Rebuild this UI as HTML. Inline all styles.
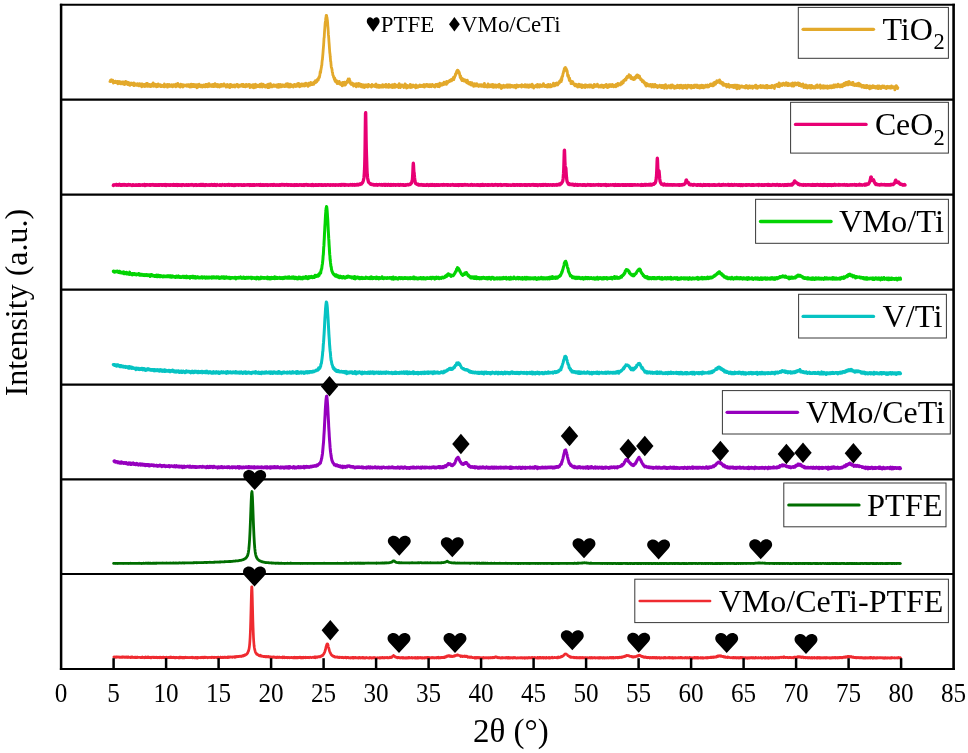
<!DOCTYPE html>
<html><head><meta charset="utf-8"><title>XRD patterns</title>
<style>html,body{margin:0;padding:0;background:#fff;}svg{display:block;will-change:transform;}text{font-family:"Liberation Serif", serif;fill:#000;}</style></head><body>
<svg width="968" height="753" viewBox="0 0 968 753">
<rect x="0" y="0" width="968" height="753" fill="#fff"/>
<path d="M110.0 81.5l.2 .1l.2-.9l.2-.6l.2-.2l.2 .9l.2-.7l.2-.3l.2 1.3l.2 0l.2 .3l.2-1l.2 .7l.2 0l.2-1l.2 1.6l.2-.1l.2 1.6l.2-1.6l.2-.2l.2 1l.2-.7l.2 .6l.2-.9l.2 .5l.2 .6l.2-.2l.2-.4l.2-.8l.2 1.1l.2-.2l.2 .5l.2-.3l.2 .7l.2-.8l.2 .2l.2 .4l.2-1.3l.2 .6l.2-.1l.2 1.9l.2-1.5l.2 .6l.2 0l.2-.6l.2-.9l.2 1.9l.2-1l.2 .9l.2-1.5l.2 .7l.2 1.3l.2 .1l.2-2l.2 0l.2 1l.2 .6l.2-.4l.2 .2l.2-1l.2 1.2l.2 .5l.2-1.2l.2-.7l.2 .5l.2 1.2l.2-1.8l.2 1.2l.2-.6l.2 .7l.2-.1l.2 .2l.2 1.2l.2-.8l.2 .7l.2-1.1l.2-.2l.2 .6l.2-2.3l.2 2.1l.2 .1l.2-1l.2 1.3l.2-.7l.2-1.4l.2 1.7l.2-.6l.2 .4l.2 .3l.2 1.1l.2-.9l.2 0l.2 .3l.2-1.6l.2 2.3l.2-1.8l.2 1.2l.2-1.2l.2 .2l.2 .4l.2 1.8l.2-.9l.2-1l.2 .3l.2-.6l.2 .8l.2-.4l.2 1l.2-1.5l.2 .8l.2-.4l.2 .1l.2 1.1l.2-.4l.2 .3l.2 .5l.2 0l.2-1.9l.2 1.5l.2-1.7l.2 1.2l.2 1.5l.2-1.5l.2-.1l.2 .4l.2-.1l.2 0l.2-.6l.2 1.4l.2-.1l.2-.8l.2 .4l.2 .3l.2 .3l.2-.5l.2 .2l.2-.7l.2-.6l.2 .5l.2 1.1l.2 0l.2-.6l.2-.5l.2 .6l.2 1.1l.2-.3l.2-1.5l.2 .5l.2-1l.2 .2l.2 1l.2-.1l.2 .7l.2 .3l.2-.3l.2 .3l.2-1.4l.2-.4l.2 1.2l.2 1.7l.2-1.7l.2-1.2l.2 1.1l.2 .9l.2-1.8l.2 1.3l.2-1l.2 1.4l.2-.3l.2-.4l.2 1.3l.2-1.8l.2-.2l.2 1.9l.2-2l.2 2.3l.2-1.7l.2-.7l.2 .8l.2 .1l.2 0l.2-.3l.2 1l.2-2.5l.2 1.3l.2 .2l.2 1.6l.2-2.9l.2 1.3l.2-.6l.2 .4l.2 .9l.2-.1l.2 .8l.2-1.6l.2 .7l.2 .7l.2-.2l.2-.9l.2 1.1l.2-1.6l.2 2.1l.2-1.3l.2-.1l.2 .2l.2 .5l.2 .7l.2-1.4l.2-.2l.2 .7l.2-1.1l.2-.6l.2 1.9l.2-.9l.2 1.1l.2-1.6l.2-1.4l.2 2.4l.2-.1l.2 1.1l.2-.8l.2-.1l.2 .2l.2-.7l.2 .3l.2-1.1l.2 1.5l.2-1l.2 .2l.2 .9l.2 .2l.2-1.5l.2 2.3l.2-1.9l.2 1l.2 .1l.2-.5l.2-.1l.2 1.3l.2-.7l.2-.3l.2-1.7l.2 .8l.2 1.4l.2-.7l.2-.9l.2 .3l.2 .2l.2 .8l.2-.2l.2 .4l.2-1.3l.2 1.3l.2-1.1l.2 .2l.2 1.5l.2-1.2l.2-.2l.2-.1l.2-.1l.2 1.5l.2-.2l.2-.4l.2-.4l.2 .6l.2-.8l.2 .4l.2-.1l.2-.2l.2 1.2l.2 .1l.2-.4l.2-2.4l.2 2.8l.2-.8l.2-.9l.2 .3l.2 .9l.2 .1l.2-.3l.2-.5l.2-.1l.2 .6l.2-.7l.2-.6l.2 .2l.2 .4l.2 .3l.2 1.5l.2-2.7l.2 1.4l.2-.5l.2 .3l.2 .8l.2-.1l.2-1l.2-.3l.2-.6l.2 1l.2 1l.2-1.2l.2 .8l.2 0l.2-.3l.2 .6l.2-.9l.2-.6l.2-.2l.2 1.5l.2-.9l.2 0l.2 .9l.2-1.2l.2 1.9l.2-.8l.2-.9l.2-.1l.2 1.3l.2-1.7l.2 .4l.2 .5l.2 .1l.2-.1l.2 .3l.2-.6l.2 .2l.2 1l.2-.4l.2-.8l.2 1.6l.2-2.8l.2 1.6l.2 .4l.2 .2l.2-.6l.2-.4l.2 .7l.2-.5l.2 .5l.2-2.5l.2 2.4l.2-.9l.2 1.3l.2-.1l.2 0l.2-.9l.2 .6l.2-.5l.2 .4l.2-.3l.2-.5l.2 2.1l.2-.9l.2-2.1l.2 2.2l.2-1.7l.2 .9l.2-.3l.2 0l.2 .6l.2-.4l.2-.8l.2 1l.2 .3l.2 1.1l.2-1.7l.2-.5l.2 .6l.2 .7l.2-1.1l.2 .1l.2 1l.2-.4l.2 .1l.2-.6l.2-.2l.2 .4l.2 .2l.2-.2l.2 .6l.2 .1l.2 0l.2-.1l.2-1l.2-.2l.2 1.5l.2-.6l.2 .1l.2-1l.2 .7l.2-.3l.2-.2l.2 .2l.2-.6l.2 1.1l.2 .9l.2-1.4l.2 .6l.2-.9l.2 1.3l.2 .9l.2-2.3l.2 .7l.2 1.3l.2-.8l.2-.2l.2-1.6l.2 1.4l.2 .8l.2 .4l.2-.6l.2-.9l.2-.1l.2-.9l.2 .6l.2 1.6l.2-.9l.2-.9l.2 2l.2-2.2l.2 2.2l.2-1.2l.2 .5l.2 .2l.2-.3l.2 .8l.2-1l.2-.2l.2-.3l.2-.6l.2 .6l.2 1.3l.2-.2l.2 .5l.2 1l.2-1.5l.2-.2l.2-1.4l.2 .8l.2 1.9l.2-1.3l.2-.5l.2 .4l.2-1.7l.2 .8l.2-.3l.2-.7l.2 2.2l.2 .2l.2-.9l.2 .4l.2-1l.2 1.1l.2 .2l.2 .6l.2 0l.2-.8l.2-.5l.2-.5l.2 .2l.2 .9l.2 0l.2-.4l.2 1.2l.2-.8l.2-.4l.2-.2l.2 .2l.2-.8l.2 0l.2 1l.2-.7l.2 .2l.2 1.2l.2-1.1l.2 1.1l.2-1l.2 1.2l.2-.8l.2-1.7l.2 2.3l.2-1.1l.2-1.3l.2 1.5l.2 .1l.2-1.1l.2 .5l.2 .9l.2 .6l.2-.2l.2 .1l.2-.1l.2-2.7l.2 1.3l.2 .7l.2-2.2l.2 2.6l.2 .1l.2-1.2l.2 .3l.2-.4l.2 .7l.2-.1l.2 .1l.2-.8l.2 1.1l.2-.6l.2 1l.2-.5l.2-1.3l.2 0l.2 1.1l.2-.4l.2 .7l.2 .3l.2-.6l.2-1.3l.2 .4l.2 1.3l.2-1.2l.2 1.6l.2-.9l.2 .5l.2-1.1l.2 .6l.2-2.1l.2 2l.2 .6l.2-1.1l.2 .1l.2 .5l.2 .1l.2-.6l.2 1.1l.2-1.7l.2 2l.2-1.9l.2 .5l.2 1.6l.2-1.8l.2-.5l.2 1.3l.2-.7l.2-.1l.2 .3l.2-.1l.2-.1l.2-.1l.2 2l.2-1.7l.2 1.2l.2-1.8l.2 1.5l.2-1.3l.2 .5l.2 .9l.2-.9l.2-1.1l.2 1.1l.2 .3l.2 .5l.2-1.2l.2 .6l.2 .2l.2-1.2l.2 1.1l.2-.5l.2 .9l.2-.4l.2 0l.2-1.7l.2 1.7l.2-.2l.2-.4l.2 .3l.2-.5l.2 1l.2 .4l.2-.1l.2-.8l.2 1.7l.2-.7l.2-1.3l.2 .6l.2-1.1l.2 1.1l.2 .6l.2 .5l.2-1.3l.2-1l.2 1.2l.2 1.1l.2-.9l.2 .9l.2-.4l.2 .6l.2-.7l.2-1l.2 .8l.2 1.6l.2-2.3l.2-1l.2 3l.2-1.3l.2-.8l.2 .1l.2-.7l.2 1.6l.2-.4l.2-.6l.2 .2l.2 0l.2 1.1l.2-.9l.2 1.1l.2-1.6l.2 .2l.2 .1l.2-.1l.2 .3l.2 .9l.2 .1l.2-1.7l.2 1.8l.2-.9l.2 1.1l.2-1.3l.2-.5l.2 1.2l.2-.1l.2-.8l.2 .3l.2 .1l.2 .2l.2-1.6l.2 .4l.2 1l.2 .1l.2-.6l.2-.9l.2 2.3l.2-1.2l.2-.6l.2 2l.2-.3l.2-.1l.2-.2l.2-.2l.2-1.1l.2 .7l.2 .3l.2 .2l.2-.1l.2-1.1l.2 .3l.2 .2l.2 .1l.2-.5l.2-.7l.2 .4l.2 1.2l.2-.3l.2 .5l.2-1.9l.2 1.1l.2 1l.2-2.1l.2 .6l.2-.4l.2 2.1l.2-.9l.2-.4l.2 .5l.2-.1l.2 .7l.2 .2l.2-.2l.2-.4l.2 .3l.2 0l.2 .3l.2-2.3l.2 1.7l.2-.2l.2 0l.2-.3l.2 .2l.2 .4l.2-.2l.2-.1l.2-.9l.2-.1l.2 .4l.2-.8l.2 .9l.2-.2l.2-.7l.2-.1l.2 1.1l.2-.1l.2 2.1l.2-1l.2-1.3l.2 .3l.2-.4l.2 .1l.2 .4l.2 .2l.2-.4l.2 1l.2-.1l.2 1l.2-2.5l.2 1.5l.2-.8l.2-.9l.2 1l.2-1l.2 1.2l.2 2.1l.2-1.1l.2 .4l.2-.5l.2-2l.2 1.4l.2-.2l.2 .2l.2-1.1l.2-.7l.2 3.1l.2-.7l.2-.6l.2-.6l.2 .5l.2-1.1l.2 1.6l.2-.6l.2-.2l.2-.2l.2 .3l.2 .1l.2-.4l.2 1l.2-.5l.2-.2l.2-.6l.2 1.5l.2 .1l.2-.5l.2-1.9l.2 1.2l.2 1l.2-.8l.2 1l.2-1.3l.2 .9l.2-.2l.2-2.2l.2 1.5l.2 .1l.2-.3l.2-.2l.2 1.9l.2-1.3l.2 .7l.2-1.6l.2-.5l.2 1.2l.2 .6l.2-.8l.2 .9l.2 .2l.2-.9l.2 .3l.2-.5l.2 1.3l.2 .5l.2-.9l.2-.8l.2-.1l.2 .3l.2 .9l.2-1.3l.2 1.7l.2-2l.2 .9l.2 1l.2 .3l.2-1.6l.2 .9l.2 1.3l.2-1l.2-2.5l.2 1.8l.2 1.6l.2-2.7l.2 1.6l.2-2.3l.2 2.8l.2-1.8l.2 1.2l.2 .1l.2-2.8l.2 1l.2 1.3l.2-1.3l.2 1.1l.2-.7l.2 1.7l.2-1.4l.2-.3l.2 1.2l.2 .4l.2-1l.2 .3l.2 .2l.2-.8l.2-.5l.2 1.3l.2-.7l.2-.7l.2 1.6l.2-.3l.2-.2l.2-.7l.2 .4l.2 .6l.2-.1l.2-.9l.2-.1l.2 .9l.2-.1l.2 .5l.2-1.5l.2 1.6l.2 .6l.2-.6l.2-.6l.2 .5l.2-1.6l.2 .6l.2 1.9l.2-2.8l.2 .4l.2 1.5l.2-1.1l.2 0l.2-.4l.2 2.1l.2-1.7l.2 .2l.2-1.1l.2 1.9l.2-.6l.2 .4l.2 .8l.2-1.1l.2-1l.2 .2l.2 .8l.2 .9l.2-1.9l.2 .7l.2 .1l.2 .6l.2-1.2l.2 .9l.2 .4l.2-.6l.2-.1l.2 .6l.2-.1l.2 .5l.2-1.7l.2 1.7l.2-1.1l.2-.7l.2 .5l.2-.5l.2 .7l.2 1l.2-2.5l.2 .8l.2 1.4l.2-.8l.2 .9l.2-1.6l.2 .9l.2-1.9l.2 1.3l.2 1.2l.2 .4l.2 .3l.2-1.3l.2-.6l.2 .3l.2-1.1l.2 2.4l.2-.1l.2-1.6l.2 2.1l.2-2.4l.2 1.4l.2-1l.2-.7l.2 1.6l.2-1.2l.2 1.8l.2-1.6l.2 .8l.2-.5l.2 .5l.2-.6l.2 1.1l.2-.2l.2-.4l.2-.2l.2 1.6l.2-2l.2 .2l.2 .9l.2-.6l.2-1.2l.2 1.1l.2-.2l.2-.5l.2 .9l.2-1l.2 .7l.2-.7l.2 2l.2-1.4l.2 .6l.2-.1l.2 .3l.2-.7l.2 .7l.2-.5l.2-1.9l.2 2l.2-1.2l.2 1.7l.2-.6l.2-.4l.2-1.6l.2 .2l.2 .7l.2 .6l.2-.7l.2 2.5l.2-1.2l.2-.4l.2-.7l.2 .5l.2 .1l.2-.2l.2 .3l.2 .6l.2-1.9l.2 1.5l.2 .6l.2-1.9l.2 .9l.2-.2l.2-.5l.2 1.5l.2-1l.2 1.1l.2-.5l.2-.6l.2 .4l.2-.5l.2-1l.2 2.3l.2-.8l.2 .6l.2-2.3l.2 2.2l.2-.2l.2-.7l.2-1.6l.2 1.7l.2-.6l.2 .3l.2 .2l.2-.8l.2 .6l.2 0l.2 1.1l.2-1.2l.2 1.8l.2-2.7l.2 .8l.2 1l.2-2.2l.2 1.6l.2-.2l.2-.7l.2 .2l.2 1.3l.2-1.6l.2 .5l.2 .1l.2 .6l.2-2.6l.2 .4l.2 .1l.2 .7l.2 .6l.2 .1l.2-.9l.2 1.3l.2-1.2l.2 .5l.2-1.2l.2 1.1l.2-1.2l.2 1.3l.2-.3l.2 .7l.2-1.8l.2-.7l.2 1.4l.2-.5l.2-.7l.2-.7l.2 1.4l.2-2.2l.2 1l.2 1l.2-1.1l.2 .3l.2-.1l.2-.1l.2 .1l.2-.5l.2-1l.2-.8l.2 .4l.2-.6l.2 .5l.2 .3l.2-.7l.2-1.5l.2 .3l.2-.6l.2-.9l.2 .8l.2-1.1l.2-.9l.2-1.9l.2-1.9l.2 .6l.2 .4l.2-2l.2-1l.2-1.4l.2-.8l.2-1.8l.2-.3l.2-3l.2-1.9l.2-.7l.2-2.5l.2-2.2l.2-2.4l.2-2.8l.2-2.2l.2-2.4l.2-3l.2-4.2l.2-.3l.2-4.2l.2-2.8l.2-2.5l.2-2.8l.2-2.5l.2-1.5l.2-1.2l.2-2.3l.2-.6l.2-2l.2 1.3l.2-1.2l.2 2.1l.2 0l.2 1.6l.2 1.4l.2 2.1l.2 3.2l.2 1.9l.2 3.3l.2 3.7l.2 1.3l.2 3.1l.2 2.9l.2 2.3l.2 3l.2 2.7l.2 3l.2 .9l.2 2.6l.2 2l.2 3l.2 .1l.2 2.6l.2 2l.2 1.3l.2 .3l.2 1l.2 .5l.2 2.1l.2 1.1l.2 0l.2 2.5l.2 .2l.2 .4l.2 .4l.2 1.3l.2-.1l.2 1.1l.2-.3l.2 1.5l.2-1.7l.2 .8l.2 2.4l.2-.2l.2 .7l.2-1.6l.2 1.3l.2 .4l.2 .2l.2-.7l.2 1.4l.2-.6l.2-1.1l.2 2.9l.2-1.6l.2 1l.2-1.4l.2 0l.2 1.4l.2 .1l.2-1.1l.2 .9l.2-1.1l.2-.5l.2 2.4l.2-1.6l.2 1.5l.2 .3l.2-.4l.2 .9l.2-.8l.2 0l.2-.2l.2 .4l.2 0l.2-1l.2 .7l.2-.2l.2 2.5l.2-1.2l.2-1.5l.2 1l.2-1.7l.2 1.3l.2 1.4l.2-1.3l.2 .9l.2-1.3l.2 .6l.2-.1l.2-1.9l.2 1l.2 1.9l.2-2.1l.2 1.5l.2 .3l.2-1.5l.2 .7l.2-.6l.2-.9l.2 .7l.2-.4l.2-1.3l.2 .1l.2-.9l.2 .4l.2-.1l.2-1l.2-.9l.2 1.7l.2 .4l.2-1.7l.2 .9l.2-.3l.2-1.2l.2 3.9l.2-1l.2-1l.2 2.4l.2-.1l.2 .8l.2-.2l.2 0l.2 .9l.2-1.1l.2 .6l.2-.8l.2 0l.2 1.2l.2 .1l.2-1.3l.2 1.6l.2 .5l.2-1.6l.2 .8l.2 1.6l.2-1.9l.2 1.1l.2 .2l.2-.4l.2 0l.2 .4l.2-.2l.2-.1l.2-1.2l.2 1.4l.2-.8l.2 1.7l.2 .6l.2-.8l.2-2.4l.2 2.4l.2-.7l.2-.9l.2 0l.2 1.7l.2-1.3l.2 .5l.2 .1l.2 .7l.2-2.7l.2 2.9l.2-1.5l.2 .3l.2 .8l.2-.2l.2-2l.2 2.2l.2-.6l.2-.6l.2 .3l.2-.7l.2 1.8l.2 .5l.2-1.6l.2 .2l.2-.8l.2 .6l.2-.2l.2 .8l.2 1.3l.2-.6l.2 0l.2-1.5l.2 1.4l.2-1.2l.2-.1l.2 1.2l.2-.6l.2 2l.2-1.7l.2-.4l.2 .8l.2-1.4l.2 1.3l.2 .7l.2-1.3l.2-.2l.2 1.2l.2-1.7l.2 1.1l.2-.6l.2 .6l.2-.8l.2 1l.2 0l.2 .9l.2-1.6l.2 .6l.2-1.6l.2 .7l.2 .8l.2-1.2l.2 .9l.2-.6l.2 1.1l.2 .1l.2-.8l.2 .8l.2-.9l.2 .5l.2 .3l.2 .1l.2 0l.2 .8l.2-1.7l.2 .3l.2-1.2l.2 2l.2-1.5l.2 .4l.2 .1l.2 .7l.2-.5l.2 0l.2 .2l.2-.3l.2 .3l.2-.7l.2 .3l.2-.5l.2 1.5l.2 .1l.2-.2l.2-.2l.2-.7l.2 .8l.2-1.6l.2-.7l.2 1l.2 2l.2-.9l.2 1l.2-1.7l.2 1.3l.2 .4l.2-.4l.2-.6l.2 .6l.2-1.1l.2 1.7l.2-2.2l.2 .3l.2 .6l.2-.6l.2 1.9l.2-.9l.2-1l.2 1.8l.2-.2l.2-1.3l.2 1.4l.2-.3l.2-1.2l.2-.1l.2 .7l.2 .6l.2 .3l.2 0l.2-1.5l.2-1l.2 .1l.2 2.4l.2-.3l.2 .1l.2-.9l.2 0l.2 .3l.2 0l.2-.3l.2-.8l.2-.2l.2 1.1l.2-.2l.2 1.1l.2-1.8l.2-.7l.2 0l.2 1.5l.2 1.2l.2-1.5l.2-.2l.2 .8l.2 .8l.2-.3l.2-.1l.2 0l.2-.9l.2 .3l.2 .2l.2 1.1l.2-3.1l.2 1.3l.2 .7l.2-.5l.2 .1l.2-.1l.2-.5l.2 1.1l.2 .6l.2-1.3l.2 .6l.2 .5l.2-1.3l.2 .4l.2-.9l.2 2.2l.2 .1l.2-1.4l.2 1.6l.2-.8l.2-2.1l.2 1.8l.2-.2l.2 .2l.2 .1l.2-.8l.2 1.2l.2-.7l.2 1.2l.2-1.5l.2-1.8l.2 3.3l.2-1l.2-1.8l.2 1l.2-.2l.2 1.3l.2-1.2l.2 1.4l.2-1.3l.2 1.1l.2-1.1l.2-.5l.2 1.4l.2-.7l.2 .6l.2-1.6l.2 .4l.2 .6l.2 1.7l.2-1.2l.2-1.5l.2-1.1l.2 3.7l.2-1.1l.2-1.2l.2 1.7l.2-.1l.2 .9l.2-1.4l.2-.6l.2 1l.2-1.6l.2 .7l.2-.4l.2 .3l.2-.6l.2-.1l.2 .3l.2 1.1l.2-.3l.2 0l.2 .4l.2 .2l.2-.2l.2 1.2l.2-1.4l.2 .1l.2-.7l.2 1.2l.2 .3l.2-3.3l.2 2.8l.2-1.4l.2 1.1l.2-.2l.2-1l.2-.1l.2 .8l.2 2.2l.2-2.9l.2 .6l.2 .1l.2 0l.2 1l.2 .7l.2-1.5l.2 .3l.2-.5l.2 1.4l.2-1.2l.2 .5l.2-.7l.2 1l.2-.9l.2-.5l.2 2l.2-2.9l.2 1.6l.2-.4l.2-.4l.2 2.2l.2-1.3l.2-.5l.2-.4l.2 .9l.2-.2l.2-.2l.2-.3l.2 1.6l.2-1l.2-.3l.2-.8l.2 .4l.2 1.1l.2-1.1l.2 1l.2-.5l.2 .4l.2-.1l.2-.6l.2 .2l.2 .1l.2 .5l.2 1.4l.2-1.2l.2-1.6l.2 2.6l.2-1.8l.2-.4l.2 .6l.2-.1l.2 .2l.2-.2l.2 0l.2 1l.2 .3l.2-1.2l.2 1.1l.2-.5l.2 .2l.2-.7l.2 0l.2 .4l.2-1.3l.2 .7l.2-.9l.2 1.6l.2-.6l.2 .3l.2-.7l.2-.3l.2 1.3l.2-1.1l.2 .2l.2 .2l.2 .3l.2-.3l.2-.8l.2 0l.2 1.5l.2-1l.2 0l.2-.4l.2 1.3l.2-.3l.2-.8l.2-.9l.2 2.7l.2-1.8l.2-.5l.2 .5l.2-.5l.2 .9l.2-.4l.2-.5l.2 1.4l.2-1.2l.2-.7l.2 1.6l.2-.7l.2-.4l.2-.4l.2 .7l.2 .1l.2 0l.2 0l.2 1.3l.2-.1l.2-.6l.2 .2l.2-.8l.2-.7l.2 1.4l.2 .7l.2-1.6l.2 0l.2 0l.2-.5l.2 1.4l.2-1.2l.2 1.8l.2 .2l.2-1.2l.2-.1l.2-.6l.2 1.3l.2-.6l.2-1.2l.2 .4l.2 1l.2-.7l.2 .7l.2-.2l.2 .9l.2-1.2l.2 .9l.2 0l.2 .2l.2-1.3l.2 .4l.2 1.7l.2-2l.2-.4l.2 .6l.2-1l.2 .2l.2 .3l.2 .1l.2 .9l.2-1.6l.2 .7l.2 .3l.2-.4l.2 .7l.2 1.1l.2-2.5l.2 .1l.2 .3l.2-.1l.2 0l.2 .7l.2 1l.2 .5l.2-2l.2-1.5l.2 2.7l.2-1.2l.2-.3l.2 1.1l.2-1l.2-.1l.2-.5l.2 1.3l.2-.1l.2-1.4l.2 .2l.2 1.3l.2-1.5l.2 .2l.2-.4l.2 .4l.2 .7l.2-.6l.2 .6l.2-.3l.2-2.1l.2 1.4l.2 0l.2-1.3l.2 1.7l.2-.7l.2-.4l.2 .6l.2 .3l.2-.3l.2-1.1l.2 .3l.2 1.7l.2-2.9l.2 .9l.2-.1l.2 1l.2-.8l.2-.4l.2-.5l.2 1l.2-1l.2-.2l.2 .1l.2 .3l.2-.6l.2 .1l.2 .3l.2-1.2l.2 .3l.2 .1l.2 .4l.2-.1l.2-.9l.2-.5l.2 .5l.2-.2l.2 .9l.2-.2l.2-.6l.2-.9l.2-.3l.2 .9l.2 .2l.2-.3l.2-.7l.2 .5l.2-2.2l.2 2.1l.2 .1l.2-1.3l.2-.3l.2-.7l.2 .5l.2-1.8l.2-.2l.2 .3l.2-1.9l.2 .9l.2-.6l.2-1l.2-.9l.2 1l.2-2.2l.2 0l.2 0l.2-1l.2 .6l.2-.8l.2 .2l.2 0l.2 .9l.2-.5l.2 1.6l.2 .7l.2-.9l.2 .2l.2 .8l.2 .9l.2 1.7l.2 .1l.2 1.8l.2 .2l.2-1.9l.2 1.2l.2 .4l.2 1.8l.2-.4l.2 .4l.2-1.1l.2 2.4l.2-2.2l.2 1l.2-.6l.2 .2l.2 1l.2-.7l.2 1.2l.2 0l.2-.3l.2 .5l.2 .5l.2 0l.2-1.6l.2 1.4l.2 .2l.2-.9l.2 .1l.2 1.2l.2-.3l.2-.3l.2 1.1l.2-.3l.2 .7l.2-1.5l.2 1.2l.2-2.1l.2 1.2l.2 1.8l.2-1.8l.2 .8l.2-.1l.2 .8l.2 .6l.2 .5l.2-1.2l.2 .5l.2 .5l.2 .3l.2-.9l.2 1.3l.2-2l.2 1.4l.2-1.2l.2 .8l.2-.2l.2 2l.2 0l.2-.6l.2-.4l.2-1.5l.2 .2l.2 1.5l.2 .5l.2-.2l.2-.8l.2 0l.2 1l.2 1.4l.2-1.2l.2-.5l.2 0l.2 .5l.2-.1l.2-1.3l.2 2.3l.2-.8l.2 .1l.2-.7l.2 1.2l.2-.1l.2-1.2l.2 1.3l.2-1.3l.2-.8l.2 2.1l.2-1.4l.2 .4l.2-.3l.2 .7l.2-.2l.2 .4l.2 .2l.2 .9l.2-.8l.2 0l.2 0l.2 .3l.2 .1l.2-.5l.2-1l.2 .1l.2 1l.2-.5l.2 0l.2-.1l.2-.1l.2 1.4l.2-.3l.2-1.5l.2 1.1l.2-.1l.2-.3l.2 1.1l.2-.5l.2-.2l.2-.7l.2 1.4l.2-.5l.2 0l.2-.7l.2 1.6l.2-3.4l.2 1.3l.2-.2l.2 .3l.2 .2l.2 .4l.2 .1l.2 .4l.2 .9l.2-.6l.2-.3l.2-.2l.2 .4l.2 .3l.2-1.1l.2 1.9l.2-1.3l.2 .6l.2-2.5l.2 2l.2-.4l.2 1.3l.2-.2l.2-.5l.2 .2l.2-.7l.2-.4l.2 1.5l.2-1.8l.2 .6l.2-.5l.2 .2l.2 .4l.2 .9l.2-1.4l.2 1.3l.2-1.9l.2 .8l.2-.1l.2 1.2l.2 .5l.2-2.7l.2 1.8l.2 1.1l.2-1.2l.2 1.3l.2-.4l.2-.6l.2-1.3l.2 .6l.2 1.6l.2-1.8l.2-.1l.2 .4l.2 1.3l.2-.8l.2-1.3l.2 .7l.2 1l.2 .4l.2 .2l.2-.7l.2 0l.2-1.1l.2 .3l.2-.6l.2 .9l.2 .4l.2-.2l.2-.8l.2 1.2l.2 .2l.2 .3l.2-2.6l.2-.2l.2 1l.2 1.3l.2 .3l.2-.2l.2-.5l.2 .1l.2-.3l.2-.3l.2-.3l.2 3.1l.2-2.5l.2 .6l.2 0l.2 .2l.2-.7l.2 .8l.2 .8l.2-2l.2 .1l.2-.4l.2 .5l.2-.6l.2 1.1l.2 .3l.2 .4l.2 .1l.2-1.3l.2 .5l.2-.8l.2 .7l.2 0l.2 .3l.2-.4l.2-.8l.2 1.6l.2-.9l.2-.9l.2-.2l.2 1.7l.2-1.8l.2 1.8l.2 .7l.2-.8l.2 .2l.2-.1l.2-.9l.2 .6l.2-1.5l.2 1.8l.2 0l.2-.3l.2 .7l.2-1l.2-1.1l.2 2.3l.2-1l.2-.5l.2 .1l.2 .1l.2 .4l.2-1.1l.2 1l.2-.3l.2 .8l.2-.8l.2 .7l.2-1.1l.2 .9l.2-.4l.2 1l.2-.5l.2 .4l.2-1.1l.2-.1l.2 .5l.2-.8l.2 .6l.2 1.1l.2-1.7l.2 .4l.2 .4l.2 1.2l.2 .4l.2-2l.2 0l.2 .6l.2-.7l.2-1l.2 1.9l.2-.1l.2-.1l.2 .2l.2-.3l.2-.6l.2 1l.2-.5l.2 .1l.2-.9l.2 .9l.2-.1l.2-.6l.2 0l.2 .3l.2 .3l.2-.5l.2-.3l.2 .9l.2-1l.2 1.1l.2-.8l.2 .5l.2 .9l.2-2.4l.2 .6l.2 .6l.2 .3l.2-.5l.2-.1l.2 .2l.2-.2l.2 .8l.2-.6l.2 .4l.2 .1l.2 .5l.2-1l.2 .2l.2 .6l.2-1.9l.2 1.6l.2-.7l.2 1.3l.2-.8l.2-.4l.2 1.4l.2-1.2l.2-.2l.2 .9l.2-1.7l.2 1.3l.2 .6l.2-1.4l.2 1.6l.2-.9l.2-.2l.2-.8l.2 2.2l.2 0l.2-1.3l.2 .6l.2-1.7l.2 1.4l.2 .3l.2-.9l.2 .1l.2 .3l.2-.4l.2-.7l.2 1.8l.2 .1l.2-.2l.2 .1l.2 .2l.2-1l.2-1.9l.2 2.2l.2-.4l.2-.5l.2 1.2l.2-1.1l.2-.1l.2 2.6l.2-2l.2 .4l.2 .3l.2 0l.2-.5l.2 .4l.2-.4l.2-.3l.2 .2l.2 .6l.2 .1l.2-.2l.2-1.5l.2 1l.2 .5l.2-.7l.2 .7l.2-.3l.2 .8l.2-2.6l.2 1.8l.2 .7l.2-.3l.2-.9l.2 .2l.2-.1l.2 .6l.2 .2l.2-.9l.2 1.2l.2-.5l.2-1.9l.2 1.3l.2 .2l.2-.4l.2 .5l.2-.1l.2 0l.2-.2l.2 .5l.2-.7l.2 .8l.2-1.7l.2 1.4l.2-.4l.2 0l.2 .5l.2-.7l.2-1.9l.2 1.3l.2 .9l.2 0l.2-.2l.2-.1l.2 1l.2-.6l.2-.7l.2 .1l.2 1.3l.2-.6l.2 .2l.2-.3l.2 .1l.2-.5l.2-.4l.2 0l.2 .1l.2 1.9l.2-.8l.2-.5l.2-.1l.2-1.1l.2 1.7l.2-1.8l.2 2l.2-1.2l.2-.6l.2 2.1l.2-1.9l.2 .5l.2 .1l.2-1l.2 1.4l.2-1.3l.2 .8l.2-.7l.2 2l.2-1.2l.2 1l.2-1.5l.2 .6l.2 .2l.2-.4l.2-.3l.2 1l.2-.6l.2-.3l.2 .6l.2-2.7l.2 1.2l.2 1.1l.2-.7l.2 0l.2-.9l.2 .8l.2 1.2l.2-1.4l.2-.5l.2 .5l.2 .9l.2-1.3l.2-.8l.2 1.3l.2-.5l.2 .2l.2-1.4l.2 .3l.2 .5l.2 .4l.2 .9l.2-.4l.2-.3l.2-.3l.2-.1l.2-.4l.2-.2l.2-1l.2-.2l.2 1.1l.2-2.1l.2 .2l.2 0l.2 0l.2-.9l.2-.2l.2-.6l.2-.3l.2-.1l.2 2.3l.2-3.8l.2 2.1l.2-3.2l.2 .5l.2-.8l.2-.1l.2-1.4l.2-1.2l.2-.3l.2-.6l.2-1.6l.2 .3l.2-.5l.2-1.9l.2-.5l.2 1.1l.2-1.8l.2-.1l.2-.1l.2-.1l.2 .9l.2 0l.2 1.7l.2-1.4l.2 1.1l.2-.2l.2 1.9l.2-1.1l.2 1.2l.2 1.2l.2 2.9l.2 .3l.2 .5l.2-.8l.2-.5l.2 2.2l.2 .9l.2-.7l.2 2.4l.2 .5l.2-2.3l.2 1.4l.2 .4l.2 .4l.2 .4l.2 .4l.2 .1l.2 2.4l.2-2l.2-.4l.2 2l.2 .1l.2-1.4l.2 .3l.2 .2l.2-.8l.2 .8l.2 1.4l.2-1.2l.2 1l.2 0l.2-.1l.2 .9l.2-.1l.2 .9l.2-.6l.2-.6l.2 1.7l.2-.9l.2 .2l.2-.1l.2-.4l.2-.4l.2 1.7l.2-1.4l.2 .3l.2 1l.2 .1l.2-.7l.2 1.5l.2-1.6l.2 2l.2-.7l.2-.9l.2-.3l.2 1.1l.2-2.1l.2 1.8l.2 0l.2 .7l.2-.1l.2-.8l.2 .2l.2-1.1l.2 1.2l.2-1l.2-.4l.2 2.3l.2 .1l.2-1.4l.2 .3l.2 1.6l.2-2.8l.2 2.2l.2-1.4l.2 .7l.2-.5l.2 1.2l.2-.2l.2-1l.2 1l.2-.1l.2 .3l.2-1.8l.2 1.4l.2-.6l.2 .2l.2-1.3l.2 2.7l.2-1.6l.2 .4l.2-1.4l.2 .9l.2 .3l.2 0l.2-.9l.2 1l.2-.5l.2 1l.2-1.5l.2 1.7l.2-1.6l.2-.1l.2 1.2l.2 .1l.2-.1l.2-.8l.2 .2l.2-.4l.2 1.5l.2-2.2l.2 .5l.2 0l.2 1.3l.2-1.5l.2 1.7l.2-1.9l.2 0l.2 1.5l.2 .1l.2-.6l.2 1.3l.2-1.3l.2-.1l.2 .3l.2 1.1l.2-1.1l.2 1.5l.2-.4l.2-.2l.2-.1l.2 .3l.2-.6l.2-2.1l.2 1.9l.2-.3l.2-.7l.2-.6l.2 1.5l.2-.9l.2 .8l.2-.6l.2 .9l.2-1l.2 .9l.2-.2l.2-.3l.2 .1l.2 .4l.2-2.2l.2 .6l.2 1.5l.2-.1l.2 .2l.2 .1l.2-1l.2 1.7l.2-.4l.2-.3l.2-.5l.2-.3l.2 .1l.2 .7l.2-.2l.2 .5l.2-.4l.2-.5l.2 1.2l.2-2l.2 .1l.2 1.3l.2-.7l.2-.7l.2 0l.2 1.1l.2 1l.2 0l.2-1.1l.2-.1l.2-.5l.2 2.1l.2-1.5l.2-.2l.2 .8l.2 .3l.2-.8l.2 .8l.2-1.8l.2 1.3l.2 .1l.2-.2l.2 .2l.2-.4l.2 .3l.2-2l.2 1l.2 1.2l.2-1.5l.2 .2l.2 2.1l.2-1.4l.2 .1l.2 .1l.2 1l.2-1.5l.2-.4l.2 .8l.2 .8l.2-2.4l.2 1.2l.2-.2l.2 .4l.2 .4l.2-.3l.2-1.4l.2 1l.2 .1l.2 0l.2 .8l.2-1l.2-.3l.2 .4l.2 .1l.2 .5l.2-1.9l.2 .3l.2 .9l.2 .8l.2-.8l.2 .2l.2 1.1l.2-1.2l.2 .1l.2-.3l.2 .7l.2-.3l.2-.6l.2 .7l.2-.3l.2-.7l.2 .9l.2 .9l.2-2.4l.2 0l.2 .7l.2-.1l.2 .3l.2-.3l.2 .1l.2 .7l.2 .1l.2-2.6l.2 1.9l.2-.4l.2 .3l.2-.4l.2 .1l.2-.5l.2-.3l.2 .2l.2 .7l.2-.7l.2-.1l.2 .9l.2-.4l.2-1.4l.2-.1l.2 .4l.2 .4l.2 .3l.2-2.2l.2 2.1l.2-1.1l.2 0l.2 .3l.2-.6l.2-.2l.2 .4l.2 0l.2-1.9l.2-.6l.2 .2l.2 .7l.2-.6l.2-.2l.2-.5l.2-.5l.2 .7l.2-.7l.2 0l.2-.1l.2 .4l.2 .2l.2-2.3l.2 1.1l.2-1.1l.2-.1l.2 .3l.2-1.5l.2 .1l.2 .7l.2-.5l.2 .8l.2-.9l.2-.5l.2-.2l.2 .6l.2-1.8l.2 2.4l.2-.6l.2-.6l.2 .7l.2 .5l.2-1.1l.2 1.7l.2-2.1l.2 2.9l.2-1.1l.2 .5l.2-.2l.2-.1l.2 1.3l.2-1.3l.2 .7l.2 .6l.2-1.2l.2 1.4l.2-1.1l.2 1.4l.2-.9l.2 1.2l.2-1.1l.2-.7l.2 1.4l.2 .1l.2-.3l.2-1.9l.2 .2l.2 1.3l.2-.4l.2-.8l.2 0l.2 .1l.2-1.9l.2 .5l.2-.1l.2 1.5l.2-1.2l.2-1.4l.2 1.4l.2-.2l.2-.3l.2-.6l.2 .4l.2 1l.2-.5l.2 1l.2 .6l.2-1.1l.2-.7l.2 .7l.2 1l.2 .8l.2-.5l.2 .4l.2 .5l.2 1l.2-.1l.2-.5l.2 .1l.2 .7l.2-.2l.2 0l.2 1.8l.2-.4l.2-.8l.2 1.4l.2-.9l.2 .3l.2-.3l.2 .5l.2 .7l.2 .7l.2-.1l.2 .4l.2 0l.2-.2l.2 1.3l.2-1.6l.2 .2l.2 2.4l.2-1.2l.2 .1l.2 1.9l.2-2.7l.2 2.1l.2-1.2l.2 0l.2-.5l.2 .7l.2 .7l.2-.5l.2-.3l.2 .7l.2 .7l.2-.8l.2-.3l.2 .1l.2 .6l.2-.7l.2 1.5l.2-1.4l.2 1.3l.2-.9l.2 .7l.2-1.4l.2 .8l.2-.6l.2 .2l.2 .6l.2-.8l.2 2.4l.2-.2l.2-.6l.2-.6l.2-.4l.2-.9l.2 2l.2-1.5l.2 .9l.2-.4l.2 .4l.2 1.3l.2-1.3l.2 0l.2 .8l.2-1l.2-1.1l.2 .9l.2 .4l.2-.4l.2 1.4l.2 .1l.2-1.6l.2 .8l.2 .1l.2-.4l.2-.2l.2 .8l.2-.6l.2 1.7l.2-1.4l.2 .1l.2 .1l.2 .1l.2-.5l.2 .8l.2 .1l.2-.4l.2 .1l.2-1.3l.2 .7l.2 .4l.2-.3l.2 1.1l.2-.5l.2-.3l.2-.5l.2 .2l.2 .1l.2 1.5l.2-2.2l.2 1.6l.2-.9l.2 1.5l.2-.5l.2-1.4l.2 .9l.2-1.3l.2 1.6l.2-.6l.2-.7l.2 .8l.2 .5l.2 1.4l.2-1.2l.2-.4l.2-.3l.2-1.6l.2 .5l.2-.6l.2 .9l.2 1.6l.2 .2l.2-.7l.2-.5l.2 .8l.2 1.2l.2-1.6l.2 .9l.2 0l.2-1.6l.2 .7l.2-.7l.2 .9l.2-.6l.2-.4l.2 1.2l.2-.5l.2-.1l.2 .8l.2-.3l.2 .6l.2 .4l.2-2.3l.2 1.3l.2-1.7l.2 2l.2 .8l.2-2.2l.2 1.7l.2-.4l.2-.2l.2-2l.2 .9l.2 .5l.2 .3l.2 .1l.2 .5l.2-.5l.2-.2l.2-.6l.2 .1l.2 .5l.2 1.8l.2-2l.2 .3l.2 .8l.2-.2l.2-.1l.2-.4l.2 1.1l.2-1.6l.2 1.5l.2 .1l.2-1l.2-.6l.2 0l.2 .6l.2-1.6l.2 2.4l.2-1.6l.2-.3l.2 1.3l.2-.3l.2-.7l.2 1.6l.2-1.8l.2 .4l.2-.7l.2 2.5l.2-.9l.2-1.5l.2 1.4l.2-.8l.2-.2l.2 .5l.2-1.3l.2 1.6l.2-.1l.2 1.1l.2-1.8l.2-.4l.2 .3l.2 .3l.2 1.1l.2 1l.2-1.2l.2-.1l.2-1.2l.2-.2l.2 .2l.2 1.4l.2 .3l.2-1l.2-.8l.2 1.5l.2-.6l.2-.5l.2-.6l.2-.2l.2 2.5l.2-1.5l.2 .6l.2 .1l.2 .3l.2 1l.2-1.8l.2 1.1l.2-1.6l.2-.4l.2 1l.2-1.4l.2 .3l.2 .6l.2 1l.2-.6l.2-1.2l.2 1.3l.2-.4l.2 .1l.2-.1l.2 .4l.2 .6l.2-.2l.2-.3l.2-.7l.2-.5l.2 2.6l.2-.3l.2-2.4l.2 1.5l.2 0l.2-.2l.2 .1l.2-.5l.2 1.4l.2-.8l.2 .5l.2-.6l.2 0l.2-.5l.2 1.2l.2-2.3l.2 2.4l.2-1.2l.2 .4l.2-.6l.2-1l.2 .7l.2 1l.2-.7l.2 .7l.2-1l.2-.7l.2 1.3l.2-.3l.2-.2l.2 1.6l.2-2.4l.2 1.4l.2-.3l.2 1.2l.2-.9l.2 .2l.2-.1l.2 0l.2-.4l.2 .1l.2 .7l.2 1.1l.2-2.5l.2 1l.2-1l.2 2.2l.2-.1l.2-1.2l.2 .9l.2-.9l.2-1.1l.2 2.2l.2-2.5l.2 .4l.2 1.7l.2-.3l.2-.2l.2-.7l.2-.3l.2-.4l.2 1.8l.2-.5l.2 1.2l.2-1.3l.2 .1l.2-.9l.2 .1l.2 .7l.2-1l.2 1.3l.2 .1l.2-1.8l.2 1.4l.2-.3l.2-.1l.2-.4l.2 1.1l.2-.7l.2 .3l.2-.3l.2-.8l.2-.4l.2 2.1l.2 0l.2-1.3l.2 .8l.2 .1l.2 .1l.2-.5l.2-.8l.2 .6l.2-1l.2 .5l.2-.9l.2-.6l.2 .5l.2-.6l.2 1.5l.2 .1l.2-.2l.2-1l.2 .4l.2-1l.2 1.2l.2 0l.2 .9l.2-2.2l.2 .5l.2-.1l.2 1.8l.2-1.7l.2 0l.2-1.6l.2 .9l.2 1.6l.2-.7l.2-.7l.2-.9l.2-.6l.2 .7l.2-.7l.2 1.9l.2-2.2l.2-.1l.2 .8l.2-.5l.2-1l.2-.4l.2 .2l.2 1.7l.2-1.7l.2 .2l.2 .8l.2 .5l.2-.6l.2-.3l.2-.8l.2-.2l.2 .9l.2-.1l.2 .3l.2-1.6l.2 .6l.2 1.8l.2 .6l.2-.8l.2-.9l.2 1.5l.2-1l.2 .6l.2 .2l.2 .9l.2 .4l.2-.2l.2-1.1l.2 1.7l.2-1l.2-.6l.2 1.9l.2 .8l.2-2l.2 .6l.2-.1l.2 .2l.2 1.3l.2-.1l.2-.4l.2 0l.2-.6l.2 .3l.2-.1l.2 1.1l.2 .1l.2-.7l.2 .9l.2-1.2l.2 2.3l.2-2.3l.2 .4l.2 .4l.2 .7l.2-.3l.2-.8l.2 1.1l.2 .2l.2-1.4l.2-.7l.2 2l.2-1.1l.2 1.5l.2 .7l.2-.4l.2-.7l.2 .4l.2-.7l.2-.5l.2 .6l.2-.2l.2 .5l.2-1l.2 .1l.2 .8l.2 .1l.2-.1l.2 .7l.2-1.7l.2 1.5l.2-.6l.2 .2l.2 .8l.2-.7l.2 .6l.2 .5l.2-1.2l.2-1.3l.2 1l.2 0l.2 .6l.2-.8l.2 .7l.2 .1l.2-1.6l.2 2.6l.2-1.6l.2-.5l.2 .4l.2 1.1l.2 1.8l.2-3.8l.2 1l.2 1.4l.2-1.4l.2 .6l.2-.4l.2 .3l.2 .3l.2-1l.2 0l.2-.3l.2 1.2l.2 1.7l.2-1l.2-.9l.2 1.1l.2-.5l.2-.7l.2-.3l.2 .6l.2-.7l.2 .6l.2 .3l.2-1.2l.2 .1l.2 .6l.2-.4l.2 .6l.2 .3l.2 0l.2 .3l.2-.5l.2 .2l.2-.3l.2 .1l.2-.1l.2 .1l.2-.3l.2 .5l.2 .4l.2 .4l.2 .2l.2-.6l.2-1.1l.2-.5l.2-.2l.2 1l.2 .4l.2 .6l.2-.7l.2-.1l.2-.9l.2 1.4l.2 .9l.2-1.7l.2 1.9l.2-1l.2-1.2l.2 1.1l.2-.3l.2 .1l.2-1.2l.2 1.2l.2 .4l.2-1.5l.2 1.2l.2 .6l.2-.7l.2-.8l.2 .4l.2 .7l.2-.1l.2-.5l.2-.4l.2-.1l.2 .4l.2-.7l.2 1.1l.2 1.2l.2-1.6l.2 .1l.2 .1l.2 .4l.2-.6l.2 .6l.2-1.1l.2-.2l.2 .4l.2 .8l.2-.8l.2-.1l.2 .7l.2-1.6l.2 1.1l.2-1.4l.2 1.3l.2 1.8l.2-2.6l.2 2.1l.2-1.3l.2 0l.2 .2l.2 1.7l.2-1.9l.2 .5l.2-.4l.2 .2l.2 .7l.2-.3l.2-.2l.2-.6l.2 .7l.2-.3l.2 .1l.2 .1l.2-.5l.2-.5l.2 1.2l.2-1.6l.2 2l.2-1.1l.2-.3l.2 1.5l.2-1.3l.2 .6l.2-.8l.2 1l.2 0l.2-.5l.2 0l.2-1l.2 2l.2-1.3l.2 .4l.2-.3l.2 .6l.2-.4l.2-.1l.2 .1l.2 .3l.2 1l.2-2l.2 1.6l.2-.7l.2 .3l.2-.9l.2 1.3l.2-.2l.2-2l.2 .1l.2 2.6l.2-1.7l.2 .2l.2-.9l.2 1.1l.2 0l.2-.4l.2 1.3l.2-1.1l.2 .8l.2-.6l.2 .1l.2-.4l.2-.2l.2 1.5l.2-.3l.2 .1l.2-1.4l.2 .2l.2 .4l.2-.4l.2 .7l.2 .7l.2-1.6l.2 .1l.2-.8l.2 2l.2-.8l.2 .1l.2-.8l.2 .5l.2-.2l.2-.3l.2 .8l.2 .6l.2-.1l.2-1.1l.2 2.4l.2-2.7l.2 .4l.2-1l.2 .7l.2 .4l.2-.7l.2 .4l.2-.7l.2 .4l.2-.7l.2 .6l.2-1.3l.2 .9l.2 .2l.2 .2l.2 1l.2-1.8l.2 .2l.2 1.1l.2-1.3l.2 .3l.2-1.1l.2-1.1l.2 3.9l.2-1.1l.2 .8l.2-1.6l.2-1.1l.2 1.3l.2-1.1l.2 .8l.2 .1l.2 0l.2-1.1l.2 .6l.2 .2l.2 .6l.2-1.3l.2 1.6l.2-1l.2-.2l.2-.8l.2 .7l.2 .2l.2-1.2l.2 1.2l.2-.3l.2-.4l.2-.3l.2 .4l.2 .7l.2 .8l.2-1.1l.2-.3l.2 .8l.2 .3l.2-.1l.2-.6l.2-1.7l.2 2l.2-.1l.2-.8l.2 1l.2-.8l.2 .6l.2 1.2l.2-1.3l.2-1.3l.2 2.5l.2-.8l.2 .1l.2-1.3l.2 0l.2 1.1l.2-.1l.2 .5l.2-.3l.2 .4l.2-.6l.2 .6l.2-.6l.2 .7l.2 .1l.2-1.7l.2 1.1l.2-.3l.2 .3l.2 1.3l.2-1.9l.2 .3l.2 .2l.2-1.8l.2 2.6l.2-.6l.2-.7l.2 .8l.2 1.2l.2-2.7l.2 1.6l.2 .2l.2-1.9l.2 .8l.2-1.3l.2 1.1l.2-.8l.2 .9l.2-.7l.2 1.1l.2 0l.2 .4l.2-1.4l.2-.1l.2 0l.2-.2l.2 .4l.2-.6l.2 .6l.2 .9l.2 .1l.2-.3l.2-1.4l.2 2.4l.2 .3l.2-.6l.2-.9l.2 .9l.2-.5l.2-1l.2 2.1l.2-.1l.2-.2l.2 .2l.2-.4l.2-.8l.2 2.1l.2-1.3l.2 0l.2 .7l.2-1.5l.2 1.1l.2 .7l.2-.6l.2-1.5l.2 1.9l.2 .6l.2-1.6l.2 2.7l.2-1.5l.2 0l.2 .3l.2 .4l.2-.5l.2-.2l.2 .4l.2-1.2l.2 2.4l.2-2.7l.2 1.2l.2-.4l.2 .6l.2-.1l.2 .9l.2-.8l.2-.2l.2 1.8l.2-2.3l.2 .8l.2-.3l.2 1.1l.2-.8l.2 1l.2-1.5l.2 .8l.2 .2l.2-.4l.2 .2l.2-1.3l.2 1.5l.2-.5l.2 1.6l.2-2.1l.2-.4l.2 2.6l.2-.1l.2-1.5l.2-1.3l.2 .9l.2 .8l.2 .1l.2 .4l.2 .1l.2-.4l.2-.6l.2 1.2l.2 .2l.2-.9l.2-.6l.2 .9l.2-.5l.2-.1l.2 .1l.2 .8l.2 .3l.2-.4l.2-.4l.2-.6l.2-.9l.2 1l.2 .5l.2-1l.2 1l.2-.9l.2 .8l.2-2.2l.2 2.3l.2 .2l.2-.5l.2 .5l.2-1.2l.2 .7l.2-.3l.2 .3l.2 0l.2 .1l.2-.7l.2 .3l.2-1l.2 1.1l.2-1.7l.2 2.1l.2 1.2l.2-1.8l.2 .1l.2 .4l.2 .2l.2 .2l.2-.9l.2 .2l.2 .5l.2 0l.2-1.2l.2 1.3l.2 .9l.2-2.6l.2 1l.2 .1l.2-.6l.2-.2l.2 2.2l.2-1.1l.2 .2l.2 .4l.2-1.6l.2 1.8l.2-1.4l.2 1.3l.2-.8l.2 1l.2-.6l.2-.5l.2 .8l.2-1.2l.2 .9l.2-1.5l.2 .9l.2 1.6l.2-.8l.2-1.4l.2 1.7l.2-1.2l.2 .5l.2-.6l.2 .8l.2-.9l.2 1.4l.2-1.2l.2-.3l.2 .2l.2-.7l.2 1.5l.2 .3l.2 .2l.2-.7l.2-.5l.2 1.1l.2 .1l.2-1.6l.2-.4l.2 .5l.2 .4l.2 .8l.2 0l.2-.6l.2 .6l.2-1.1l.2 .1l.2-1.6l.2 1.3l.2 .2l.2 1l.2-.9l.2-.3l.2 .4l.2-.4l.2-1.2l.2 .9l.2 .4l.2-.1l.2-.3l.2 .1l.2 .8l.2-1.6l.2 .9l.2-.3l.2 .2l.2 .2l.2 .5l.2-2.5l.2 1.8l.2-.8l.2-.4l.2 1.3l.2-.1l.2-.6l.2 .3l.2-.5l.2 1.6l.2 .2l.2-.5l.2-1.7l.2 1.3l.2-.3l.2-.3l.2-.2l.2-.1l.2-.3l.2-.2l.2-.1l.2 2.3l.2-1.5l.2-.9l.2-.1l.2 .8l.2 .9l.2-.2l.2-2.1l.2-.3l.2 .4l.2 .6l.2-.7l.2-.1l.2 1.8l.2-2.5l.2 1.3l.2-.7l.2-.4l.2 1.7l.2-2.4l.2 1l.2-.4l.2-.4l.2 .1l.2 .3l.2 1.8l.2-1.6l.2-.6l.2-.9l.2 1.2l.2 .4l.2 1.5l.2-3.2l.2 .1l.2-.3l.2 .3l.2 2l.2-.9l.2-.4l.2 .7l.2-.1l.2 0l.2 1.1l.2-.2l.2-.8l.2 1.3l.2-.1l.2-.9l.2-.1l.2 .2l.2-.4l.2-.8l.2 2.5l.2 .2l.2-2.7l.2 1.6l.2-.4l.2 .5l.2 .6l.2 .6l.2-.4l.2 .2l.2 .3l.2-.6l.2 .7l.2-.2l.2-1.1l.2 1.1l.2-.9l.2 1.1l.2 .1l.2-1.8l.2 1.4l.2-1.1l.2 .3l.2 .1l.2 .8l.2 .1l.2-.5l.2-1.5l.2 2l.2 .5l.2-2.8l.2 1.6l.2 .1l.2 .6l.2-.3l.2 1l.2-1l.2-.3l.2-.7l.2 .1l.2 1.3l.2 .7l.2-1.2l.2 1.3l.2-.7l.2 1l.2 .4l.2-.6l.2-1l.2 1.5l.2-.6l.2 0l.2 .3l.2 .2l.2 .4l.2-1.8l.2 1.9l.2-.7l.2 .9l.2-1.1l.2 .7l.2 .2l.2 .3l.2-1.2l.2 1.3l.2-1.4l.2-.5l.2 .3l.2-.4l.2 2.1l.2-.3l.2-2.1l.2 1.2l.2 .4l.2 0l.2-.6l.2-.1l.2 1.2l.2-.7l.2-.6l.2 .9l.2-.7l.2 .3l.2 .8l.2-.7l.2 2l.2-2.9l.2 .3l.2 1.9l.2-1l.2-.2l.2 .8l.2-.8l.2-.6l.2 1.9l.2-1.1l.2 .1l.2 0l.2-.2l.2-.6l.2-.1l.2-.5l.2 1.9l.2-.6l.2-.2l.2-.9l.2 .1l.2 .7l.2 .6l.2-.4l.2 .1l.2-.6l.2 1.2l.2-.3l.2 .7l.2-.6l.2-1.1l.2 .3l.2 .3l.2 1l.2-.8l.2 0l.2 1l.2-.4l.2-.1l.2-1.8l.2 1.2l.2 1.6l.2-1l.2 .5l.2 .4l.2-.8l.2-2l.2 1.7l.2-.4l.2-.5l.2 1.4l.2-1.3l.2 1.5l.2-.6l.2-.7l.2-.3l.2 2l.2-1.5l.2 .4l.2-.3l.2-.6l.2 .4l.2 .1l.2-1.1l.2 .7l.2-.1l.2 .9l.2-.1l.2-1l.2 .4l.2 .6l.2-.7l.2-.7l.2 1.9l.2-.6l.2-.3l.2-.1l.2 .6l.2-.5l.2 .3l.2 .8l.2 .3l.2 .1l.2-1.9l.2 .7l.2-.9l.2 .1l.2-.2l.2 .7l.2 0l.2-.4l.2 .6l.2 .5l.2-.8l.2-.2l.2 1.2l.2-.7l.2 .3l.2-1l.2 1.3l.2 .2l.2-1.4l.2-.1l.2 .5l.2 .8l.2 .1l.2 .3l.2-1.5l.2-.8l.2 .8l.2 .7l.2 .3l.2-1.4l.2 1l.2-.2l.2 .6l.2-1l.2 .5l.2-.1l.2 .5l.2-.2l.2 .3l.2-.2l.2 .5l.2-1.4l.2 3.3l.2-1.5l.2-2.1l.2 1.6l.2-.9l.2-.2l.2 1.5l.2-2.7l.2 1.2l.2 1l.2-1.7l.2 1.9l.2-1l.2 .4l.2 1.1l.2-1" fill="none" stroke="#E3A92B" stroke-width="2.8" stroke-linejoin="round" stroke-linecap="round"/>
<path d="M113.3 185.5l.2-.6l.2 .2l.2-.1l.2 .2l.2-.5l.2 .2l.2-.1l.2 0l.2 0l.2 .1l.2 0l.2-.1l.2 .3l.2-.2l.2-.5l.2 .8l.2-.3l.2 0l.2 .2l.2-.1l.2 0l.2-.2l.2 .2l.2-.3l.2 .6l.2-.6l.2 .3l.2 0l.2 0l.2 0l.2 .1l.2-.8l.2 .7l.2-.1l.2 0l.2 .4l.2-.5l.2 .2l.2-.4l.2 .4l.2-.4l.2 .1l.2 .7l.2-.3l.2-.1l.2 0l.2-.3l.2 .1l.2 .3l.2-.6l.2 .5l.2-.4l.2 .4l.2-.3l.2 .6l.2-.1l.2-.3l.2-.3l.2 .2l.2 .2l.2-.2l.2 .2l.2 .2l.2-.2l.2-.1l.2 .2l.2-.2l.2 .2l.2-.2l.2 .4l.2-.4l.2-.1l.2 .2l.2-.2l.2 0l.2 .1l.2 .2l.2-.6l.2 .5l.2-.1l.2 0l.2 .2l.2-.4l.2 .4l.2-.2l.2 .1l.2-.1l.2 0l.2 0l.2 .2l.2 .3l.2-.2l.2-.1l.2 0l.2-.2l.2 .2l.2 .3l.2-.7l.2 .4l.2 .1l.2-.2l.2 .1l.2 .2l.2 .1l.2-.2l.2 .1l.2-.2l.2 .1l.2-.2l.2 0l.2-.1l.2 .2l.2 .2l.2-.3l.2 0l.2 .1l.2-.1l.2 .2l.2-.2l.2-.2l.2 0l.2 .3l.2 0l.2 .1l.2-.2l.2 0l.2-.3l.2 .6l.2-.5l.2 .4l.2-.4l.2 .1l.2 .1l.2-.1l.2 0l.2 .3l.2-.1l.2 0l.2-.2l.2-.1l.2 .1l.2 0l.2 .1l.2 .1l.2-.1l.2-.2l.2 .1l.2 .4l.2-.3l.2 0l.2 .1l.2 0l.2-.1l.2 .2l.2 0l.2-.8l.2 .6l.2 .6l.2-.9l.2 .3l.2 .2l.2-.2l.2 .3l.2-.6l.2 0l.2 .3l.2-.1l.2-.1l.2 .3l.2 0l.2-.1l.2-.1l.2 .2l.2-.1l.2-.1l.2 .2l.2 0l.2-.1l.2 .1l.2-.3l.2 .2l.2-.1l.2 .4l.2-.2l.2 .3l.2-.1l.2-.4l.2-.1l.2 .3l.2-.2l.2 .1l.2-.2l.2 .3l.2-.1l.2 .1l.2 0l.2-.3l.2-.2l.2 .3l.2 0l.2 0l.2 .3l.2-.2l.2 .3l.2-.3l.2 .1l.2 0l.2 .1l.2-.5l.2 .5l.2-.2l.2-.2l.2 .3l.2 0l.2 .2l.2-.2l.2 0l.2-.4l.2 .6l.2 0l.2-.1l.2-.1l.2 .1l.2-.4l.2 .3l.2-.1l.2-.2l.2 .3l.2 0l.2 .2l.2-.1l.2-.5l.2-.1l.2 .4l.2 0l.2-.2l.2-.1l.2 .3l.2-.2l.2 .1l.2 .3l.2-.2l.2-.2l.2 0l.2 .2l.2 .3l.2-.4l.2 .4l.2-.5l.2 .2l.2 .1l.2-.3l.2 .2l.2-.3l.2 .4l.2 .1l.2-.3l.2 .1l.2-.1l.2-.3l.2 .9l.2-.4l.2 .1l.2-.1l.2-.1l.2 .5l.2-.9l.2 .3l.2 0l.2 .1l.2 .1l.2-.2l.2-.2l.2 .1l.2 .3l.2 .1l.2 0l.2 .1l.2-.4l.2 .3l.2-.1l.2-.1l.2-.2l.2 .4l.2-.3l.2 0l.2-.1l.2 .5l.2-.3l.2-.1l.2 0l.2 .1l.2 0l.2-.3l.2 .1l.2 .3l.2 .1l.2-.4l.2 .2l.2-.1l.2-.4l.2 .4l.2-.1l.2 .4l.2-.2l.2 0l.2-.3l.2 .3l.2-.4l.2 .4l.2 .3l.2-.5l.2 .4l.2 .1l.2-.3l.2 .2l.2-.2l.2-.1l.2-.3l.2 .2l.2-.1l.2 .8l.2-.4l.2-.1l.2-.3l.2 .6l.2-.5l.2 .5l.2-.1l.2-.2l.2-.1l.2 .1l.2-.3l.2 .4l.2 .2l.2-.1l.2 0l.2-.3l.2 .2l.2-.3l.2 .1l.2 .2l.2 .4l.2-.5l.2 0l.2-.4l.2 .4l.2-.2l.2-.1l.2 0l.2 .3l.2-.1l.2 .2l.2-.1l.2 0l.2 .3l.2-.1l.2 0l.2 .1l.2-.3l.2-.2l.2 0l.2-.1l.2 .4l.2-.2l.2 .2l.2 .1l.2-.4l.2 .2l.2 .3l.2-.3l.2 .2l.2-.2l.2-.2l.2 .2l.2-.4l.2 .5l.2-.2l.2 .4l.2-.5l.2 .2l.2 .1l.2-.1l.2 .1l.2-.3l.2 0l.2-.1l.2 .2l.2-.1l.2 .2l.2-.1l.2 0l.2 0l.2-.3l.2 .3l.2 .2l.2-.4l.2 .2l.2 .2l.2-.2l.2 .1l.2-.1l.2 .6l.2-.2l.2-.1l.2-.3l.2 .2l.2-.1l.2 .1l.2-.2l.2 .1l.2-.2l.2 .3l.2 .3l.2-.7l.2 0l.2 .4l.2 .1l.2-.3l.2 .2l.2 0l.2 0l.2 .2l.2-.4l.2 .2l.2-.1l.2-.1l.2 .2l.2-.4l.2 0l.2 .5l.2-.4l.2 .5l.2-.1l.2-.3l.2-.1l.2-.3l.2 .5l.2-.3l.2 .6l.2-.6l.2 .3l.2-.6l.2 .5l.2 .4l.2-.4l.2-.1l.2 .1l.2 .2l.2 .1l.2-.3l.2-.3l.2 .5l.2 .1l.2 .3l.2-.5l.2 0l.2-.1l.2 .3l.2 .2l.2-.6l.2 .2l.2-.2l.2 .1l.2 .1l.2 .1l.2-.3l.2 .1l.2 .4l.2-.2l.2 0l.2 0l.2-.1l.2 .1l.2 0l.2-.1l.2 .2l.2-.2l.2 .2l.2-.2l.2 .1l.2-.2l.2 0l.2-.1l.2 .4l.2-.1l.2-.1l.2 .1l.2-.3l.2 .2l.2-.1l.2-.3l.2 .3l.2-.1l.2 .5l.2-.5l.2 .1l.2 .3l.2-.2l.2-.3l.2 .3l.2-.2l.2 .5l.2-.5l.2 0l.2-.4l.2 .5l.2 .5l.2-.4l.2-.2l.2 .3l.2-.2l.2 .1l.2 .5l.2-.1l.2-.1l.2 0l.2-.5l.2-.2l.2 .5l.2 0l.2-.1l.2 0l.2 .1l.2 0l.2 0l.2 0l.2-.1l.2-.1l.2 .4l.2-.4l.2 .5l.2-.3l.2-.1l.2 .2l.2-.3l.2 .1l.2-.1l.2 .1l.2 .1l.2 .3l.2-.3l.2-.3l.2 0l.2-.2l.2 .5l.2 .1l.2-.1l.2 0l.2 0l.2 0l.2 0l.2-.1l.2-.2l.2 .4l.2 .1l.2-.6l.2 .3l.2-.2l.2 .3l.2-.2l.2 .4l.2-.1l.2-.3l.2 0l.2 0l.2 .2l.2-.3l.2 .3l.2-.4l.2 .5l.2-.1l.2-.3l.2 0l.2 .2l.2 .1l.2-.7l.2 .6l.2 .3l.2-.4l.2-.2l.2 .5l.2-.2l.2 0l.2 .1l.2-.4l.2 .2l.2-.1l.2 0l.2 .1l.2-.1l.2 .5l.2-.2l.2 .1l.2-.5l.2 .3l.2 0l.2 0l.2 .1l.2-.3l.2 0l.2 .4l.2 .3l.2-.1l.2-.5l.2-.1l.2 .2l.2 .1l.2 .3l.2-.5l.2-.1l.2 .4l.2-.4l.2 0l.2 .3l.2-.1l.2-.2l.2 .1l.2 0l.2 .1l.2-.2l.2 .3l.2-.2l.2 0l.2 .3l.2-.4l.2 .4l.2-.1l.2-.2l.2 .1l.2-.3l.2 .3l.2-.2l.2 0l.2 .2l.2-.2l.2 .2l.2 .1l.2 .1l.2-.1l.2 .1l.2-.4l.2 .1l.2 .2l.2 .1l.2-.1l.2-.2l.2-.1l.2 0l.2 .4l.2-.4l.2 .1l.2 .2l.2 0l.2-.2l.2 .5l.2-.4l.2 .1l.2 .1l.2-.3l.2 .2l.2-.1l.2-.2l.2 0l.2 .3l.2-.1l.2 0l.2-.1l.2 0l.2 .3l.2 0l.2-.3l.2 .1l.2-.4l.2 .2l.2 .1l.2-.1l.2 .3l.2-.5l.2 .5l.2 0l.2 .3l.2-.5l.2 .2l.2 .2l.2-.1l.2-.4l.2 .1l.2-.1l.2 .2l.2 .1l.2 .2l.2-.2l.2 .1l.2 0l.2-.4l.2 .3l.2 .1l.2-.2l.2-.2l.2 .2l.2 0l.2 .1l.2-.5l.2 .3l.2 .5l.2-.1l.2-.3l.2-.1l.2 0l.2-.1l.2 .1l.2 .1l.2-.2l.2 .2l.2 .1l.2-.4l.2 .2l.2-.2l.2 .3l.2 0l.2-.1l.2 .1l.2 .1l.2 0l.2-.4l.2 .2l.2-.2l.2-.1l.2 .6l.2 0l.2 .1l.2-.1l.2-.3l.2 .1l.2-.1l.2 .4l.2-.8l.2 .6l.2-.2l.2 .2l.2 .1l.2-.3l.2 .4l.2-.1l.2-.5l.2 .7l.2-.6l.2-.1l.2 .5l.2-.3l.2 .1l.2 0l.2-.2l.2 .5l.2 0l.2-.3l.2 .3l.2-.3l.2 0l.2-.1l.2-.2l.2 .2l.2-.1l.2 .3l.2-.1l.2-.1l.2 .4l.2-.2l.2 .3l.2-.5l.2 0l.2-.1l.2 .2l.2 0l.2 0l.2 .3l.2-.1l.2-.3l.2 .2l.2-.2l.2 0l.2 .1l.2 0l.2 .1l.2 .1l.2-.2l.2-.2l.2 .2l.2 0l.2-.1l.2-.1l.2 .2l.2-.4l.2 .7l.2-.2l.2 0l.2-.3l.2 .2l.2 .3l.2-.3l.2-.2l.2 .2l.2-.5l.2 .7l.2-.1l.2-.4l.2 .4l.2 .1l.2-.1l.2 0l.2 .2l.2-.3l.2 .3l.2-.3l.2-.1l.2 0l.2-.1l.2 .3l.2-.2l.2 .2l.2 0l.2 .2l.2 .1l.2-.5l.2 .1l.2 0l.2-.1l.2 .5l.2-.2l.2-.2l.2-.3l.2 .2l.2 .1l.2 .3l.2-.6l.2 .6l.2-.6l.2 .4l.2-.3l.2 .1l.2-.4l.2 .6l.2-.1l.2-.2l.2-.2l.2 .4l.2 0l.2-.3l.2 .4l.2-.1l.2-.2l.2 0l.2-.3l.2 .6l.2 .1l.2-.2l.2-.3l.2 .1l.2 .1l.2-.1l.2 .3l.2-.3l.2 .4l.2 0l.2-.3l.2-.1l.2-.4l.2 .6l.2 .1l.2-.3l.2 .4l.2-.3l.2-.1l.2 .4l.2-.1l.2-.5l.2 .3l.2-.2l.2 .2l.2 .1l.2-.1l.2 .1l.2 .2l.2-.3l.2-.2l.2 .1l.2 .4l.2 .1l.2-.3l.2 .1l.2-.3l.2 .1l.2 .3l.2-.3l.2 .1l.2 0l.2 .2l.2-.2l.2 0l.2-.1l.2 0l.2 .3l.2 .2l.2-.7l.2 .5l.2-.4l.2 .1l.2 0l.2 0l.2 0l.2 0l.2 .4l.2-.6l.2 .2l.2-.1l.2 .2l.2-.3l.2 .3l.2 0l.2 .4l.2-.3l.2-.1l.2 0l.2 .4l.2-.4l.2-.1l.2 0l.2 0l.2 .3l.2-.4l.2 .1l.2 .1l.2-.2l.2 .3l.2-.2l.2 .2l.2 0l.2 .2l.2 0l.2-.5l.2-.1l.2 .1l.2 .3l.2 0l.2-.1l.2 0l.2 .3l.2-.1l.2-.2l.2 .1l.2-.4l.2 .5l.2 .2l.2-.4l.2-.1l.2 .3l.2-.3l.2 .1l.2 .1l.2-.1l.2 .1l.2-.5l.2-.1l.2 .6l.2 0l.2-.1l.2-.1l.2 .1l.2 .1l.2-.3l.2 .2l.2-.2l.2 .6l.2-.3l.2-.1l.2 .2l.2 0l.2 0l.2-.3l.2 .1l.2 .2l.2-.2l.2 0l.2-.1l.2 .1l.2 .3l.2-.5l.2-.1l.2 .1l.2-.1l.2 .5l.2 .2l.2-.3l.2-.1l.2 .3l.2-.1l.2-.7l.2 .5l.2 .5l.2-.6l.2-.1l.2 .1l.2 .4l.2-.4l.2 .2l.2 .1l.2-.2l.2 0l.2-.2l.2-.1l.2 .5l.2-.5l.2 .5l.2 0l.2 .1l.2-.3l.2-.2l.2 .2l.2 .2l.2-.1l.2 0l.2-.1l.2 .2l.2-.6l.2 .2l.2 .5l.2-.2l.2 0l.2-.5l.2 .2l.2 .1l.2 .1l.2 .2l.2-.3l.2 .1l.2-.2l.2 .1l.2 .2l.2 0l.2 .1l.2-.5l.2 .4l.2 0l.2-.3l.2 .4l.2-.3l.2 0l.2 .2l.2 .2l.2-.4l.2 .4l.2-.2l.2-.3l.2 .3l.2-.1l.2-.2l.2 .2l.2 .2l.2-.1l.2-.2l.2 .2l.2-.4l.2 .4l.2 .1l.2-.4l.2 0l.2 0l.2 .1l.2-.1l.2 .2l.2-.2l.2 .2l.2 .1l.2 0l.2-.2l.2 .2l.2-.4l.2 .2l.2 .1l.2 .2l.2-.3l.2 .2l.2 .2l.2 .1l.2-.1l.2-.5l.2 .2l.2 .1l.2 0l.2 0l.2-.1l.2 0l.2-.3l.2 .4l.2-.1l.2-.1l.2 .4l.2-.3l.2-.2l.2 .3l.2 0l.2 0l.2-.1l.2 .1l.2-.1l.2 .2l.2-.2l.2-.2l.2 0l.2 .3l.2 .1l.2-.5l.2 .4l.2-.1l.2 0l.2-.2l.2 0l.2 .1l.2-.1l.2 .1l.2 .1l.2 0l.2 .3l.2-.5l.2 .1l.2 .1l.2 .1l.2-.3l.2-.1l.2 .3l.2 0l.2 .1l.2 0l.2-.4l.2 .5l.2-.3l.2 .5l.2-.5l.2-.4l.2 .4l.2 .1l.2 0l.2 0l.2-.1l.2-.3l.2 .3l.2 0l.2-.1l.2 .2l.2-.1l.2-.3l.2 .2l.2 0l.2 .1l.2 .4l.2-.4l.2 .2l.2-.6l.2 .7l.2-.4l.2 .2l.2-.3l.2 .2l.2 .2l.2-.2l.2 .1l.2-.2l.2 0l.2 .2l.2-.1l.2 0l.2-.1l.2 0l.2 .3l.2 .1l.2-.4l.2 0l.2 .1l.2 .2l.2-.1l.2 .1l.2-.2l.2-.2l.2-.2l.2 .6l.2-.2l.2-.1l.2 .2l.2-.3l.2 .4l.2 0l.2 0l.2-.3l.2 .3l.2-.1l.2 .2l.2-.7l.2 .5l.2 .1l.2-.3l.2 .2l.2-.2l.2 .3l.2-.3l.2 0l.2-.2l.2 .6l.2-.6l.2 0l.2 0l.2 .2l.2 0l.2 0l.2 .2l.2-.1l.2-.5l.2 .3l.2-.1l.2 .2l.2-.1l.2 .2l.2-.3l.2 .4l.2-.6l.2 .4l.2-.1l.2-.4l.2-.1l.2 .1l.2 .1l.2 .2l.2-.6l.2 .2l.2-.3l.2 .3l.2-.1l.2-.2l.2 .1l.2-.2l.2 .1l.2-.5l.2-.2l.2-.1l.2-.2l.2 0l.2-.7l.2-.4l.2-.5l.2-.6l.2-1l.2-.6l.2-1.2l.2-1.8l.2-2.7l.2-3.2l.2-5.4l.2-8.1l.2-12.1l.2-16.5l.2-14.6l.2-.8l.2 12.4l.2 14.1l.2 9.5l.2 6.9l.2 5.8l.2 6.3l.2 4.3l.2 3l.2 2.2l.2 1.2l.2 1.4l.2 .7l.2 .7l.2 .9l.2 .1l.2 .6l.2 0l.2 .2l.2 .2l.2 0l.2 .3l.2 .2l.2 .4l.2 0l.2 .1l.2-.3l.2 .1l.2 .3l.2 .1l.2-.3l.2 .5l.2-.3l.2 .2l.2-.1l.2 .2l.2 .1l.2 0l.2-.3l.2 .2l.2 .5l.2-.5l.2 .1l.2 0l.2-.1l.2 .4l.2 0l.2-.4l.2 .2l.2 .3l.2-.3l.2 0l.2 .2l.2-.1l.2-.4l.2 .1l.2 .5l.2-.4l.2 .1l.2-.1l.2 .5l.2-.6l.2 .3l.2-.1l.2 0l.2-.2l.2 .1l.2 .1l.2 .1l.2-.4l.2 .4l.2-.2l.2 .2l.2-.1l.2 .1l.2-.1l.2 .2l.2-.1l.2-.3l.2-.2l.2 .2l.2 .4l.2-.4l.2 .1l.2 .6l.2-.5l.2 .1l.2 .1l.2 0l.2-.2l.2 .1l.2-.4l.2 .5l.2 0l.2-.4l.2 .5l.2 .2l.2-.9l.2 .5l.2 .3l.2-.1l.2-.3l.2 0l.2 .1l.2 .2l.2-.3l.2-.2l.2 .4l.2-.2l.2 .5l.2-.6l.2 .3l.2-.1l.2-.3l.2 .2l.2-.3l.2 .5l.2-.2l.2-.1l.2-.1l.2 .6l.2-.2l.2-.3l.2 .2l.2 .2l.2 0l.2-.2l.2-.4l.2 .8l.2-.4l.2 .3l.2-.5l.2 .4l.2 .1l.2 0l.2-.5l.2 .2l.2 .4l.2-.5l.2 .3l.2-.2l.2-.3l.2 .5l.2 .1l.2-.1l.2-.1l.2 .1l.2-.5l.2 .3l.2 .4l.2-.3l.2 .2l.2-.3l.2 .1l.2-.3l.2 .3l.2 0l.2-.1l.2 0l.2 .1l.2 0l.2 .1l.2 0l.2-.6l.2 .5l.2 .2l.2-.5l.2 .2l.2 .5l.2-.6l.2 .3l.2-.1l.2-.4l.2 .3l.2-.3l.2 .3l.2 .2l.2 0l.2-.1l.2-.2l.2 .3l.2 .1l.2-.1l.2 0l.2-.1l.2 0l.2-.3l.2 .5l.2-.5l.2 0l.2 .1l.2 0l.2 .4l.2-.3l.2-.1l.2 0l.2 .1l.2 .2l.2 .1l.2-.4l.2 .4l.2-.2l.2-.1l.2 .2l.2-.2l.2 0l.2-.1l.2-.2l.2-.1l.2 .1l.2 0l.2 0l.2 0l.2 .3l.2-.2l.2 .1l.2-.1l.2-.3l.2 .1l.2-.3l.2-.1l.2 .4l.2-.2l.2-.1l.2 .1l.2-.6l.2 .1l.2-.6l.2 0l.2 0l.2-.9l.2-.6l.2-.6l.2-.9l.2-2.1l.2-3l.2-4.1l.2-5l.2-2.8l.2 2l.2 4.2l.2 2.9l.2 1.8l.2 1l.2 2.1l.2 1.7l.2 1.9l.2 1l.2 .4l.2 1.2l.2 0l.2 0l.2 .1l.2 .5l.2 .1l.2 0l.2 0l.2 .2l.2-.1l.2 .2l.2 0l.2 .3l.2-.6l.2 .9l.2-.4l.2 .1l.2-.2l.2 .5l.2-.3l.2 0l.2-.1l.2 .3l.2 0l.2-.2l.2 .4l.2-.4l.2 .4l.2-.2l.2-.3l.2 .2l.2 .2l.2-.2l.2 .1l.2 0l.2 .1l.2-.2l.2 .5l.2-.3l.2 .2l.2-.3l.2 .1l.2-.3l.2 .2l.2 .3l.2-.2l.2-.2l.2 0l.2 .2l.2-.1l.2 .4l.2-.3l.2-.1l.2 .2l.2 .2l.2-.7l.2 .2l.2 0l.2-.2l.2 .3l.2 0l.2 .2l.2 0l.2 0l.2 0l.2-.2l.2 .6l.2-.2l.2-.4l.2-.1l.2 .3l.2 .1l.2-.1l.2 0l.2 .1l.2-.2l.2-.2l.2 .1l.2-.3l.2 .6l.2-.3l.2 .1l.2 .4l.2-.6l.2 .2l.2-.2l.2-.2l.2 .6l.2-.2l.2 0l.2 .1l.2-.2l.2 .2l.2 .1l.2-.4l.2 .3l.2-.1l.2 .2l.2 .3l.2-.7l.2 .5l.2-.3l.2 .1l.2 0l.2-.1l.2-.3l.2 .3l.2-.2l.2 .5l.2-.2l.2-.2l.2 0l.2 .3l.2-.5l.2 .3l.2 0l.2-.2l.2 .4l.2-.3l.2 .3l.2-.2l.2-.1l.2 .1l.2 .2l.2-.4l.2 0l.2 .2l.2 .1l.2 0l.2-.3l.2-.1l.2 .3l.2-.1l.2 .1l.2-.3l.2 .2l.2-.1l.2 .5l.2-.7l.2 .2l.2 .1l.2-.3l.2 .3l.2-.1l.2-.1l.2 .2l.2 .3l.2-.2l.2 .2l.2 0l.2-.2l.2-.1l.2-.3l.2 0l.2 .4l.2 0l.2 0l.2-.2l.2 .1l.2-.1l.2 .4l.2-.2l.2-.4l.2 .3l.2 .3l.2-.4l.2 0l.2 0l.2 .1l.2 .1l.2 0l.2 0l.2-.1l.2 .2l.2 .2l.2-.5l.2 .2l.2 0l.2 0l.2 0l.2 .1l.2-.2l.2 0l.2-.1l.2 .3l.2-.2l.2-.3l.2 .3l.2 0l.2 .3l.2 0l.2-.4l.2 .4l.2-.1l.2 .2l.2-.4l.2 .2l.2 0l.2 .2l.2-.6l.2 .3l.2 0l.2 0l.2-.2l.2 .1l.2 .1l.2 .4l.2-.4l.2 .2l.2-.3l.2 .1l.2 0l.2 0l.2-.3l.2 .3l.2 .5l.2-.5l.2-.3l.2 .7l.2-.3l.2 0l.2-.4l.2 .2l.2 0l.2 .1l.2-.2l.2 .3l.2-.4l.2 .5l.2-.2l.2-.1l.2-.2l.2 .4l.2 0l.2-.4l.2 .6l.2-.4l.2-.2l.2 .5l.2-.4l.2 0l.2-.1l.2 .1l.2 .1l.2-.1l.2 .2l.2-.2l.2 .2l.2-.5l.2 .4l.2 .1l.2 .1l.2-.2l.2 .1l.2 .1l.2-.3l.2 .3l.2-.1l.2-.1l.2-.2l.2 .5l.2 0l.2-.2l.2 .2l.2 .1l.2-.3l.2 .1l.2 0l.2 0l.2-.1l.2-.1l.2 .2l.2-.1l.2 .3l.2-.2l.2-.1l.2-.3l.2 .3l.2 0l.2 0l.2-.2l.2-.4l.2 .4l.2 .2l.2 .3l.2-.5l.2 .3l.2-.4l.2 .5l.2-.3l.2 .1l.2 .1l.2-.2l.2 0l.2 .3l.2-.5l.2 .1l.2 .3l.2 0l.2-.3l.2 0l.2 .2l.2 .3l.2 0l.2-.4l.2 0l.2 .1l.2-.4l.2 .4l.2-.1l.2 .3l.2-.4l.2 .2l.2-.1l.2 0l.2 .4l.2-.5l.2 .2l.2 .1l.2 .3l.2-.4l.2-.1l.2 .1l.2 .3l.2-.2l.2 0l.2 .3l.2-.6l.2 .4l.2-.4l.2 .4l.2-.1l.2 0l.2-.1l.2 0l.2-.6l.2 .4l.2 .6l.2-.4l.2 0l.2 .1l.2 .1l.2-.2l.2 .2l.2-.1l.2-.2l.2 .1l.2 .2l.2-.4l.2 .2l.2-.2l.2 .1l.2-.2l.2 .3l.2-.1l.2 .3l.2-.3l.2 .5l.2-.2l.2-.4l.2 .6l.2-.4l.2 .1l.2-.4l.2 .3l.2-.1l.2-.2l.2 .1l.2 .5l.2-.4l.2 .1l.2-.2l.2 .1l.2 0l.2 .1l.2 0l.2 .2l.2-.2l.2 0l.2-.2l.2 .3l.2 0l.2-.2l.2-.3l.2 .4l.2-.4l.2 .7l.2-.3l.2 .2l.2-.3l.2 .2l.2 .2l.2-.2l.2-.3l.2-.1l.2 .2l.2 .1l.2-.3l.2-.1l.2 .2l.2 .1l.2-.3l.2 .3l.2 .2l.2-.4l.2 .3l.2-.1l.2 .1l.2 0l.2-.2l.2 .3l.2 .3l.2-.4l.2-.3l.2 .2l.2 .4l.2-.4l.2 .1l.2-.3l.2 0l.2 .2l.2 .1l.2-.2l.2 .2l.2-.1l.2-.3l.2 .3l.2 .2l.2 .3l.2-.7l.2 .3l.2 0l.2 0l.2 0l.2 .3l.2-.1l.2-.4l.2 0l.2 .2l.2-.3l.2 .3l.2 .1l.2-.2l.2 0l.2-.1l.2 .2l.2 .1l.2-.3l.2 .3l.2-.3l.2 .2l.2 0l.2-.2l.2 .1l.2-.1l.2 .4l.2-.3l.2-.2l.2 .4l.2-.2l.2 .4l.2-.4l.2 .2l.2-.4l.2 .2l.2 0l.2 .2l.2 .1l.2-.2l.2-.1l.2-.1l.2 0l.2 .1l.2 .3l.2 .1l.2-.4l.2-.1l.2 0l.2 .3l.2 .1l.2-.1l.2 .2l.2-.3l.2-.1l.2 .1l.2-.3l.2 .2l.2 0l.2-.3l.2 .4l.2 .1l.2 .1l.2-.3l.2 .3l.2-.4l.2 .4l.2-.4l.2 .1l.2-.2l.2 .6l.2-.4l.2 .3l.2-.2l.2 0l.2 .1l.2-.4l.2 .4l.2-.2l.2-.1l.2 .4l.2-.3l.2 .3l.2-.2l.2-.1l.2 0l.2 .1l.2-.1l.2 .3l.2-.3l.2 .4l.2-.4l.2 .1l.2-.1l.2 .5l.2-.8l.2 .5l.2 .1l.2 0l.2 .1l.2 0l.2-.6l.2 .3l.2-.2l.2 .1l.2 0l.2 .3l.2-.1l.2-.1l.2-.2l.2 .2l.2 0l.2-.1l.2 .3l.2 0l.2-.4l.2 .4l.2-.4l.2 .1l.2-.2l.2 .3l.2 .3l.2-.6l.2 .1l.2 0l.2 .2l.2 .2l.2-.5l.2 .4l.2 .3l.2-.5l.2 .1l.2 .1l.2-.5l.2 .2l.2 .3l.2-.1l.2 .1l.2-.3l.2 .1l.2-.1l.2-.1l.2 .4l.2 .2l.2-.5l.2 .2l.2 .1l.2 .1l.2-.4l.2-.1l.2 .4l.2-.3l.2-.1l.2 .2l.2 .1l.2 0l.2-.1l.2-.3l.2-.1l.2 .6l.2 .1l.2-.1l.2-.3l.2 .4l.2-.4l.2 .4l.2-.2l.2 .1l.2-.3l.2 .3l.2-.5l.2 .6l.2-.5l.2 .3l.2 .1l.2 .1l.2-.2l.2-.3l.2 .5l.2-.3l.2-.2l.2 .6l.2 .2l.2-.6l.2 .3l.2 0l.2-.1l.2 0l.2-.1l.2-.4l.2 .2l.2 .1l.2-.1l.2 .2l.2 0l.2 .1l.2 .3l.2-.6l.2 .3l.2 .2l.2-.3l.2-.4l.2 .4l.2 .2l.2-.1l.2-.4l.2 .3l.2-.1l.2 0l.2 .2l.2-.6l.2 .8l.2 0l.2-.4l.2-.1l.2-.1l.2 .3l.2-.2l.2-.2l.2-.1l.2 .6l.2 0l.2-.4l.2 .5l.2-.4l.2 .2l.2-.3l.2 .5l.2-.3l.2 0l.2 .1l.2-.2l.2 .4l.2-.2l.2-.2l.2-.1l.2 .3l.2 0l.2-.1l.2-.2l.2 .5l.2-.3l.2 .2l.2-.1l.2-.1l.2-.1l.2-.1l.2 .4l.2-.2l.2 .3l.2 0l.2-.2l.2-.1l.2 .2l.2 .1l.2-.3l.2 .1l.2 .2l.2-.5l.2 .3l.2-.2l.2 .2l.2 .1l.2-.3l.2 .2l.2 .2l.2-.2l.2 0l.2-.1l.2 0l.2 .1l.2-.2l.2-.1l.2 0l.2 0l.2 .1l.2 0l.2-.1l.2 .5l.2-.7l.2 .3l.2 0l.2-.1l.2 0l.2-.3l.2 .2l.2 .1l.2-.3l.2 .2l.2 .1l.2-.2l.2-.1l.2-.3l.2 .4l.2 .2l.2-.3l.2 0l.2-1l.2 .3l.2-.1l.2 0l.2-.3l.2-.5l.2 0l.2-.6l.2-.2l.2-.3l.2-.5l.2-1.2l.2-1.3l.2-2.4l.2-2.6l.2-3.7l.2-5.8l.2-7.3l.2-6.3l.2-.4l.2 5.3l.2 6.4l.2 3.8l.2 1.4l.2 1.1l.2-.6l.2 1l.2 3.4l.2 3l.2 2.3l.2 1.8l.2 1.5l.2 .7l.2 .9l.2 .1l.2 .4l.2 .2l.2 .4l.2 .7l.2-.7l.2 .6l.2-.2l.2 .2l.2 .7l.2-.8l.2 .4l.2-.3l.2 .4l.2 .2l.2 0l.2 .2l.2 0l.2-.2l.2 .1l.2 .1l.2-.1l.2-.4l.2 .4l.2 .2l.2-.1l.2-.4l.2 .3l.2 .3l.2-.3l.2 .4l.2-.5l.2-.1l.2 .1l.2 .8l.2-.6l.2 0l.2 .2l.2-.2l.2-.3l.2 .3l.2 .4l.2-.6l.2 .1l.2 .2l.2 .1l.2-.2l.2 .5l.2-.4l.2-.2l.2 .3l.2 0l.2 0l.2-.1l.2 .5l.2-.1l.2-.2l.2-.1l.2 .2l.2 0l.2-.1l.2-.3l.2 .4l.2-.1l.2-.3l.2 .4l.2 0l.2 0l.2-.2l.2 0l.2-.1l.2 .1l.2 .3l.2-.1l.2-.4l.2 .3l.2 .2l.2 .1l.2-.2l.2-.3l.2 .1l.2-.1l.2 0l.2-.1l.2 .3l.2 0l.2-.2l.2 .5l.2-.4l.2 .2l.2 .3l.2-.5l.2 .4l.2-.2l.2 .2l.2-.2l.2-.3l.2 0l.2-.1l.2 .1l.2 0l.2 .2l.2-.5l.2 .1l.2 .3l.2-.1l.2 .3l.2-.2l.2-.1l.2 .3l.2-.5l.2 .4l.2 .2l.2-.1l.2-.3l.2 .5l.2-.2l.2 0l.2 .1l.2 .1l.2-.5l.2 .2l.2-.1l.2 .1l.2 .1l.2 0l.2-.1l.2 .1l.2 .1l.2-.2l.2-.3l.2-.1l.2 .3l.2 0l.2 0l.2 .1l.2 0l.2 .2l.2-.2l.2-.1l.2 0l.2 .2l.2-.3l.2 .1l.2 0l.2-.1l.2-.2l.2 .1l.2 0l.2 0l.2 .2l.2 .1l.2-.1l.2-.2l.2 .5l.2-.2l.2-.5l.2 .4l.2-.2l.2 .2l.2 0l.2 .1l.2-.4l.2 .4l.2 .2l.2-.5l.2 .4l.2 0l.2-.1l.2 .3l.2-.5l.2 .1l.2 .1l.2 .1l.2-.1l.2 0l.2-.1l.2 .2l.2-.2l.2 .1l.2-.2l.2 .1l.2-.2l.2 .1l.2 .2l.2-.2l.2 .2l.2 .2l.2-.3l.2-.1l.2 .1l.2-.3l.2 .6l.2 .1l.2-.6l.2 .9l.2-.8l.2 .3l.2-.1l.2 .3l.2-.1l.2 0l.2 .1l.2-.3l.2 .1l.2-.3l.2 .6l.2-.4l.2 .1l.2-.1l.2-.2l.2 0l.2 .1l.2 0l.2-.1l.2 .2l.2 .1l.2 0l.2-.2l.2 .1l.2 .2l.2 0l.2-.3l.2 0l.2 .2l.2-.5l.2 .5l.2-.3l.2 .1l.2 0l.2 .3l.2-.6l.2 .5l.2 .2l.2-.5l.2 .3l.2 .3l.2-.5l.2 .3l.2-.3l.2 .1l.2-.5l.2 .4l.2 .5l.2-.1l.2-.4l.2 .2l.2-.2l.2 .1l.2-.2l.2 .5l.2-.4l.2 .4l.2-.4l.2 .4l.2-.4l.2-.2l.2 .1l.2 .2l.2 .2l.2-.1l.2-.3l.2 .5l.2-.3l.2 0l.2-.1l.2 .3l.2-.2l.2-.3l.2 .3l.2 .1l.2-.2l.2 0l.2 .1l.2-.3l.2 .5l.2-.3l.2-.2l.2 .4l.2 .2l.2-.1l.2-.5l.2 .1l.2 .3l.2-.1l.2 .1l.2 0l.2-.5l.2 .7l.2-.6l.2 .3l.2-.2l.2 .3l.2 .2l.2-.2l.2-.3l.2 .2l.2 0l.2-.1l.2 .3l.2-.4l.2 .3l.2-.3l.2 .3l.2 0l.2-.1l.2 .2l.2 .1l.2-.3l.2 0l.2-.3l.2 .1l.2 .4l.2-.6l.2 .7l.2-.1l.2-.3l.2 .1l.2-.2l.2 .4l.2-.4l.2 .5l.2-.3l.2-.2l.2 .4l.2-.1l.2 0l.2 .1l.2-.3l.2-.2l.2 .3l.2 .1l.2-.1l.2-.2l.2 .3l.2-.4l.2 .3l.2 .1l.2 0l.2 0l.2-.4l.2 .2l.2 0l.2 0l.2 0l.2 .1l.2 .1l.2 0l.2-.1l.2-.1l.2 .1l.2-.3l.2 .4l.2-.3l.2 .3l.2-.1l.2 0l.2 .2l.2 0l.2-.1l.2-.3l.2 0l.2 .1l.2 0l.2-.1l.2 0l.2 .4l.2-.6l.2 .9l.2-.6l.2 0l.2-.4l.2 .5l.2 0l.2 .1l.2-.5l.2 .2l.2 .5l.2-.3l.2 .2l.2-.1l.2 .1l.2-.4l.2 .3l.2-.2l.2-.4l.2 .5l.2-.2l.2 .2l.2-.1l.2-.3l.2 .6l.2-.3l.2 0l.2-.4l.2 .4l.2 0l.2 .1l.2-.4l.2 .5l.2-.5l.2 .4l.2 0l.2 0l.2-.4l.2 .3l.2-.5l.2 .6l.2-.2l.2 .1l.2 0l.2-.4l.2 .6l.2-.3l.2 .2l.2-.7l.2 .6l.2-.3l.2-.1l.2 .3l.2-.1l.2 .4l.2-.1l.2-.5l.2 .2l.2-.1l.2-.1l.2-.3l.2 0l.2-.2l.2 .1l.2 .2l.2 0l.2-.8l.2 0l.2 .1l.2 0l.2-.3l.2 0l.2-.6l.2-.7l.2-.3l.2-1.5l.2-.8l.2-1.6l.2-2.5l.2-3.8l.2-4.8l.2-5.7l.2-2.9l.2 2.4l.2 5.1l.2 4.2l.2 2.8l.2 1.1l.2-.1l.2-1.2l.2-1.7l.2 .9l.2 2.6l.2 2.3l.2 2.4l.2 1.2l.2 1.4l.2 .3l.2 1l.2-.2l.2 .5l.2 .1l.2 1l.2-.3l.2-.1l.2 .3l.2 .1l.2 .3l.2-.3l.2 .1l.2 .3l.2-.1l.2 .4l.2 .2l.2-.2l.2-.1l.2-.1l.2-.8l.2 .8l.2-.3l.2 0l.2 0l.2 .5l.2-.3l.2 .4l.2-.3l.2 0l.2 .2l.2-.3l.2 0l.2 .1l.2 .3l.2-.5l.2 .5l.2-.1l.2 0l.2-.3l.2 .3l.2 .2l.2-.2l.2 .1l.2 0l.2-.1l.2-.1l.2 .2l.2 .1l.2-.1l.2-.4l.2 .1l.2 .2l.2 .1l.2-.3l.2 .3l.2-.3l.2 .5l.2 0l.2-.2l.2 .2l.2-.4l.2-.1l.2 .2l.2 .1l.2-.2l.2 .2l.2-.3l.2 .2l.2 .2l.2-.1l.2-.2l.2 .2l.2 .1l.2-.2l.2 .1l.2-.1l.2 .2l.2-.1l.2 .1l.2-.1l.2 .1l.2-.3l.2 0l.2-.1l.2 .3l.2 .1l.2 0l.2-.2l.2 .1l.2 0l.2-.3l.2 .3l.2-.1l.2 .1l.2-.2l.2 .6l.2-.3l.2-.3l.2 .3l.2-.2l.2 .1l.2-.2l.2 .3l.2-.3l.2 0l.2 .1l.2-.1l.2 .2l.2-.3l.2 .3l.2-.3l.2-.2l.2 .3l.2-.1l.2 0l.2-.2l.2-.2l.2 .3l.2 0l.2-.4l.2-.1l.2-.4l.2 .1l.2-.6l.2-.1l.2-.3l.2-1l.2-.8l.2-.8l.2-.2l.2 .1l.2 .9l.2 .4l.2 .7l.2 .4l.2-.1l.2 0l.2 0l.2-.1l.2 .7l.2-.3l.2 .7l.2 .5l.2-.1l.2 .7l.2-.4l.2 .4l.2 .2l.2 .1l.2-.2l.2 .3l.2-.4l.2 .4l.2-.3l.2 .2l.2-.2l.2 .2l.2 .1l.2 .2l.2 0l.2 0l.2 0l.2-.3l.2 .5l.2-.4l.2 0l.2-.3l.2 .2l.2 .1l.2 0l.2-.3l.2 .3l.2-.1l.2 .1l.2 0l.2 0l.2 .1l.2 .1l.2-.4l.2 .3l.2-.1l.2 .5l.2-.4l.2 0l.2-.1l.2-.1l.2 .4l.2-.5l.2 0l.2 .3l.2-.3l.2 .5l.2 0l.2-.3l.2-.2l.2 .6l.2 0l.2-.3l.2 .1l.2-.2l.2 0l.2 0l.2-.3l.2 .7l.2-.2l.2-.1l.2 0l.2 .1l.2 0l.2 .4l.2-.7l.2 0l.2 .3l.2-.4l.2 .5l.2-.3l.2-.3l.2 .3l.2-.1l.2 .6l.2-.6l.2 .3l.2-.2l.2 .1l.2-.2l.2 .4l.2-.1l.2-.3l.2 .4l.2-.1l.2-.3l.2 0l.2 .2l.2 .1l.2-.3l.2 .2l.2 .2l.2-.6l.2 .7l.2-.2l.2-.3l.2 .2l.2-.4l.2 .5l.2 .3l.2-.2l.2 0l.2-.3l.2 .4l.2-.4l.2 0l.2-.1l.2 .1l.2-.2l.2 .3l.2-.2l.2 0l.2 .3l.2 .2l.2-.3l.2-.1l.2 0l.2 .2l.2-.4l.2 .3l.2-.3l.2 .2l.2 .4l.2-.3l.2 .2l.2-.1l.2-.3l.2 .4l.2-.5l.2 .1l.2 .2l.2 0l.2 .2l.2 .1l.2-.1l.2-.2l.2 .1l.2 0l.2 0l.2-.2l.2 .3l.2-.3l.2 .2l.2-.3l.2 .2l.2-.2l.2 .2l.2-.6l.2 .4l.2 0l.2 .4l.2-.5l.2 .4l.2-.4l.2 .5l.2 .1l.2-.3l.2 0l.2-.1l.2 0l.2-.2l.2 .5l.2 .1l.2-.1l.2-.6l.2 .3l.2 .2l.2-.1l.2 0l.2-.6l.2 .6l.2-.2l.2 .4l.2 0l.2 0l.2-.3l.2 .2l.2 0l.2-.4l.2 0l.2 .1l.2 .4l.2 0l.2-.5l.2 .2l.2 0l.2 .3l.2 0l.2-.1l.2-.4l.2 .3l.2-.3l.2 .3l.2-.6l.2 .4l.2 .3l.2 .1l.2-.2l.2-.4l.2 .5l.2 0l.2-.2l.2-.2l.2 .1l.2 .5l.2-.5l.2 .2l.2-.1l.2 .1l.2 0l.2-.5l.2 .4l.2-.2l.2 .7l.2-.1l.2 0l.2-.6l.2 .3l.2-.1l.2 0l.2 .3l.2-.3l.2 0l.2 .3l.2-.4l.2 .1l.2-.3l.2 .4l.2 .1l.2-.2l.2 0l.2 .1l.2 0l.2 .1l.2-.5l.2 .2l.2 .3l.2-.3l.2 .1l.2 0l.2 .3l.2-.2l.2 .3l.2-.4l.2 .1l.2 .3l.2-.1l.2-.6l.2 .4l.2-.1l.2-.2l.2 .3l.2 .3l.2-.6l.2 .4l.2-.1l.2 .6l.2-.1l.2-.7l.2 .1l.2 .2l.2-.4l.2 .4l.2-.1l.2 0l.2 .1l.2 .4l.2-.6l.2 .1l.2-.3l.2 .1l.2 .3l.2-.2l.2 .1l.2-.1l.2-.1l.2 0l.2 .3l.2-.1l.2-.3l.2 .4l.2 .1l.2-.2l.2-.1l.2 .4l.2-.6l.2 .4l.2 .1l.2-.5l.2 .1l.2 .3l.2-.2l.2-.2l.2 .2l.2-.1l.2 .2l.2-.2l.2 .3l.2-.3l.2 .1l.2 .1l.2 .1l.2-.3l.2 .1l.2 0l.2 .3l.2-.1l.2-.2l.2 .1l.2 0l.2-.1l.2 .4l.2-.7l.2 .8l.2-.1l.2-.1l.2-.3l.2-.2l.2 .4l.2 .2l.2-.2l.2 .2l.2-.3l.2 .2l.2-.1l.2-.2l.2-.1l.2 .1l.2 .2l.2 0l.2 0l.2-.1l.2 .1l.2 0l.2 0l.2-.2l.2 .1l.2 0l.2-.2l.2 .2l.2-.3l.2 .2l.2-.2l.2 .1l.2 .4l.2 .2l.2-.3l.2-.2l.2-.4l.2 .4l.2 .2l.2-.1l.2-.1l.2 .2l.2-.2l.2 .1l.2-.1l.2 0l.2 .4l.2 0l.2-.2l.2-.3l.2 .4l.2-.1l.2 0l.2 .1l.2-.4l.2 .3l.2-.1l.2 .1l.2 0l.2-.2l.2 .3l.2-.4l.2 .6l.2-.2l.2-.1l.2-.4l.2 0l.2 0l.2 .3l.2 .1l.2 0l.2-.1l.2 0l.2-.4l.2 .3l.2 .2l.2-.2l.2 .3l.2-.2l.2 .2l.2 .1l.2-.9l.2 .5l.2 .4l.2 0l.2-.3l.2 0l.2 .2l.2 .1l.2 0l.2-.5l.2 .1l.2-.1l.2 .1l.2 .3l.2-.1l.2-.1l.2 0l.2 .4l.2-.3l.2-.2l.2 .2l.2-.1l.2-.1l.2 0l.2-.4l.2 .2l.2 .3l.2-.3l.2 .1l.2-.1l.2-.1l.2 .4l.2-.1l.2-.2l.2 .3l.2 .3l.2-.2l.2-.1l.2-.3l.2 .4l.2 0l.2-.5l.2 .3l.2 .3l.2-.2l.2-.6l.2 .6l.2 0l.2 0l.2-.1l.2 .2l.2 0l.2 .3l.2-.4l.2 .1l.2-.1l.2-.2l.2 .2l.2 0l.2-.4l.2 .8l.2-.4l.2 .1l.2 0l.2-.1l.2 .1l.2 .2l.2-.2l.2-.2l.2 .2l.2 0l.2-.3l.2 .2l.2 0l.2-.1l.2 .1l.2-.1l.2-.1l.2 .1l.2-.1l.2 .7l.2-.3l.2-.3l.2-.2l.2 .4l.2 .1l.2-.6l.2 .3l.2 .3l.2-.2l.2 .3l.2-.5l.2 .1l.2-.1l.2-.1l.2 0l.2 .2l.2 .4l.2-.4l.2 .1l.2-.5l.2 .5l.2-.2l.2-.1l.2-.2l.2 .6l.2-.1l.2-.3l.2 0l.2 .1l.2-.2l.2-.2l.2 .2l.2 .4l.2-.6l.2 .3l.2-.1l.2-.3l.2 .5l.2 .2l.2-.4l.2-.2l.2 .1l.2-.2l.2-.8l.2 .5l.2-.4l.2-.2l.2-.3l.2-.6l.2-.4l.2-.8l.2-.4l.2 0l.2 .1l.2 .7l.2 .3l.2 .1l.2 .5l.2 0l.2-.2l.2 .4l.2-.1l.2 .1l.2 0l.2 .1l.2 .3l.2 .4l.2 .1l.2 .2l.2 .4l.2-.4l.2-.1l.2 .5l.2 .3l.2-.4l.2 .2l.2 .5l.2-.3l.2 .3l.2-.2l.2 .1l.2 .1l.2-.4l.2 .4l.2-.3l.2 .1l.2-.1l.2 .2l.2 .3l.2 .1l.2-.1l.2-.2l.2-.1l.2 0l.2-.2l.2 .8l.2-.3l.2 0l.2-.2l.2 0l.2 0l.2 .1l.2-.4l.2 .4l.2 0l.2-.4l.2 .5l.2-.3l.2 .4l.2-.3l.2-.1l.2 .1l.2 0l.2 .1l.2-.3l.2 .4l.2-.3l.2 0l.2 .3l.2-.5l.2 .5l.2-.1l.2 0l.2-.1l.2 0l.2 .2l.2 0l.2-.3l.2 .2l.2 .1l.2-.2l.2 .2l.2-.2l.2 .5l.2-.4l.2-.1l.2 .1l.2-.3l.2 0l.2 0l.2 .5l.2-.1l.2-.1l.2-.5l.2 .1l.2 .3l.2 .4l.2-.1l.2-.1l.2-.4l.2 .2l.2-.2l.2 .2l.2 .4l.2-.1l.2-.5l.2 .2l.2 .1l.2-.3l.2 .5l.2-.5l.2 .3l.2 .1l.2-.2l.2-.3l.2 .3l.2 .2l.2-.3l.2-.3l.2 .4l.2 0l.2-.1l.2 .2l.2 .1l.2 .2l.2-.5l.2 .1l.2 0l.2 0l.2 .2l.2-.2l.2-.1l.2 .5l.2-.8l.2 .2l.2 .4l.2-.4l.2 .6l.2-.4l.2 .3l.2-.1l.2-.4l.2 .3l.2 .5l.2-.6l.2 0l.2-.3l.2 .6l.2-.2l.2-.2l.2 .2l.2 0l.2 0l.2 .3l.2-.8l.2 .5l.2 0l.2-.1l.2 .1l.2 .2l.2-.3l.2 .2l.2 .2l.2-.6l.2 .3l.2 .1l.2 .4l.2-.2l.2-.6l.2 .5l.2-.6l.2 .4l.2 .3l.2-.4l.2 .2l.2-.2l.2-.1l.2 .2l.2 .2l.2-.4l.2 .3l.2-.1l.2-.4l.2 .3l.2 .3l.2-.1l.2 .4l.2-.4l.2-.1l.2-.2l.2 .4l.2 0l.2 0l.2-.3l.2 0l.2 0l.2 .4l.2-.2l.2-.2l.2 0l.2-.3l.2 .3l.2-.5l.2 .6l.2 .1l.2 .1l.2-.3l.2 0l.2-.1l.2 .1l.2 .1l.2 .1l.2-.1l.2 0l.2-.1l.2 0l.2 .2l.2-.3l.2 0l.2 .3l.2-.4l.2 .3l.2-.1l.2-.4l.2 .7l.2-.6l.2 .5l.2-.3l.2 .1l.2 .1l.2-.1l.2-.1l.2-.1l.2 .3l.2-.1l.2 0l.2 0l.2 0l.2 0l.2-.1l.2 .2l.2 0l.2 .1l.2-.1l.2-.3l.2 .1l.2 .3l.2-.3l.2 0l.2 0l.2-.2l.2 .5l.2-.1l.2-.3l.2 .3l.2 .1l.2 0l.2 0l.2 .1l.2-.3l.2 .1l.2-.1l.2-.2l.2 .3l.2 .1l.2-.3l.2 .5l.2-.1l.2 0l.2-.1l.2-.2l.2 .1l.2 .2l.2-.2l.2-.1l.2 .3l.2-.2l.2-.1l.2 .1l.2 0l.2-.1l.2 0l.2-.1l.2 .3l.2 0l.2-.3l.2 .3l.2-.3l.2 0l.2 .1l.2 .2l.2-.5l.2 .1l.2 .3l.2-.2l.2 .1l.2-.1l.2 .1l.2 0l.2 .1l.2-.3l.2 .3l.2-.5l.2 .7l.2 0l.2-.1l.2-.2l.2-.2l.2-.1l.2 .6l.2-.2l.2-.1l.2 .3l.2-.2l.2 .1l.2 0l.2-.3l.2 0l.2 .2l.2-.2l.2 .2l.2-.2l.2 .3l.2-.5l.2 .3l.2 0l.2 0l.2-.6l.2 .7l.2 .1l.2-.4l.2 .1l.2-.1l.2 .3l.2-.1l.2 .2l.2-.3l.2-.1l.2 .2l.2 .2l.2-.2l.2 .3l.2-.2l.2-.2l.2 0l.2 0l.2 .1l.2 0l.2 0l.2-.3l.2 .3l.2 .3l.2-.3l.2-.7l.2 .9l.2-.3l.2 .2l.2-.2l.2-.3l.2 .1l.2-.2l.2 .1l.2-.1l.2 .3l.2-.7l.2 .3l.2 .1l.2-.2l.2-.2l.2-.1l.2-.1l.2 .2l.2-.5l.2 0l.2-.6l.2-.5l.2-.2l.2-.2l.2-1.1l.2-.8l.2-.6l.2-1.2l.2-1.1l.2-.2l.2-.1l.2 .2l.2 1.2l.2 .8l.2 .5l.2 .5l.2 .4l.2 .2l.2 0l.2-.2l.2-.2l.2-.2l.2-.4l.2 .6l.2 .8l.2 .4l.2 .4l.2 .8l.2 .1l.2 .4l.2 .2l.2 .5l.2 .4l.2-.2l.2 .4l.2-.4l.2-.3l.2 .4l.2 .1l.2 .2l.2-.1l.2 0l.2 .3l.2-.1l.2-.2l.2 .3l.2 0l.2 .1l.2 .1l.2-.2l.2 0l.2 .3l.2-.3l.2 0l.2 .4l.2-.2l.2-.1l.2 .1l.2 0l.2-.5l.2 .2l.2 .1l.2 .1l.2-.1l.2-.3l.2 .4l.2-.1l.2-.1l.2 .1l.2 .1l.2-.1l.2 0l.2 .1l.2 .1l.2-.1l.2 0l.2-.4l.2 .3l.2 .2l.2 0l.2 .2l.2-.4l.2 0l.2 .3l.2 .1l.2-.2l.2 .1l.2-.3l.2 .4l.2-.4l.2 .2l.2 .1l.2-.1l.2-.3l.2 .1l.2 .2l.2 .1l.2-.2l.2 0l.2-.2l.2 .1l.2 .1l.2 .3l.2-.1l.2 0l.2-.3l.2 .2l.2-.5l.2 .6l.2-.1l.2-.4l.2 .3l.2-.4l.2 .1l.2 .1l.2-.1l.2 .2l.2 0l.2-.1l.2-.5l.2 .2l.2 .3l.2-.4l.2-.4l.2-.2l.2-.1l.2 .1l.2-.5l.2-.1l.2-.9l.2-.5l.2-1l.2 .2l.2-.7l.2 .4l.2 .5l.2 .3l.2 .6l.2 0l.2 .5l.2 .1l.2 .1l.2 0l.2-.3l.2-.2l.2 .1l.2-.1l.2-.1l.2 .5l.2 0l.2 .8l.2 0l.2 .4l.2 .2l.2-.1l.2 0l.2 .6l.2 0l.2-.3l.2 .3l.2 .1l.2 .1l.2-.3l.2 .2l.2 0l.2-.1l.2 .3l.2 .1l.2 .2l.2 .2l.2-.6l.2 .2l.2 0l.2 0l.2 .1l.2 .2l.2-.4l.2 .2l.2-.3l.2 .5l.2 0" fill="none" stroke="#E80074" stroke-width="3.3" stroke-linejoin="round" stroke-linecap="round"/>
<path d="M113.3 271.2l.2 .6l.2-.9l.2 .8l.2-.5l.2 .1l.2 .9l.2-.7l.2 0l.2 .3l.2 .2l.2-.4l.2 .3l.2-.7l.2 .3l.2 0l.2-.3l.2 0l.2-.1l.2 .7l.2 0l.2 0l.2 .2l.2-.6l.2 .6l.2 .2l.2 .2l.2-.6l.2 .2l.2-.7l.2 .7l.2-.7l.2 .4l.2 1.1l.2-1.4l.2 1.3l.2-.2l.2-.2l.2 .3l.2 .1l.2 .2l.2-.5l.2-.1l.2 0l.2-.1l.2 .4l.2-.2l.2 .8l.2-1.2l.2 .3l.2 .1l.2-.5l.2 1.8l.2-1.8l.2 .9l.2-.1l.2 1l.2-1.5l.2 1.3l.2-.8l.2 .3l.2-.2l.2 .6l.2-.7l.2 .4l.2 .2l.2 .7l.2-1.8l.2 1.7l.2-.2l.2-.6l.2 .4l.2-.3l.2 .9l.2-.6l.2-.1l.2 0l.2 0l.2 0l.2-.2l.2 1.2l.2-1.6l.2-.7l.2 1.5l.2 0l.2 .2l.2-.2l.2 .1l.2 .2l.2 .3l.2-.6l.2 .1l.2 1l.2-.6l.2-.6l.2 1.4l.2-.6l.2-.6l.2-.2l.2 .6l.2-.4l.2-.1l.2-.1l.2 .4l.2 .7l.2-.7l.2-.4l.2 .9l.2-.2l.2 .4l.2 .1l.2-.5l.2 0l.2 .1l.2-.5l.2 .8l.2 .3l.2-.5l.2-.1l.2 0l.2-.2l.2 0l.2 .2l.2-.2l.2 .2l.2-.4l.2 .8l.2-.1l.2-.5l.2-.5l.2 1l.2 .5l.2-.8l.2 .2l.2-.1l.2 .6l.2-.7l.2 .9l.2-.6l.2 .6l.2-.4l.2-.1l.2-.5l.2 .4l.2 .2l.2 .4l.2-.2l.2-.4l.2 .5l.2 .3l.2-.5l.2-.1l.2 0l.2 .6l.2-.1l.2-.6l.2 .5l.2-.3l.2-.1l.2 .8l.2-.1l.2-.7l.2 .4l.2 .2l.2-.5l.2 .2l.2 .4l.2-1l.2 .9l.2 .2l.2-.1l.2-.8l.2 .7l.2-.4l.2 .6l.2 0l.2-.1l.2-.4l.2 0l.2 .7l.2-.8l.2 .6l.2 .1l.2-.4l.2 1.2l.2-1l.2 .9l.2-1.7l.2-.1l.2 1.4l.2-.2l.2-.4l.2 .2l.2-.8l.2 .5l.2-.1l.2 .3l.2 .5l.2-.3l.2 .1l.2-.4l.2 .1l.2 .3l.2-.2l.2 .7l.2-.9l.2 1.2l.2-1.2l.2 .8l.2-.7l.2 1l.2-.6l.2 .1l.2 .2l.2-.6l.2-.2l.2-.4l.2 1.4l.2-.8l.2 .1l.2 .2l.2 .9l.2-1.6l.2 .9l.2-.3l.2 .4l.2-1l.2 .6l.2 .6l.2 .3l.2 0l.2-1l.2 .4l.2-.1l.2-.5l.2 0l.2 .9l.2-.2l.2-.1l.2 .5l.2-.9l.2 .7l.2-.2l.2-.1l.2 .3l.2-.1l.2 0l.2 0l.2 .7l.2-.9l.2 .6l.2-.2l.2-.4l.2 .5l.2-.7l.2 .9l.2-.8l.2 .1l.2 .4l.2 .2l.2 0l.2 0l.2-.4l.2-.3l.2 .6l.2-.1l.2-.5l.2 .8l.2-.3l.2-.5l.2 .6l.2-.7l.2 .2l.2 .5l.2-.8l.2 .7l.2-.6l.2 .9l.2-.6l.2 .4l.2-.7l.2 .5l.2 .5l.2-.2l.2-.9l.2 1.1l.2 0l.2-.5l.2 .8l.2-1.1l.2 .5l.2 .5l.2 .1l.2 0l.2-1l.2-.3l.2 .9l.2-.8l.2 .6l.2-.5l.2 1l.2-.1l.2-.1l.2-.2l.2 0l.2-.1l.2 .3l.2-.1l.2 .1l.2-.3l.2 .9l.2-.6l.2 .4l.2 0l.2-.9l.2-.3l.2 1.2l.2-.7l.2 .2l.2-.1l.2 .2l.2-.6l.2 .5l.2-.2l.2 .2l.2-.9l.2 1.3l.2-.2l.2-.9l.2 .5l.2 .3l.2 .2l.2-.2l.2 .6l.2-.6l.2-.4l.2 .1l.2 .6l.2-.5l.2 .6l.2 .1l.2-.2l.2 .2l.2-.5l.2 .1l.2-.3l.2 0l.2-.4l.2 .5l.2-.3l.2-.1l.2 .7l.2 .1l.2-.3l.2 .7l.2-.2l.2 .1l.2-.7l.2-.4l.2 .9l.2-.1l.2 .2l.2-.2l.2 .4l.2-.6l.2 .4l.2-.7l.2-.6l.2 .8l.2 .8l.2-1.3l.2 1.1l.2-.7l.2 .2l.2 .1l.2 .1l.2-.5l.2 .5l.2 .1l.2 .2l.2-.7l.2 1l.2 .2l.2 .2l.2-1.6l.2 .7l.2-.9l.2 .9l.2 .1l.2-.7l.2-.2l.2 .8l.2 .2l.2-.6l.2 .2l.2-.9l.2 .7l.2 .4l.2 0l.2 .6l.2-1.1l.2-.5l.2 1.1l.2-.4l.2 .4l.2 .2l.2-.1l.2 .4l.2-.1l.2-1.2l.2 .7l.2 .8l.2-1l.2 .6l.2-.4l.2-.2l.2 .9l.2-.2l.2-.6l.2 .5l.2-.9l.2 .2l.2 .7l.2-.3l.2-.5l.2 .6l.2 0l.2 .4l.2-.1l.2-.6l.2 0l.2 .1l.2 0l.2 .7l.2 0l.2 0l.2-.5l.2-.2l.2 .5l.2-.5l.2 .2l.2-.8l.2 .5l.2 .8l.2-1l.2-.2l.2 .6l.2 .7l.2-.1l.2-.7l.2-.1l.2 .2l.2-.3l.2 .4l.2-.2l.2-.5l.2 .4l.2 .2l.2-.3l.2-.1l.2 .9l.2 .4l.2-.9l.2-.1l.2 .4l.2-.3l.2-.2l.2 .9l.2-1l.2 .1l.2 0l.2-.1l.2 .3l.2 .4l.2 .3l.2-.3l.2-.3l.2-.5l.2 .5l.2-.4l.2 .4l.2 .4l.2-.3l.2-.1l.2-.3l.2 .3l.2 .1l.2-.4l.2 .1l.2 .6l.2-1l.2 .5l.2-.3l.2 1.1l.2-.4l.2 0l.2-.1l.2 0l.2 0l.2-.8l.2 .8l.2 .1l.2-.8l.2 .9l.2 0l.2-.9l.2 .4l.2 .1l.2-.1l.2 .4l.2-.7l.2 .4l.2 .2l.2 .2l.2-.3l.2-.1l.2 .4l.2-1.1l.2 1.2l.2-.5l.2-.4l.2 .4l.2-.6l.2-.1l.2 .7l.2-.2l.2 .7l.2-.7l.2-.2l.2 .2l.2 1.1l.2-.7l.2-.3l.2-.2l.2 0l.2 .4l.2 .2l.2 .4l.2 0l.2-.4l.2-.4l.2-.1l.2-.6l.2 .6l.2 .6l.2-.4l.2 .3l.2-.7l.2 1l.2-.3l.2-.1l.2 .2l.2-1.1l.2 .7l.2-.2l.2 1.2l.2-.9l.2-.1l.2 .6l.2-.8l.2 1l.2-.9l.2 .3l.2-.4l.2 .8l.2-1.3l.2 1.2l.2-.6l.2 .3l.2-.5l.2 .6l.2 0l.2 .2l.2-.1l.2 .1l.2 .2l.2-.6l.2-.4l.2 0l.2 .8l.2-.4l.2 .6l.2-.4l.2-.5l.2 .8l.2 .5l.2-.9l.2-.3l.2 0l.2 .7l.2-.6l.2 .1l.2 .5l.2-.3l.2 0l.2-.3l.2 0l.2 .3l.2 0l.2 .2l.2-.4l.2 .3l.2 .1l.2-.2l.2 .2l.2 .2l.2-.3l.2-.1l.2-.4l.2 .5l.2-.1l.2-.1l.2-.3l.2 .6l.2 .9l.2-.9l.2-.2l.2 .2l.2-.4l.2 .2l.2-.3l.2 0l.2 .4l.2 0l.2-.1l.2-.3l.2 .4l.2-.5l.2 .7l.2-.4l.2 .1l.2 .3l.2 0l.2-.8l.2 .4l.2 .3l.2-.6l.2-.6l.2 1l.2 0l.2 .2l.2-.1l.2 0l.2 0l.2 .5l.2-.4l.2 .1l.2-.4l.2 .6l.2-.5l.2 .4l.2-1.2l.2 .9l.2-.1l.2-.1l.2 .7l.2-.4l.2-.2l.2-.2l.2 1l.2-.4l.2-.1l.2-.6l.2 .9l.2-.3l.2-.4l.2 .1l.2-.6l.2 .9l.2-.7l.2 .8l.2-.5l.2-.1l.2 .4l.2 0l.2-.6l.2 .4l.2 .3l.2-.3l.2-.5l.2 .5l.2-.3l.2 .1l.2 .3l.2-.1l.2 0l.2-.6l.2 .8l.2-.2l.2-.1l.2 .2l.2 .8l.2-1.4l.2-.1l.2 1l.2-.7l.2 .9l.2-.9l.2 .2l.2 .5l.2 .1l.2-.2l.2 0l.2-.3l.2-.1l.2 .1l.2 .6l.2-.2l.2-.3l.2 .1l.2 .2l.2 .2l.2-.6l.2 .1l.2 .1l.2 1l.2-1l.2 .4l.2-1.1l.2 .9l.2-.9l.2 .1l.2 .2l.2 .2l.2 .2l.2 .1l.2-.1l.2-.3l.2 1.3l.2-.9l.2 .1l.2 .5l.2-.4l.2-.2l.2-.1l.2 .7l.2-1.2l.2 0l.2 .5l.2-.9l.2 .5l.2 .8l.2-.7l.2 .3l.2 .2l.2-.8l.2 .6l.2-.4l.2-.1l.2 .3l.2 .1l.2-.2l.2-.1l.2 .7l.2 .1l.2-.3l.2-.2l.2-.4l.2 .1l.2-.1l.2 .5l.2 .3l.2 0l.2-.4l.2-.1l.2 .2l.2 0l.2 .2l.2 .3l.2-.9l.2 1.2l.2-1.8l.2 .2l.2 .1l.2 .2l.2 .3l.2 1l.2-1.2l.2 .8l.2-.6l.2 .2l.2-.5l.2 1.4l.2-1l.2-.2l.2 1.2l.2-.9l.2 .1l.2-.2l.2-.3l.2-.3l.2 .5l.2 .8l.2-.5l.2-.3l.2 .6l.2-.9l.2 1l.2-.6l.2-.3l.2 .6l.2-.1l.2-.3l.2 .2l.2 .3l.2 .2l.2-.9l.2-.8l.2 2l.2-1l.2-.1l.2 .4l.2-.4l.2 .6l.2-.9l.2 .4l.2-.4l.2 1.1l.2-.7l.2 .6l.2 .1l.2-1.1l.2 .4l.2 .4l.2-.3l.2 0l.2 .4l.2 0l.2-.6l.2 .2l.2 .3l.2-.2l.2 0l.2-.6l.2 1.2l.2-.8l.2 .2l.2-.1l.2 0l.2 .1l.2-.4l.2 .5l.2 .3l.2-.3l.2 .1l.2-.1l.2-.2l.2 .8l.2-1.1l.2 .5l.2 .2l.2-.3l.2-.5l.2-.1l.2 1.2l.2-1.1l.2 .4l.2 .2l.2-.2l.2-.7l.2-.1l.2 .7l.2-.2l.2 .2l.2 .1l.2 .1l.2-.7l.2-.1l.2 1.1l.2-.7l.2-.2l.2-.3l.2 1l.2-.7l.2 0l.2 .7l.2-.1l.2 .1l.2-.8l.2-.6l.2 .8l.2 .2l.2-.1l.2 .6l.2-.2l.2-.6l.2 .7l.2-.3l.2-.1l.2 .6l.2-1.1l.2 1.1l.2 0l.2-1.3l.2 .8l.2 0l.2-.4l.2 .2l.2-.1l.2 .4l.2-.3l.2-.7l.2 1.4l.2-.1l.2-.7l.2 .7l.2 .5l.2-1.5l.2 .5l.2-.1l.2 .5l.2-.4l.2-.5l.2 1.1l.2-.6l.2 .4l.2 .7l.2-1.3l.2 .1l.2 .6l.2-.5l.2 .3l.2-.2l.2 1.2l.2-1l.2-.1l.2-.1l.2 .1l.2-.8l.2 .5l.2 .5l.2-.9l.2 .6l.2-.1l.2-.2l.2 1.3l.2-.8l.2-.1l.2-.5l.2 .4l.2-.2l.2 .1l.2 .1l.2 .9l.2-.4l.2 .1l.2-.1l.2 .6l.2-1.5l.2-.3l.2 .6l.2 .1l.2-.1l.2-.3l.2 .5l.2 .4l.2-.6l.2-.2l.2 .6l.2-.6l.2-.1l.2 .3l.2-1.1l.2 1.7l.2-.8l.2 .3l.2-.1l.2 0l.2-.8l.2 1.3l.2-.5l.2-.1l.2 1.2l.2-1.9l.2 .8l.2-.3l.2-.6l.2 1.4l.2-1.5l.2 .7l.2-.1l.2 .1l.2-.5l.2 1l.2-.5l.2-.7l.2 0l.2 .6l.2-.6l.2 .7l.2-.1l.2-.4l.2-.6l.2 .2l.2 .7l.2-.4l.2 1l.2-1l.2 .3l.2 .1l.2-.3l.2 .1l.2 .2l.2-.5l.2 .2l.2-.4l.2 1l.2-.8l.2 .2l.2-1.7l.2 1l.2-.3l.2 .4l.2-.2l.2-.3l.2 .2l.2 .4l.2 0l.2-.7l.2 .5l.2-.8l.2 .5l.2-.8l.2 .7l.2 .4l.2-1.2l.2 .5l.2-1.3l.2 .2l.2 1.2l.2-1.3l.2 0l.2-1.2l.2 .4l.2-.6l.2 .5l.2-1.2l.2 .8l.2-2.1l.2 0l.2-1.7l.2-.2l.2-.2l.2-1.7l.2-1.8l.2-.7l.2-1.4l.2-2.1l.2-1.8l.2-3.3l.2-1.2l.2-3.2l.2-4.2l.2-1.5l.2-4.4l.2-3.2l.2-4.7l.2-3.3l.2-4.3l.2-2.7l.2-4l.2-3.7l.2-2.7l.2-1.9l.2-2.7l.2-.6l.2-1.1l.2 .2l.2 1.6l.2 2l.2 2.7l.2 3.3l.2 2.8l.2 3.6l.2 4.3l.2 3.7l.2 3.6l.2 3.8l.2 2.6l.2 4.1l.2 2.7l.2 3.6l.2 3.2l.2 1.5l.2 3.4l.2 1.4l.2 2l.2 1.5l.2 2l.2 .7l.2 .5l.2 1.9l.2 .7l.2 1l.2 .7l.2-.3l.2 1.1l.2 .4l.2 .3l.2 .4l.2 .3l.2-.1l.2 .4l.2 .7l.2-.7l.2 .6l.2-.2l.2 .1l.2 .4l.2 .4l.2 .6l.2-.6l.2 .6l.2-.1l.2-.1l.2-1.2l.2 1.4l.2 0l.2-.3l.2 .5l.2 .6l.2-1l.2 .3l.2 .7l.2-1.1l.2 .4l.2 .6l.2 .3l.2 .1l.2-.1l.2 .7l.2-.8l.2-.7l.2 .5l.2 .4l.2-.1l.2-.9l.2 1l.2-.5l.2 .3l.2 .7l.2-.7l.2-.1l.2 .2l.2-.2l.2 1.2l.2-.5l.2 0l.2-.6l.2 0l.2 .4l.2-1l.2 1.3l.2-1l.2 .6l.2 .1l.2-.4l.2 .4l.2 .2l.2 .5l.2-.7l.2 .6l.2-.6l.2-.3l.2 .4l.2-.6l.2 .2l.2 .1l.2 .2l.2-.4l.2-.8l.2 1.1l.2-.6l.2-.2l.2-.3l.2 .5l.2-.1l.2 .2l.2-.4l.2 .8l.2-.7l.2 .3l.2 0l.2 .5l.2-.7l.2 .3l.2 .1l.2-.1l.2 0l.2-.1l.2 .9l.2 .3l.2-1l.2 .8l.2-.8l.2 .2l.2 .3l.2 .2l.2 .1l.2-.9l.2 .2l.2 .6l.2-.1l.2 1l.2-1l.2-.1l.2 .8l.2-1.7l.2 .4l.2 1.9l.2-1.4l.2 .3l.2-.1l.2-.3l.2 .4l.2-.5l.2 .9l.2 0l.2-.1l.2-.6l.2-.5l.2 .7l.2-.3l.2 .6l.2-.8l.2 .3l.2 .4l.2 .2l.2-.2l.2-.5l.2 .2l.2 1.1l.2-.4l.2-.7l.2 1.1l.2-.8l.2 0l.2-.3l.2 .9l.2-.5l.2-.1l.2-.4l.2-.1l.2 .6l.2-.1l.2 .7l.2-1l.2 .2l.2 .6l.2-.1l.2-.6l.2 .9l.2-.4l.2 .1l.2-.2l.2 .3l.2-.6l.2 .1l.2 .5l.2-.3l.2 0l.2 .3l.2-.3l.2 0l.2-1l.2 .7l.2 .5l.2-.7l.2 .3l.2 .2l.2-.2l.2 .4l.2-.1l.2-.3l.2 .5l.2-.6l.2-.1l.2 .4l.2 .2l.2-.4l.2-.3l.2 .2l.2 .3l.2 .2l.2 .4l.2-.8l.2 0l.2-.8l.2 1.4l.2-.1l.2-.4l.2-.3l.2-.8l.2 1.4l.2-.6l.2 1l.2-.4l.2 .3l.2-.6l.2 .5l.2-1.1l.2 1.2l.2-.6l.2-.5l.2 .4l.2-.3l.2 .5l.2-.4l.2-.2l.2 .4l.2 0l.2 .2l.2 .2l.2 .3l.2-.4l.2 .5l.2-1.7l.2 1l.2 .4l.2-.9l.2 .5l.2 .1l.2-.7l.2 .4l.2 .5l.2-.4l.2 .8l.2 .3l.2-1l.2-.4l.2 .4l.2-.2l.2-.3l.2 .4l.2 0l.2 0l.2 .5l.2 .1l.2-.3l.2-.3l.2 .3l.2-.1l.2 .1l.2-.5l.2-.9l.2 1.6l.2-.6l.2 .1l.2 .2l.2-.1l.2-.1l.2 .8l.2-.6l.2 .1l.2-.5l.2 .3l.2 .3l.2-.3l.2 .2l.2-.5l.2 .5l.2-.5l.2 .2l.2-.1l.2 .4l.2 .3l.2-.3l.2-.5l.2 .4l.2 .4l.2-.1l.2-.1l.2-.7l.2 .3l.2-.1l.2 .1l.2 .3l.2-.1l.2-.2l.2 .4l.2-.5l.2 .2l.2 .1l.2-.6l.2 .2l.2-.2l.2 .2l.2 .3l.2 0l.2 .2l.2 0l.2-.6l.2 1.3l.2-.2l.2-1.1l.2 .2l.2 .1l.2 .3l.2 .2l.2-.3l.2-1.1l.2 2.3l.2-.8l.2-.1l.2-.6l.2 .3l.2 .4l.2-.6l.2 .7l.2-.5l.2 .7l.2-.7l.2 .6l.2-1.3l.2 1.3l.2-.4l.2-.4l.2 .7l.2-.6l.2 .4l.2 .1l.2 0l.2 .5l.2-.3l.2 .5l.2-.8l.2-.2l.2 .1l.2-.2l.2-.5l.2 .6l.2-.6l.2 .4l.2 0l.2-.1l.2-.2l.2 .5l.2-.1l.2 .6l.2-.3l.2 .1l.2-.6l.2 .1l.2-.4l.2 .2l.2 .6l.2-.4l.2 .1l.2-.2l.2 .9l.2-.7l.2 .5l.2-.5l.2 .4l.2-.8l.2-.1l.2 1l.2-.6l.2 .2l.2 .3l.2-.1l.2-.2l.2-.6l.2 .2l.2 .3l.2 .3l.2-.1l.2 0l.2-.5l.2 .3l.2 .4l.2-.7l.2 .1l.2 .6l.2 .3l.2-.5l.2-.2l.2-.4l.2 .4l.2-.3l.2 .4l.2 .2l.2-.1l.2 .4l.2-1l.2-.1l.2 1.1l.2-.1l.2-.9l.2 .5l.2-.5l.2 .4l.2 .2l.2 .2l.2-.8l.2-.1l.2 .8l.2-.4l.2 .7l.2-1.1l.2 .3l.2-.9l.2 1.6l.2 .1l.2-.4l.2-.3l.2-.7l.2 .3l.2 .3l.2 1l.2-.4l.2-.6l.2 .4l.2 .1l.2-.1l.2-.6l.2 .2l.2 .6l.2-.1l.2-.4l.2 1.1l.2-.9l.2-.2l.2 .5l.2 0l.2-.4l.2 .8l.2-.3l.2-.5l.2 .3l.2 0l.2-.4l.2 .4l.2-.5l.2 .1l.2 .4l.2-.8l.2 .4l.2-.3l.2 .7l.2-.5l.2 1l.2-.1l.2-1l.2 .4l.2-.2l.2 .1l.2 .3l.2 .3l.2 .3l.2-.1l.2-1.3l.2 .3l.2 .1l.2 0l.2 .2l.2 .2l.2-.5l.2 0l.2 1.2l.2-.7l.2 .6l.2-1.1l.2 .8l.2 .1l.2-.1l.2-.9l.2 .5l.2-.5l.2-.2l.2 .5l.2 .2l.2-.3l.2 .1l.2 .3l.2-.6l.2 .5l.2 .1l.2 0l.2-.1l.2-.6l.2 .3l.2-.1l.2 .5l.2-1l.2 .7l.2-.7l.2 1l.2-.5l.2 .2l.2 .4l.2 .3l.2-1.1l.2 .4l.2-.8l.2 .7l.2-.2l.2 .5l.2-.3l.2 .1l.2-.5l.2 .3l.2-.3l.2 .5l.2-.7l.2 .8l.2 .3l.2 .6l.2-.4l.2-.1l.2-.2l.2 .3l.2-.7l.2 .2l.2-1l.2 .6l.2 .7l.2-1.2l.2 .8l.2-.1l.2-.2l.2 .3l.2-.1l.2-.5l.2 .4l.2-.7l.2 1.4l.2-.7l.2 .4l.2-.7l.2 1.1l.2-.4l.2-.2l.2-.1l.2 .1l.2-.5l.2 .2l.2 0l.2 .2l.2 .5l.2-.2l.2-.4l.2 .1l.2-.4l.2-.1l.2-.4l.2 .1l.2 0l.2 .4l.2-.1l.2 .2l.2 .3l.2-.3l.2-.4l.2-.2l.2 0l.2 .3l.2-.7l.2-.3l.2 .4l.2 .4l.2 0l.2-.4l.2-1.2l.2 .5l.2 .2l.2 0l.2 .1l.2-1.3l.2 .4l.2-1l.2 .4l.2-.2l.2 .3l.2-.3l.2-.9l.2 .6l.2 .2l.2 .5l.2-.8l.2 0l.2 .2l.2 .8l.2-.4l.2 .3l.2 .3l.2-.4l.2 .9l.2-1.1l.2 1.6l.2-1l.2 0l.2 .1l.2-.2l.2 .1l.2 0l.2-.1l.2 .3l.2 .1l.2-.5l.2 .2l.2-.6l.2 .2l.2-.4l.2-.6l.2 .2l.2-.4l.2-.6l.2-.1l.2-.1l.2-1.2l.2-.1l.2 0l.2-.7l.2-.2l.2 .3l.2-2l.2 .3l.2-.7l.2 .4l.2-.6l.2-1l.2 .9l.2-.4l.2-.1l.2 .3l.2 .4l.2-.2l.2 .6l.2 1.1l.2-.6l.2 .7l.2 1l.2-.3l.2 .7l.2 .7l.2-.2l.2 .7l.2 0l.2 .6l.2 .5l.2 .1l.2 .3l.2 .3l.2 .3l.2-.7l.2 .5l.2 .7l.2-.8l.2 0l.2 0l.2-.4l.2 .4l.2-.3l.2-.2l.2 .2l.2 0l.2-1.3l.2 .2l.2 0l.2-.6l.2 .8l.2 .5l.2-.6l.2 .3l.2-1.3l.2 .7l.2-.2l.2 1.1l.2-.2l.2 .3l.2 .5l.2 .4l.2 .6l.2 .1l.2 .1l.2-.9l.2 1.4l.2-.2l.2-.5l.2 .8l.2 0l.2 .2l.2 .6l.2-.8l.2 .9l.2 .3l.2-.9l.2 1.2l.2-.8l.2 0l.2 .8l.2-.4l.2-.7l.2 .5l.2 .6l.2-.5l.2 .1l.2 .2l.2 0l.2-.2l.2-.1l.2 .6l.2 .3l.2-1.5l.2 1.2l.2 .3l.2-.8l.2 1l.2-1.2l.2 1l.2 .3l.2 0l.2-1.8l.2 1.2l.2-.5l.2 .6l.2 .5l.2-.4l.2 .5l.2-1.4l.2 .4l.2 .1l.2 .5l.2 .2l.2-.8l.2-.1l.2 .8l.2-.9l.2 .8l.2-.6l.2 .3l.2 .9l.2-.9l.2 .1l.2-.4l.2 .6l.2 .4l.2-.3l.2-.9l.2 .8l.2 .5l.2-1.1l.2 .3l.2-.3l.2 .2l.2-.2l.2-.1l.2 .7l.2-.2l.2-.9l.2 .5l.2 .1l.2-.1l.2 .5l.2-.1l.2 .2l.2-.7l.2 .2l.2 .2l.2 0l.2 0l.2-.2l.2 .3l.2 .7l.2-1l.2-.3l.2 .8l.2-.5l.2 .7l.2 .1l.2 .3l.2-.7l.2-.7l.2 1.3l.2-.2l.2 .1l.2-.5l.2-.2l.2 .2l.2-.8l.2 1.2l.2-.7l.2 0l.2 .4l.2-.5l.2 .7l.2-.6l.2 1.3l.2-.5l.2-.2l.2-.2l.2-.1l.2-.2l.2-.6l.2 .6l.2-.1l.2 .1l.2 .2l.2-.8l.2 .3l.2 .2l.2 .1l.2 .6l.2 .7l.2-1.1l.2 .3l.2-.3l.2 .1l.2 .7l.2-.7l.2 .2l.2-.3l.2-.2l.2 .7l.2-.5l.2 .6l.2-1l.2 .6l.2 .5l.2-.9l.2 .4l.2 .5l.2-.5l.2-.5l.2 .2l.2 .3l.2-.4l.2 .1l.2 .2l.2-.6l.2 1.2l.2-.9l.2 .2l.2 .1l.2 .5l.2-.7l.2 1l.2-.1l.2-.5l.2-.8l.2 0l.2 .4l.2 .3l.2 .1l.2 .3l.2-.4l.2-.1l.2 .1l.2-1l.2 1.3l.2-1.1l.2-.2l.2 .6l.2 .1l.2-.4l.2 .5l.2 .1l.2 .2l.2-.1l.2-.4l.2 .3l.2 .5l.2-.7l.2 .1l.2-.8l.2 1l.2 .7l.2-.5l.2-.4l.2 .6l.2 0l.2 0l.2-1l.2 0l.2 .8l.2-.1l.2 0l.2-.9l.2 1l.2 .5l.2-.3l.2 .5l.2-.8l.2-.2l.2 .7l.2-.3l.2-1.4l.2 .3l.2 .8l.2-.4l.2 1l.2-.1l.2-.1l.2-.7l.2 .1l.2 .4l.2-.5l.2 .5l.2-.2l.2 .2l.2-.3l.2-.4l.2-.9l.2 .7l.2 0l.2 .8l.2-.8l.2 .3l.2 .5l.2 .1l.2 .1l.2-.2l.2 .4l.2-.9l.2 .8l.2-1.1l.2 .4l.2 .3l.2 .1l.2-.4l.2-.1l.2-.3l.2-.4l.2 .1l.2 1.5l.2-1.4l.2 .1l.2 0l.2 .5l.2 0l.2-.1l.2-.3l.2 .5l.2-.5l.2 .7l.2 .5l.2-1l.2 .4l.2-.3l.2 .1l.2-.4l.2 .6l.2-.1l.2 .6l.2 .5l.2-1.5l.2 .9l.2-.8l.2 .1l.2-.2l.2 .7l.2 .3l.2-.6l.2 .1l.2-.4l.2 .2l.2-.4l.2 .5l.2-.8l.2 1.8l.2-.4l.2-.8l.2 0l.2 .1l.2 .2l.2 .1l.2 .7l.2-1l.2-.7l.2 1l.2 0l.2-.5l.2 .7l.2-.4l.2-.3l.2 .3l.2-.5l.2 .4l.2 .9l.2-.2l.2-.3l.2-.2l.2 .1l.2-.7l.2 .6l.2-.4l.2 .1l.2 .9l.2-1l.2 .4l.2 0l.2 .4l.2-.6l.2 .4l.2-.1l.2-.2l.2-.2l.2-.2l.2 .9l.2-.8l.2 .8l.2 .2l.2-.9l.2-.2l.2 0l.2 .2l.2 .8l.2-.9l.2-.1l.2-.3l.2 .8l.2 .1l.2 .5l.2-.6l.2-.1l.2 0l.2 1.3l.2-.6l.2-.3l.2-.5l.2 0l.2 .1l.2 0l.2 .2l.2-.5l.2 1.1l.2-1.2l.2 .7l.2 0l.2 .1l.2 .2l.2-.5l.2 0l.2 .5l.2 0l.2-.6l.2 .4l.2-.9l.2 .7l.2-1.1l.2 1.4l.2-.8l.2 .7l.2-.2l.2-.5l.2 .7l.2 .3l.2-1.1l.2 1.2l.2-.6l.2-.6l.2 .3l.2 .2l.2 .2l.2-.7l.2 .2l.2 .4l.2-.1l.2 .7l.2-.5l.2 0l.2-.7l.2 0l.2-.1l.2 .4l.2 .3l.2 .4l.2-.3l.2-.7l.2 .3l.2 .9l.2-.8l.2 .1l.2-.8l.2 0l.2 .4l.2 .1l.2 .3l.2-.3l.2-.6l.2 1.7l.2-.9l.2-.9l.2 1.4l.2-.3l.2-.4l.2 0l.2 .2l.2-1.2l.2 1.4l.2-.3l.2 .2l.2-.6l.2 0l.2 .9l.2-2.1l.2 1.9l.2 0l.2-1.2l.2 .6l.2-.2l.2 0l.2-.3l.2-.1l.2 .6l.2-.2l.2 .4l.2 0l.2-.5l.2 1l.2-.2l.2-1.3l.2 .5l.2-.1l.2 .3l.2-.6l.2 1l.2-.9l.2 1l.2-1.2l.2 1.1l.2-.7l.2 .1l.2-.3l.2-.1l.2-.6l.2 .2l.2-.3l.2 .1l.2-.2l.2 .3l.2-.4l.2-.4l.2-.8l.2 .8l.2-.9l.2-.2l.2 0l.2-.6l.2-.3l.2-.5l.2-1.3l.2 .6l.2-1l.2-.2l.2-1l.2-.9l.2 0l.2-1.3l.2-.4l.2-1l.2-.7l.2-.7l.2-.9l.2-1.4l.2-.4l.2 .2l.2-1.1l.2-.4l.2 0l.2 .4l.2-.6l.2 .6l.2 .3l.2 .5l.2 1.2l.2 .2l.2 1l.2 .9l.2 .9l.2 .8l.2 .9l.2 .1l.2 .1l.2 2.1l.2 .9l.2-.2l.2 .8l.2 .9l.2-.2l.2 .7l.2 .3l.2 .8l.2 .1l.2 1l.2-.8l.2 .3l.2-.1l.2 .9l.2 0l.2 .1l.2 .5l.2-.5l.2-.1l.2 1.6l.2-.8l.2-.4l.2 1l.2-.4l.2-.3l.2 .5l.2 .4l.2-.1l.2-.3l.2 .8l.2-1l.2 .3l.2 .3l.2-.6l.2 .7l.2-.1l.2 .3l.2-.3l.2 .8l.2-1.4l.2 .4l.2 0l.2 .2l.2 .3l.2-.7l.2 .9l.2 .1l.2-.4l.2-.7l.2 .9l.2-.1l.2-.5l.2 .1l.2 .1l.2-.4l.2 .8l.2 .3l.2-.3l.2-.5l.2 .3l.2 0l.2 .8l.2-.9l.2 .4l.2-.4l.2 .7l.2-.8l.2 .5l.2-.3l.2 .4l.2-.9l.2 .6l.2 .5l.2-.2l.2-.7l.2 1.5l.2-.9l.2-.3l.2 0l.2-.2l.2 1l.2-.1l.2 .1l.2-1l.2-.4l.2-.1l.2 .3l.2 .4l.2-.3l.2-.2l.2 .9l.2-.5l.2 .4l.2 .4l.2-.8l.2 .1l.2 .7l.2-1.1l.2 .4l.2-.3l.2 .4l.2-.2l.2 .4l.2-.3l.2 .7l.2-.8l.2 .3l.2 .3l.2-.7l.2 .1l.2 .3l.2-.2l.2 .5l.2-.6l.2-.3l.2 .9l.2-.6l.2 .1l.2 .1l.2 .6l.2-.1l.2-.3l.2 0l.2-.2l.2 .8l.2-.2l.2-.8l.2 .7l.2-.9l.2 .2l.2 0l.2 1l.2 .2l.2-.8l.2-.3l.2 .8l.2-.8l.2 .9l.2-1.1l.2 .9l.2-.8l.2 1.1l.2-.7l.2-.3l.2 .3l.2-1.1l.2 1.1l.2 .2l.2 .7l.2-1.4l.2 .9l.2 .1l.2-.3l.2-.4l.2 .2l.2-.4l.2 .5l.2-.6l.2 .2l.2 .3l.2-.4l.2-.2l.2 .5l.2 .2l.2 .1l.2-.1l.2 .5l.2-.7l.2 .6l.2-1l.2 .7l.2 0l.2 .5l.2-1l.2 1l.2-.8l.2-.1l.2-.6l.2 1.1l.2-.6l.2 .6l.2-.3l.2 .3l.2-.3l.2-.4l.2 .1l.2 .2l.2 .2l.2-.5l.2 .7l.2-1.2l.2 .3l.2 .8l.2-.2l.2 .8l.2-.5l.2-.8l.2-.1l.2 .5l.2 0l.2 .3l.2-.5l.2-.1l.2 0l.2 .3l.2-.4l.2 .3l.2 .4l.2-.4l.2-.4l.2 .7l.2 .1l.2-.7l.2 .2l.2-.6l.2 .3l.2-.1l.2-.1l.2 .3l.2 1.1l.2-.3l.2-.7l.2 .4l.2-.2l.2 0l.2-.9l.2 .8l.2-.5l.2 .3l.2 .2l.2-1.5l.2 .4l.2 1.2l.2 .4l.2-.2l.2-.8l.2 .3l.2 .4l.2-.4l.2-.9l.2 1.3l.2-.6l.2 .2l.2-.8l.2 .3l.2 1l.2-.8l.2 .4l.2 .5l.2-.7l.2-.1l.2-.1l.2 .4l.2-.2l.2-.1l.2 .5l.2-.5l.2 .2l.2-.9l.2 .1l.2 .4l.2-.8l.2-.3l.2 .4l.2-.3l.2 .3l.2 .4l.2-1.1l.2-.4l.2 .1l.2-.3l.2-.2l.2 .5l.2-.5l.2-.3l.2-.5l.2 .2l.2-.8l.2 .5l.2-1.1l.2-.3l.2 0l.2 .2l.2-1.9l.2 .6l.2-1.1l.2-.4l.2 .2l.2 .3l.2-1.3l.2 .4l.2 .8l.2-.3l.2-.7l.2 .5l.2-.2l.2-.1l.2 .1l.2 1.1l.2-.6l.2 .5l.2 .2l.2-.2l.2 .9l.2 1.2l.2-.9l.2 .7l.2 .8l.2 0l.2 0l.2 .5l.2 .2l.2 0l.2-.1l.2 .3l.2-.4l.2 1l.2-.1l.2 0l.2-.4l.2 .5l.2-.5l.2 1.1l.2-.8l.2 .9l.2-.8l.2 .6l.2-.2l.2 .1l.2-.7l.2-.8l.2 .8l.2-.6l.2-.6l.2 0l.2 .3l.2-.1l.2-.4l.2-.1l.2-.2l.2-.9l.2-.2l.2-.4l.2-.3l.2-.3l.2-.2l.2-.5l.2 0l.2 .1l.2-.7l.2 .2l.2-.7l.2-.1l.2 1.1l.2-.7l.2 .7l.2-1.2l.2 .1l.2 1.2l.2 .2l.2-.6l.2 1.7l.2 .3l.2-.3l.2 .9l.2 .4l.2 .1l.2 .1l.2 .8l.2-.1l.2 .2l.2-.1l.2 .9l.2 .8l.2-.5l.2 .2l.2-.2l.2 .7l.2 .6l.2-.2l.2 .4l.2 .4l.2-.7l.2 .2l.2 .6l.2-.3l.2-.2l.2 .5l.2 .3l.2 .3l.2-.8l.2 .6l.2 .1l.2-1.3l.2 1.5l.2-.3l.2-.6l.2 1.5l.2-.6l.2 0l.2 .9l.2-.5l.2-.9l.2 .5l.2 .7l.2-.2l.2 .2l.2-.7l.2 .5l.2-.7l.2 .2l.2 .4l.2-.4l.2 .4l.2-.3l.2 .2l.2 .7l.2-.6l.2 .2l.2-1l.2 .3l.2 .7l.2-1.1l.2 .5l.2 .1l.2 .6l.2-1.2l.2 .5l.2 .3l.2 0l.2-.7l.2 1.2l.2-.2l.2 .2l.2-.3l.2 .1l.2-.4l.2 0l.2-.4l.2 .7l.2-.7l.2 1l.2-.3l.2-.4l.2 .3l.2-.7l.2 .2l.2 .2l.2-.4l.2 .4l.2 .2l.2-.2l.2-.1l.2-.1l.2-.4l.2 1.1l.2-.4l.2 .7l.2-1l.2 .3l.2 .5l.2 .3l.2-.2l.2 0l.2-1l.2 .8l.2 .6l.2-1.7l.2 1.1l.2 .7l.2-1.4l.2 .6l.2 .7l.2-.5l.2-.2l.2 .3l.2-.5l.2 .4l.2-.3l.2 .4l.2-.7l.2 .3l.2 .1l.2-1l.2 1.3l.2-.5l.2-.1l.2-.4l.2 .6l.2-.3l.2 .6l.2 .4l.2-.8l.2-.1l.2 .2l.2-.1l.2 .4l.2-1.1l.2 1.1l.2-.3l.2-.2l.2-.4l.2 1.1l.2 0l.2-.3l.2 .2l.2 0l.2-.2l.2 .2l.2-.8l.2 .8l.2-1.4l.2 1.6l.2 .2l.2-.2l.2-.9l.2 .3l.2 .3l.2-.6l.2 .6l.2-.2l.2 .6l.2-.8l.2 0l.2 .4l.2 .2l.2-.5l.2-.5l.2 0l.2-.1l.2 .7l.2-.4l.2 .4l.2-.6l.2 .5l.2 .3l.2-.7l.2 1l.2-.5l.2-.3l.2 .2l.2 .1l.2-.4l.2 .2l.2 .3l.2-.9l.2 1.9l.2-.7l.2 .1l.2 .5l.2-.7l.2-.3l.2 0l.2 .3l.2 .3l.2-.9l.2 1.1l.2-.9l.2-.3l.2 1l.2-.8l.2 .5l.2-.9l.2 .9l.2-.5l.2 .7l.2-1.2l.2 .4l.2-.1l.2 .5l.2-.5l.2 .3l.2 .1l.2-.2l.2 .3l.2 0l.2-.8l.2 1.2l.2-1l.2 .2l.2 1l.2-1l.2 .3l.2 .3l.2-.6l.2 .3l.2-.1l.2 0l.2-.4l.2 1l.2-.5l.2 .3l.2-.3l.2-.2l.2 .7l.2-.8l.2 .7l.2-.7l.2 0l.2 .4l.2 .9l.2-.6l.2-.3l.2 .1l.2 .3l.2-.7l.2-.6l.2 .4l.2 .4l.2-.3l.2 .2l.2 .7l.2-.7l.2-.1l.2 .2l.2 .5l.2 .2l.2-.4l.2-.4l.2-.1l.2-.3l.2 .2l.2 .7l.2-.1l.2-.2l.2-.5l.2 .4l.2-.3l.2 .9l.2-.6l.2 0l.2 0l.2 0l.2 0l.2-.2l.2 .3l.2-.1l.2 .4l.2-.2l.2 .1l.2-.5l.2 .2l.2-1l.2 .6l.2 .2l.2-.8l.2 1.5l.2-.1l.2-.4l.2 1l.2-1.7l.2 .7l.2 0l.2-.2l.2 .8l.2-.2l.2-.2l.2-.6l.2 .5l.2-.1l.2 .2l.2-.9l.2 .2l.2 .9l.2-.4l.2-.1l.2 0l.2-1.1l.2 1.7l.2-1.2l.2 .1l.2 .7l.2 .4l.2-.1l.2-.7l.2-.2l.2 .6l.2-.1l.2-.9l.2 1.3l.2-1.4l.2 1l.2 0l.2 .1l.2-.2l.2 .3l.2-.3l.2-.5l.2 .1l.2 .9l.2-1.4l.2 1.1l.2-.6l.2-.5l.2 .4l.2 .5l.2-1.4l.2 1.6l.2 .1l.2-.7l.2 0l.2 .1l.2 .4l.2-.9l.2 .3l.2 .3l.2-.8l.2 .7l.2-.2l.2 .3l.2-.8l.2 .4l.2 .1l.2-.2l.2-.5l.2 .9l.2-.6l.2 0l.2-.1l.2 .2l.2-.3l.2-.4l.2 .5l.2-.5l.2 0l.2-.1l.2-.7l.2 .4l.2 0l.2-.9l.2 .3l.2 0l.2 .1l.2-.6l.2 0l.2 0l.2-.9l.2 0l.2 0l.2 .2l.2 .1l.2-.7l.2-.3l.2-.4l.2 .1l.2 .5l.2-.9l.2-.3l.2 .8l.2-.8l.2-.2l.2-.3l.2 .8l.2-.5l.2-.7l.2-.1l.2 1.1l.2-.2l.2 .5l.2 .2l.2 .6l.2 .1l.2-.9l.2 .5l.2 0l.2 .9l.2-.8l.2 1.1l.2-.8l.2 1.3l.2 .3l.2-1l.2 .9l.2-.1l.2-.3l.2 1.2l.2-.5l.2 .9l.2-.1l.2 .7l.2-.8l.2 .6l.2-.1l.2-.2l.2 .7l.2-.3l.2-.1l.2 .3l.2-.5l.2 1l.2 .4l.2-1.3l.2 .7l.2-.1l.2-.1l.2 .6l.2 .5l.2-.6l.2-.2l.2 .9l.2-.9l.2-.1l.2 .1l.2 .6l.2-.3l.2 0l.2-.3l.2 .5l.2-.2l.2 .8l.2-.8l.2-.4l.2 1.2l.2-.6l.2-.1l.2 .2l.2-.2l.2-.9l.2 .9l.2 .6l.2-.1l.2-.8l.2 .2l.2 .4l.2 .7l.2-.7l.2-.1l.2-.3l.2 .1l.2-.1l.2 .2l.2-.4l.2 .3l.2-.3l.2 .9l.2-.2l.2-.3l.2 0l.2 .4l.2-.2l.2-.3l.2-.9l.2 .3l.2 1.1l.2-.4l.2-.2l.2-.5l.2 1.1l.2-.8l.2 .6l.2-.1l.2-.2l.2-.3l.2 .7l.2-.8l.2 .4l.2 .2l.2 .5l.2-.6l.2 .2l.2 .2l.2-1.3l.2 .7l.2 .2l.2-.2l.2 .7l.2-.6l.2 .5l.2 .1l.2-.5l.2 .3l.2 .5l.2-.2l.2-.4l.2-.7l.2 .4l.2 .2l.2 .2l.2-.1l.2 0l.2-.5l.2 .7l.2 .2l.2-.4l.2 0l.2 .3l.2-.5l.2 .4l.2 .2l.2-.7l.2 .3l.2-.3l.2-.2l.2-.3l.2 .9l.2 .9l.2-1.1l.2 .8l.2-.3l.2-.6l.2 .6l.2-.6l.2-.7l.2 1.3l.2-.5l.2 0l.2 .4l.2 .1l.2-.5l.2 .2l.2 .1l.2-.5l.2 .6l.2-.5l.2 .4l.2 .2l.2 0l.2-1.2l.2 .5l.2 .2l.2-.2l.2 .3l.2 0l.2 .1l.2 .9l.2-.9l.2 0l.2-.4l.2 .2l.2 0l.2 .4l.2-.8l.2 .4l.2-.3l.2-.3l.2 1l.2-.3l.2 .2l.2 .5l.2-.1l.2-.6l.2 .2l.2-.4l.2 .1l.2-.5l.2 .9l.2-.2l.2 .4l.2 .3l.2-1.1l.2 .4l.2-.2l.2 .7l.2-.7l.2 .8l.2 .3l.2-.1l.2 0l.2-.7l.2-.1l.2-.6l.2 .6l.2-.7l.2 .2l.2 .9l.2-.1l.2-.8l.2 1.4l.2-1.4l.2 0l.2 1l.2 .1l.2-.8l.2 .4l.2-.9l.2 1l.2-.6l.2 .6l.2-.6l.2 0l.2 .5l.2 0l.2-.4l.2-.5l.2 .8l.2 .4l.2-.3l.2-.9l.2 .7l.2 0l.2 .6l.2-.8l.2 0l.2 .8l.2-1.2l.2 .2l.2-.1l.2 .9l.2-.8l.2 .6l.2-.6l.2 .9l.2-.4l.2-.5l.2 .6l.2-.2l.2-.1l.2-.4l.2 1.2l.2-.8l.2-.2l.2 .2l.2-.1l.2-.5l.2 1l.2-1.1l.2 1l.2-1.1l.2 .2l.2 1l.2-1.1l.2 .6l.2 .1l.2 .5l.2 .1l.2-.4l.2-.1l.2 .2l.2 0l.2-1.1l.2 .9l.2-.6l.2 1.4l.2-.6l.2-.8l.2 1l.2-1.2l.2 .6l.2-.7l.2 .3l.2 .2l.2-.7l.2 .8l.2 .2l.2 .2l.2-.3l.2-.3l.2 .1l.2-.7l.2 0l.2 .8l.2-1.1l.2 .2l.2 .5l.2-.5l.2-.5l.2 .2l.2-.1l.2-.3l.2 .2l.2 .5l.2-.7l.2 .3l.2-.4l.2 .1l.2 .3l.2-.2l.2-.3l.2-.1l.2 .5l.2-.6l.2-.5l.2 .9l.2-.1l.2-.3l.2-.2l.2 .8l.2 0l.2-.3l.2-.2l.2 .4l.2 .5l.2-1l.2 .7l.2-1.1l.2 .7l.2 .5l.2-.1l.2-.5l.2 .9l.2 0l.2 .1l.2-.4l.2 .2l.2 0l.2 .3l.2-.1l.2 0l.2 .4l.2 .2l.2-.3l.2 .5l.2-1.2l.2 1.8l.2-1.4l.2 .2l.2 .4l.2 .2l.2-.3l.2-.7l.2 .5l.2-.3l.2 .9l.2-.6l.2-.8l.2 .7l.2 .4l.2-.6l.2 .6l.2-.9l.2 .6l.2 .5l.2-.4l.2-.5l.2 .1l.2 .6l.2-.1l.2-.2l.2 .1l.2-.4l.2-.1l.2-.1l.2-.2l.2 .6l.2-1l.2 1.2l.2-.6l.2-.6l.2 .6l.2 0l.2-.7l.2-.7l.2 .4l.2-.1l.2-.4l.2-.4l.2 .1l.2 .4l.2-.2l.2 .4l.2-1l.2 .8l.2-.7l.2 .6l.2-.1l.2 .5l.2-.3l.2-.3l.2 .3l.2-.6l.2 .7l.2 .3l.2 0l.2-.2l.2 .5l.2 .1l.2 .1l.2-.4l.2 .8l.2-.2l.2-.4l.2 .5l.2 .7l.2 .2l.2-.7l.2-.1l.2 .3l.2 .5l.2 .3l.2-.4l.2-.1l.2 .7l.2-.3l.2-.5l.2 .3l.2 .5l.2-.5l.2 .2l.2-.3l.2 .5l.2 .4l.2 0l.2-.7l.2-.3l.2 1.1l.2-.3l.2-.9l.2 1.3l.2-.8l.2-.1l.2 .3l.2-.6l.2 .2l.2 1l.2-.7l.2 .3l.2 .4l.2-.4l.2-.2l.2 .3l.2 .5l.2-.5l.2-.4l.2 1l.2-.2l.2-1.1l.2 .7l.2 .8l.2-1.6l.2 0l.2 .9l.2-.5l.2-.4l.2 1.3l.2-.7l.2 .2l.2 .3l.2-.3l.2-.5l.2 1.3l.2-.5l.2-.4l.2-.2l.2-.4l.2 .9l.2-.9l.2 1.3l.2-1.5l.2 1.1l.2-.8l.2 0l.2 .8l.2-.3l.2 .3l.2-.8l.2 .4l.2-.1l.2 .3l.2 .2l.2-.4l.2-.3l.2 .4l.2-.7l.2 .4l.2 .8l.2-.7l.2 .5l.2-.5l.2-.2l.2 .4l.2 .2l.2-.3l.2 .2l.2 .6l.2-.7l.2 .1l.2-.4l.2 .6l.2-.6l.2 .4l.2-.3l.2 .5l.2-.1l.2 .2l.2-.4l.2 .3l.2 .5l.2-1.2l.2 0l.2 .7l.2-.2l.2-.1l.2-1l.2 .9l.2 .5l.2-.2l.2-.2l.2-.1l.2-.2l.2 .1l.2 .2l.2-.8l.2 1.3l.2-1l.2 1l.2-.2l.2-.7l.2 .2l.2 .3l.2 .3l.2-.8l.2 .6l.2 .1l.2-.4l.2 .2l.2-.3l.2 0l.2-.3l.2 .1l.2 .7l.2-.1l.2 0l.2-.5l.2 .4l.2 .2l.2-.9l.2 .1l.2 0l.2 .5l.2 0l.2 .7l.2-.3l.2-1.6l.2 1.2l.2-.2l.2 .5l.2-.9l.2-.1l.2 .2l.2 .6l.2-.4l.2 .5l.2 .5l.2-1.3l.2 .3l.2 .3l.2 .2l.2-.6l.2 .3l.2-.5l.2 1.1l.2-.3l.2 .4l.2-.1l.2-.5l.2 .2l.2-.1l.2-.3l.2-.1l.2 0l.2 .2l.2 0l.2 .4l.2-.5l.2 .1l.2 .5l.2-.9l.2-.2l.2 1.4l.2-1.5l.2 .2l.2 .9l.2-.8l.2-.2l.2 .3l.2-.2l.2-.3l.2-.4l.2 .4l.2-.2l.2 .2l.2-.1l.2 .6l.2-.1l.2-.6l.2 .9l.2 0l.2-1.6l.2 .3l.2 1.1l.2-.8l.2-.2l.2-.2l.2 0l.2 .4l.2-.3l.2-.4l.2-.3l.2-.1l.2 .5l.2-.7l.2 0l.2 0l.2-.1l.2-.8l.2 1.6l.2-1l.2 .3l.2-1.3l.2-.3l.2 .7l.2-.3l.2-.3l.2 1l.2-1.3l.2-.1l.2 1.4l.2-.6l.2-.8l.2 1.1l.2-.7l.2 .2l.2 .1l.2 .2l.2 .9l.2-1l.2 0l.2 0l.2 .6l.2-.3l.2 .6l.2 .6l.2 .4l.2-.9l.2 .3l.2-.2l.2 .2l.2 .5l.2-1.1l.2 .5l.2 0l.2 .1l.2 .2l.2 .4l.2-.2l.2 1.3l.2-.7l.2-.8l.2 .2l.2-.1l.2 .4l.2-.1l.2 .2l.2-.2l.2 .5l.2-.6l.2 .1l.2 .1l.2-.1l.2 0l.2 .2l.2 .1l.2-.1l.2 .1l.2-.3l.2 0l.2 .7l.2 .1l.2-.6l.2 .8l.2-.7l.2 .9l.2-.3l.2-.2l.2 .2l.2-.4l.2 .1l.2 .1l.2 .6l.2 0l.2-.4l.2 .2l.2-.4l.2 .4l.2-.3l.2 1l.2-.2l.2-.6l.2 .1l.2 1l.2-.7l.2-.5l.2 .3l.2 0l.2 .2l.2-.4l.2 .7l.2-.4l.2 1l.2-.4l.2-1l.2 .3l.2 .4l.2-.7l.2 .2l.2 1.2l.2-1l.2 0l.2 .4l.2 .1l.2-.1l.2 .3l.2-.6l.2 .8l.2 0l.2-.7l.2 .2l.2-.1l.2-.1l.2-.3l.2 .6l.2-.5l.2 .1l.2-.1l.2 .5l.2-.5l.2 .8l.2-1.1l.2 .2l.2 .4l.2 0l.2-.4l.2 1.5l.2-1.1l.2-.5l.2 .7l.2 .7l.2-.2l.2-.6l.2 0l.2 .9l.2-.8l.2 .1l.2-.7l.2 .3l.2 .4l.2-1l.2 1l.2-.2l.2 0l.2 .1l.2 .2l.2 .3l.2-1.1l.2 1l.2-.6l.2 .1l.2 .2l.2-.1l.2 .4l.2-.7l.2 .5l.2-.3l.2-.7l.2 .2l.2 1.1l.2-.6l.2 .4l.2-.2l.2-.3l.2 1.4l.2-.6l.2-1l.2 .5l.2 0l.2-1l.2 .4l.2 1.1l.2 0l.2 .1l.2-1l.2 .5l.2 0l.2-.2l.2-.1l.2 .3l.2-.9l.2-.5l.2 1.1l.2 .8l.2-1.2l.2 .2l.2 .4l.2-.5l.2 .5l.2-.3l.2 0l.2-.2l.2 .5l.2 .2l.2 .3l.2-.8l.2-.3l.2 .5l.2 .4l.2-.8l.2 .6l.2 .8l.2-.5l.2-1.1l.2 .5l.2-.5l.2 .1l.2 1.6l.2-1.1l.2-.2l.2 .4l.2-.6l.2 1.3l.2-.5l.2-.3l.2 .4l.2 0l.2-.2l.2-1l.2 .6l.2 1l.2-1.1l.2 0l.2-.1l.2 .6l.2-.4l.2-.1l.2 .8l.2-.9l.2 .8l.2-.2l.2 0l.2 .2l.2-.4l.2 0l.2 .7l.2-.8l.2 .3l.2-.3l.2-.2l.2 .5l.2-.7l.2 .9l.2 .1l.2-.2l.2-.3l.2-.5l.2 .3l.2 1.3l.2-1.5l.2 .7l.2-.2l.2 0l.2-.5l.2-.2l.2 .5l.2 .2l.2-.1l.2 .3l.2-.6l.2-.2l.2 .7l.2-.2l.2-.9l.2 1.4" fill="none" stroke="#03D403" stroke-width="3.0" stroke-linejoin="round" stroke-linecap="round"/>
<path d="M113.3 364.6l.2 .3l.2-.4l.2 .4l.2 .3l.2-.2l.2 .5l.2-.9l.2 .4l.2-.3l.2 0l.2 .3l.2 .2l.2 .1l.2 .1l.2 .8l.2-.5l.2-1l.2 .8l.2-.4l.2 .1l.2 .8l.2-.6l.2-.7l.2 1l.2-.2l.2-.3l.2 .1l.2 .2l.2 .3l.2-.1l.2 .2l.2 .8l.2-1.1l.2 0l.2 .3l.2 .6l.2-.7l.2 .9l.2-1.1l.2 .2l.2 .4l.2-.3l.2 .1l.2 .5l.2 .2l.2-.3l.2-.1l.2 .7l.2-.3l.2-.3l.2 .7l.2-.9l.2 .5l.2 .2l.2-.2l.2-.2l.2 .4l.2-.3l.2 0l.2-.2l.2 1l.2-.7l.2 .7l.2-.3l.2-.2l.2 .4l.2-.1l.2 0l.2-.6l.2 .6l.2 .4l.2-.2l.2 .3l.2 .2l.2-.4l.2 .7l.2-1.5l.2 .6l.2-.9l.2 1.4l.2-.3l.2 .7l.2-.8l.2-.7l.2 1.4l.2-1l.2 0l.2 .5l.2 .4l.2-.5l.2 .3l.2-.8l.2 1.5l.2-.7l.2 .1l.2 .2l.2-.1l.2 0l.2-.4l.2 .4l.2 .2l.2 .3l.2-.5l.2 .1l.2 .2l.2 .1l.2-.1l.2-.2l.2-.1l.2 .7l.2-.3l.2-.1l.2 1.5l.2-1.1l.2 0l.2-.2l.2-.5l.2 .9l.2-.5l.2 .1l.2 .4l.2 .1l.2-.3l.2-.1l.2 .9l.2-.6l.2-.7l.2 .8l.2-.2l.2-.1l.2 .3l.2-.1l.2 .7l.2-.7l.2 0l.2 .4l.2-.7l.2 .7l.2-.4l.2 .5l.2-.8l.2 .6l.2-.9l.2 .5l.2 .2l.2 .3l.2 .6l.2 0l.2-1.3l.2 .2l.2 .9l.2-.3l.2-.8l.2 .8l.2-.6l.2 .1l.2-.2l.2 .5l.2 1.1l.2-.8l.2-.2l.2 1.1l.2-1.2l.2 .1l.2 0l.2 .3l.2-.3l.2 .8l.2-.7l.2 .3l.2-.1l.2-.4l.2 0l.2 .4l.2-1l.2 1l.2 .1l.2 0l.2-.1l.2 .2l.2-.2l.2 .4l.2-.9l.2 1l.2-.7l.2 .6l.2-.4l.2 0l.2-.1l.2 .9l.2-1l.2 0l.2 .6l.2 0l.2-.1l.2-.4l.2 .2l.2 .7l.2-.8l.2 .7l.2 0l.2-.2l.2-.6l.2 1.4l.2-.8l.2 .1l.2-.2l.2-.3l.2 .3l.2 .2l.2-.4l.2 .4l.2 .5l.2-.3l.2-.2l.2 .5l.2-.1l.2 0l.2-.7l.2-.4l.2 1.1l.2-.3l.2-.1l.2 .3l.2-.3l.2-.1l.2 1l.2-1.4l.2 1.1l.2 0l.2 .4l.2-.6l.2 .1l.2-.6l.2 .4l.2-.9l.2 .7l.2 .2l.2 0l.2-.1l.2 .7l.2-1.2l.2 .7l.2-.2l.2 .2l.2 0l.2 .8l.2-1.2l.2 1l.2 .1l.2-.7l.2-.2l.2-.2l.2 .2l.2 1.2l.2-1.8l.2 1.1l.2-.4l.2 1.1l.2-.7l.2-.7l.2 .4l.2 .3l.2 0l.2-.5l.2 .3l.2 0l.2 .4l.2-.1l.2 0l.2-.3l.2 .5l.2-.5l.2-.1l.2 .2l.2 0l.2 0l.2-.6l.2 1.3l.2-.2l.2 .3l.2-.8l.2 .5l.2-.2l.2 0l.2 .7l.2-1l.2 .5l.2-.9l.2 .9l.2-.3l.2-.3l.2 .2l.2-.7l.2 .5l.2 .5l.2-1.1l.2 1.5l.2 0l.2-.7l.2-.3l.2 0l.2 .1l.2 .2l.2 1.2l.2-1.3l.2 .8l.2 .2l.2-.9l.2 .3l.2 .4l.2-.6l.2 .8l.2 .4l.2-.9l.2-.3l.2 .6l.2-.1l.2-.5l.2 .3l.2 .1l.2 .2l.2 .3l.2-.7l.2-.4l.2-.1l.2 1.5l.2-1l.2 .1l.2 1.2l.2-.6l.2 .5l.2-1l.2-.2l.2 0l.2 .5l.2 0l.2 0l.2 .7l.2-.3l.2-1l.2 .6l.2 .1l.2-.6l.2 1.3l.2-.6l.2 .3l.2-.9l.2-.2l.2 .8l.2-.4l.2-.2l.2 .3l.2 .1l.2 0l.2-.2l.2 .3l.2 1l.2-.7l.2-.7l.2 1.1l.2-1l.2-.5l.2 .1l.2-.3l.2 1.4l.2-1l.2-.1l.2 .4l.2 .1l.2-.4l.2 .3l.2 .2l.2 .3l.2-.7l.2 .7l.2-.1l.2 .1l.2-.5l.2-.2l.2 .9l.2-.2l.2-.5l.2 0l.2 .6l.2 .5l.2-.6l.2 .9l.2-1l.2 .1l.2 0l.2 .3l.2-1.1l.2 .7l.2 .5l.2-1.2l.2 .8l.2 .2l.2 .4l.2-.1l.2-.6l.2 .9l.2-1.4l.2-.1l.2 1.2l.2-.3l.2-.8l.2 1l.2-.1l.2-.1l.2-.5l.2-.3l.2-.2l.2 .7l.2 0l.2-.2l.2 0l.2 .7l.2-.9l.2 .2l.2 1.1l.2-1.1l.2 0l.2 .7l.2-1.2l.2 1.5l.2-1.2l.2 .2l.2-.2l.2 .1l.2 .1l.2 .7l.2-.4l.2 .6l.2-.2l.2-.9l.2 .6l.2-.3l.2 .1l.2 .2l.2 .1l.2 .1l.2-1.1l.2 .8l.2-.1l.2 1l.2-.9l.2 .1l.2 0l.2 .3l.2-.8l.2 .5l.2 0l.2 0l.2-.1l.2-.1l.2 .3l.2-.6l.2 1.2l.2-.7l.2-.7l.2 .6l.2 .6l.2-.5l.2 0l.2-.9l.2 1.6l.2-.6l.2-.9l.2 .7l.2 .8l.2-.5l.2-.7l.2 .4l.2 .3l.2 .8l.2-.8l.2 .2l.2-.4l.2 .1l.2-.4l.2-.1l.2-.1l.2 .4l.2 .8l.2-.6l.2 .5l.2-.1l.2-.3l.2-.3l.2 1.2l.2-.5l.2 .1l.2 .5l.2-.4l.2-.5l.2 0l.2 .1l.2 .7l.2-1.3l.2-.4l.2 .6l.2 .2l.2-.3l.2 .7l.2-.1l.2-.3l.2 0l.2 .8l.2 .1l.2-.2l.2-.8l.2 .6l.2-1l.2-.2l.2 1.5l.2-.4l.2-.1l.2 .3l.2 .1l.2-.5l.2 0l.2 .1l.2 .1l.2-.3l.2-.6l.2 1.6l.2-1.4l.2 .1l.2 .5l.2-.2l.2 .2l.2 .8l.2-.4l.2-.8l.2 .3l.2-.1l.2 .5l.2-.9l.2 0l.2-.3l.2 .9l.2 0l.2 .1l.2 .1l.2-.9l.2 .4l.2-.3l.2 .9l.2-.1l.2-1l.2 .9l.2-.2l.2 0l.2 .2l.2-.5l.2 .1l.2-.1l.2 0l.2-.2l.2 .9l.2-.2l.2-.3l.2-.6l.2 1.6l.2-.9l.2 0l.2 .2l.2 .5l.2-.9l.2-.8l.2 .8l.2 .2l.2-.3l.2 .9l.2-.8l.2 .3l.2-.5l.2 .7l.2-.6l.2 .6l.2-.2l.2 0l.2 0l.2-.8l.2 .5l.2 .3l.2-.3l.2 .7l.2-.1l.2-.7l.2 .8l.2-.6l.2 .3l.2 .3l.2-1l.2 .2l.2 .3l.2-.1l.2-.6l.2 1l.2-.2l.2 0l.2 .1l.2 .1l.2-.6l.2 .5l.2-.3l.2-.1l.2-.1l.2 .9l.2-1.6l.2 .7l.2 .6l.2-.4l.2-.1l.2 .7l.2-.8l.2 .2l.2 .3l.2-.4l.2 0l.2 .3l.2 .4l.2-.8l.2 .6l.2-.3l.2-.1l.2-.4l.2 1.3l.2-.5l.2-.1l.2-.3l.2 .9l.2-1l.2-.1l.2 .1l.2 .3l.2 .1l.2-1l.2 1l.2 0l.2 .3l.2-.5l.2 .7l.2 .2l.2-1l.2 .1l.2 .5l.2 .1l.2-.5l.2 .5l.2-1.2l.2 1.1l.2-.2l.2 .2l.2-.2l.2 .1l.2-.5l.2 .8l.2-1.5l.2 1l.2-.4l.2 1.1l.2-1.3l.2 .6l.2-.1l.2 .4l.2-.4l.2-.4l.2 .4l.2 .5l.2-.2l.2-.6l.2-.2l.2 0l.2 .5l.2 0l.2-.1l.2-.1l.2 .3l.2 .5l.2-.1l.2-.6l.2 .5l.2-.5l.2 .7l.2-.1l.2-.1l.2 .6l.2-.5l.2-.1l.2 .2l.2-1l.2 .3l.2 0l.2 .5l.2-.3l.2-.6l.2 .2l.2 .3l.2-.1l.2 0l.2-.5l.2 .7l.2-.6l.2 .4l.2-.1l.2 .1l.2 .8l.2-.8l.2 0l.2-.9l.2 .7l.2 .5l.2-.3l.2 .5l.2-.5l.2 .5l.2-.2l.2 .3l.2-.5l.2 .4l.2-.5l.2-.2l.2 .9l.2-1.1l.2 .2l.2 1.1l.2-.7l.2 .1l.2 0l.2-.1l.2 .8l.2-.8l.2 .6l.2-.6l.2-.3l.2 .2l.2 .1l.2 1.1l.2-1.4l.2 .5l.2-.9l.2 .9l.2-.3l.2 .2l.2-.1l.2-.2l.2 .2l.2 0l.2 .4l.2-.4l.2-.1l.2-.5l.2 1l.2-.5l.2-.3l.2 .9l.2-.1l.2-.4l.2 0l.2-.6l.2-.4l.2 1l.2-.6l.2 .9l.2-.5l.2 .3l.2-.3l.2 .4l.2 .1l.2-.3l.2 .3l.2 0l.2-.4l.2-.6l.2 1l.2-.6l.2-.1l.2-.4l.2 0l.2 1.3l.2 .2l.2-.1l.2 .2l.2-1.6l.2 1.1l.2-.9l.2 0l.2 .8l.2 .2l.2-.8l.2-.3l.2 0l.2 .6l.2 .5l.2 .4l.2-.6l.2-.6l.2-.1l.2 .5l.2 .3l.2-1.2l.2 1l.2-.4l.2 .6l.2-1l.2 1.1l.2 .2l.2 0l.2 0l.2-.6l.2 0l.2-.5l.2 .5l.2-.4l.2 .6l.2 .1l.2-.4l.2 .7l.2-1.2l.2 .3l.2 1l.2-.8l.2 .4l.2-1.4l.2 1.7l.2-.9l.2 0l.2 .7l.2-.4l.2-.8l.2 1.3l.2-.9l.2 .2l.2-.1l.2 .1l.2 0l.2 0l.2 0l.2 1.2l.2-.9l.2 .1l.2-.5l.2 1l.2-.5l.2-.2l.2-.3l.2 .6l.2-1.1l.2 .5l.2 .1l.2 .3l.2-.1l.2-.7l.2 .9l.2-.4l.2-.1l.2 .3l.2-.2l.2 0l.2 0l.2 .4l.2-.2l.2 0l.2-.3l.2 .7l.2-.4l.2-.4l.2 .8l.2-1l.2 .2l.2 .7l.2-.6l.2 .1l.2 0l.2 .1l.2 .2l.2 .1l.2-.6l.2 .1l.2-.6l.2 .6l.2 .4l.2-.2l.2 .5l.2-.6l.2 .2l.2 .3l.2-.9l.2 1.1l.2-1.2l.2 .5l.2-.7l.2 .7l.2-.3l.2 .8l.2-1.3l.2 1.1l.2-.1l.2 .1l.2 .2l.2-.1l.2-.7l.2 .6l.2-.5l.2 0l.2 .1l.2 0l.2-.1l.2 .7l.2-.4l.2-.8l.2 .4l.2 .1l.2 1.2l.2-.9l.2-.3l.2 .4l.2-1.1l.2 1.6l.2-.8l.2-.3l.2 .8l.2-.7l.2-.2l.2 .8l.2 .5l.2-1l.2 .2l.2-.1l.2 .2l.2-.3l.2 .2l.2-.4l.2 .3l.2 .4l.2-1l.2 .9l.2 .5l.2-1.1l.2 .2l.2 .2l.2-.1l.2-.4l.2 .7l.2 0l.2 .1l.2-.1l.2-.6l.2 .2l.2-.2l.2 1.3l.2-1.2l.2 .5l.2 .2l.2-.6l.2 .1l.2 .1l.2 .4l.2-1.1l.2 .6l.2 0l.2 0l.2-.5l.2 .7l.2-.2l.2-.6l.2-.1l.2 1.3l.2-1.1l.2-.4l.2 .8l.2-.6l.2 .4l.2 .2l.2-.6l.2-.2l.2 1.3l.2-1.3l.2 0l.2 .5l.2 .1l.2-.2l.2-.4l.2 .8l.2-.9l.2 .1l.2 .6l.2 .1l.2-.3l.2 .2l.2-.3l.2 .2l.2-.7l.2 0l.2 .5l.2 .1l.2-.6l.2-.2l.2 .2l.2 .5l.2-.5l.2-.1l.2-.1l.2-.1l.2 .3l.2-.4l.2 .1l.2-.2l.2-.3l.2 .3l.2 0l.2-.9l.2 .7l.2-.1l.2-.2l.2-.5l.2 .1l.2 .4l.2-.8l.2 .7l.2-.7l.2 .1l.2-1.5l.2 1.2l.2-.3l.2-1l.2 .8l.2-.9l.2-.6l.2 .7l.2-.4l.2-.6l.2-.6l.2-.4l.2-1.9l.2-.1l.2-.3l.2-1.3l.2-1.4l.2-1.4l.2-1.5l.2-1.8l.2-1.5l.2-3.1l.2-.6l.2-2.9l.2-3.7l.2-1.6l.2-2.9l.2-3.3l.2-2.9l.2-3.4l.2-3.6l.2-4.4l.2-3.7l.2-2.9l.2-2.5l.2-4.1l.2-2l.2-2.2l.2-1.5l.2-1.6l.2 .6l.2 0l.2 1.5l.2 1.3l.2 2.1l.2 3l.2 3.1l.2 2.9l.2 2.9l.2 3.9l.2 3.8l.2 3.4l.2 3.8l.2 3l.2 2.5l.2 4.1l.2 2.2l.2 2.5l.2 2.2l.2 1.6l.2 1.7l.2 2.9l.2 1.8l.2 1.7l.2 .2l.2 1.5l.2 .8l.2 1.4l.2 .2l.2 .7l.2 .3l.2 1l.2 1l.2-.5l.2 .7l.2 1.1l.2-.7l.2-.3l.2 .7l.2 1l.2-.2l.2-.2l.2 .3l.2 .9l.2-1l.2 1.3l.2-.6l.2 .5l.2-.6l.2 .2l.2 1.5l.2-1l.2-.3l.2 .7l.2-.4l.2-.1l.2 .1l.2 .2l.2 .9l.2-1.2l.2 .9l.2-.8l.2 1l.2-.4l.2 .5l.2-.3l.2 .5l.2-.1l.2 0l.2 .1l.2-.4l.2 0l.2-.1l.2 .6l.2-.1l.2-.2l.2-.3l.2 .4l.2 .3l.2 .1l.2-.5l.2 .6l.2-.8l.2 .3l.2-.2l.2 .5l.2-.4l.2 .1l.2 .7l.2 .1l.2-1.2l.2 1.2l.2-.1l.2 .1l.2-.6l.2 .8l.2-.3l.2-.8l.2-.3l.2 .4l.2 .7l.2 1.2l.2-2l.2 .8l.2-.1l.2 0l.2 .2l.2 .2l.2-.4l.2 .7l.2-.4l.2 .2l.2 0l.2-.9l.2 1.1l.2-1l.2 .4l.2-.2l.2-.2l.2 .3l.2-.6l.2 .9l.2-.3l.2-.2l.2 .4l.2 0l.2-.1l.2-.8l.2 1l.2-.1l.2 .8l.2 .1l.2-.5l.2-.2l.2-.1l.2-.3l.2 0l.2-.2l.2 .1l.2-.1l.2 .9l.2 .2l.2-1.9l.2 1.2l.2-.9l.2 .3l.2 .5l.2 0l.2 1.4l.2-1.2l.2-.5l.2-.2l.2 .8l.2-.5l.2 .2l.2-.4l.2 1l.2-.3l.2 .3l.2-.7l.2 .3l.2-.2l.2-.3l.2 .7l.2-1l.2 .5l.2-.3l.2 .6l.2-.6l.2 .5l.2-.3l.2 .2l.2 0l.2 1l.2-1.2l.2 .9l.2-.7l.2 1.4l.2-1.1l.2 .3l.2-1l.2 1.2l.2-.6l.2-.3l.2 .3l.2 .7l.2-.9l.2 .3l.2 .4l.2 0l.2-.9l.2-.2l.2 1.1l.2-.2l.2 .1l.2 .1l.2-.4l.2 .2l.2-.5l.2 .2l.2 .1l.2-.3l.2 .2l.2 .8l.2-.8l.2 .4l.2-.2l.2-.7l.2 .9l.2-1.1l.2 .9l.2-.2l.2-.3l.2 .7l.2-.5l.2 1l.2-1.6l.2 1.4l.2-.2l.2-.2l.2-.7l.2-.1l.2-.3l.2 1l.2-.2l.2 .5l.2-.3l.2 .1l.2-.9l.2 .7l.2 .2l.2 .2l.2-1.5l.2 1.6l.2-1.3l.2 .8l.2 .1l.2 .8l.2-.7l.2-.2l.2-.3l.2-.1l.2-.2l.2 .5l.2-.3l.2 .9l.2-.9l.2 .7l.2-.4l.2-.2l.2 .4l.2-.9l.2 1l.2-.2l.2-.2l.2 .3l.2 .1l.2 .2l.2-.3l.2-.3l.2 .4l.2-1l.2 1.5l.2-.8l.2 .3l.2 .5l.2-1l.2 .2l.2 .2l.2-.4l.2 .8l.2-1.2l.2 .5l.2 .4l.2-.1l.2-.3l.2 .9l.2-.1l.2-.5l.2 .3l.2-.9l.2 1l.2-.3l.2 .2l.2-.1l.2-.1l.2-.2l.2-.6l.2-.1l.2 .2l.2 .9l.2-.3l.2-.3l.2-.1l.2 .6l.2-.3l.2 .7l.2-.8l.2-.3l.2-.5l.2 .6l.2 .5l.2-.8l.2 .9l.2 0l.2-.8l.2 .7l.2-.8l.2 .7l.2-.3l.2 .5l.2-.7l.2 .3l.2 .3l.2-.4l.2 .1l.2-.2l.2 .8l.2-.4l.2 .2l.2 .1l.2-.2l.2 0l.2-.4l.2 .2l.2 .3l.2-.8l.2 .1l.2 .8l.2 .4l.2-.5l.2-.2l.2 .6l.2-.2l.2 .2l.2-.3l.2-.2l.2 .2l.2 .3l.2-.2l.2-1.1l.2 1.4l.2-.9l.2-.3l.2-.1l.2 .7l.2-1.1l.2 .4l.2 .6l.2 .2l.2 .4l.2-.6l.2-.4l.2 0l.2 .7l.2-.3l.2 .1l.2-.4l.2-.1l.2 .1l.2 .3l.2 .1l.2 .5l.2-.4l.2-.2l.2 .5l.2-1.2l.2 .3l.2 .6l.2 .1l.2-.3l.2-.7l.2 .1l.2 .7l.2 .1l.2-1.1l.2 .7l.2 .1l.2 .5l.2 0l.2-.6l.2-.2l.2 .3l.2-.2l.2-.1l.2 .6l.2-.2l.2-1.1l.2 1l.2 .3l.2-.8l.2 1.2l.2-.5l.2-.1l.2-.3l.2 .7l.2 0l.2-.8l.2-.6l.2 1.5l.2-.6l.2-.8l.2 1.3l.2-1.5l.2 .8l.2-.4l.2 0l.2 .7l.2 .9l.2-1.3l.2 .9l.2-.9l.2-.1l.2 .5l.2-.8l.2 1.4l.2-1l.2-.3l.2 .6l.2-.1l.2-.2l.2 .5l.2 .5l.2-.8l.2-.2l.2 .7l.2 .1l.2-.8l.2 .3l.2-.3l.2-.3l.2 1l.2-.1l.2 .4l.2 .1l.2-1.9l.2 .6l.2 .5l.2 .8l.2-.8l.2 .4l.2-.7l.2 .9l.2 0l.2 0l.2-.2l.2-.5l.2 .9l.2-1.1l.2 0l.2 0l.2 .4l.2 .5l.2-.5l.2 .2l.2-.3l.2 .3l.2-.2l.2-.6l.2 1.7l.2-.8l.2 0l.2-.1l.2-.5l.2 .2l.2 .3l.2 .3l.2-.4l.2-.4l.2 .1l.2-.3l.2 .3l.2 0l.2-.1l.2 .4l.2 .7l.2-1.1l.2-.4l.2 .3l.2 .8l.2-.9l.2 .9l.2 0l.2-.6l.2-.5l.2 .8l.2-.6l.2 .4l.2 .8l.2-.7l.2-.9l.2 .8l.2-.5l.2 1.3l.2-.7l.2-.4l.2 .4l.2-.2l.2-.3l.2-.2l.2 .6l.2-.3l.2 .2l.2 .3l.2 .3l.2-.8l.2 .4l.2-.6l.2-.4l.2 1.3l.2 .2l.2-.9l.2-.2l.2-.2l.2 .5l.2 .5l.2-.2l.2-.7l.2 .7l.2-.8l.2 .5l.2 .3l.2 0l.2-1l.2 .5l.2 .3l.2 .2l.2-.4l.2 .5l.2 .3l.2-1.2l.2 .7l.2 .9l.2-.9l.2-.1l.2 .5l.2-.1l.2-.3l.2-1.1l.2 1l.2 .1l.2 .1l.2 .4l.2-1.3l.2 .2l.2 .5l.2 .3l.2-.6l.2-.1l.2 .5l.2-.1l.2 .3l.2-.4l.2 .2l.2-.9l.2 .9l.2 0l.2-.3l.2-.4l.2 1.1l.2-.2l.2-.5l.2 .4l.2 .4l.2-.9l.2 .7l.2-.3l.2-.4l.2 0l.2 .6l.2-.1l.2-.2l.2-.6l.2 .1l.2 .2l.2-.6l.2-.1l.2 .3l.2 .5l.2 0l.2-.3l.2 .3l.2 .4l.2-1.2l.2 .8l.2-.6l.2 .8l.2-1.5l.2 .9l.2-1l.2 .7l.2-.1l.2-.2l.2 .4l.2-.9l.2 .3l.2 .3l.2-.6l.2 .3l.2-.4l.2 0l.2-.6l.2-.3l.2 .2l.2 .6l.2-.6l.2-.5l.2-.2l.2 .6l.2-.3l.2-.5l.2 .1l.2-.3l.2 .4l.2-1.1l.2 .4l.2 .1l.2 0l.2-.6l.2 .1l.2 .6l.2 .4l.2-1.1l.2 .3l.2 .6l.2-.6l.2 .3l.2 .1l.2-.5l.2 .9l.2-.9l.2-.3l.2 .5l.2 0l.2-1l.2 .2l.2-.4l.2 .1l.2-.8l.2 .4l.2 .2l.2-1l.2-.1l.2-.2l.2-.8l.2 .3l.2-.4l.2-.4l.2 .6l.2-1.1l.2-.2l.2-1.2l.2 1.2l.2-.4l.2 .3l.2-.9l.2 .2l.2 0l.2 .7l.2-.3l.2-1l.2 1.8l.2-.3l.2-.4l.2-.1l.2 .4l.2-.2l.2 .8l.2 .8l.2-.1l.2 0l.2 .8l.2 .3l.2 .2l.2 .4l.2 .6l.2-.1l.2 .5l.2 .1l.2-.2l.2 .5l.2-.1l.2 0l.2 .5l.2 .2l.2 .2l.2-.1l.2-.6l.2 .7l.2 .2l.2 .2l.2-.1l.2-.2l.2 .1l.2 .5l.2-.1l.2-.3l.2 .1l.2 0l.2-.2l.2 .3l.2-.1l.2 .5l.2-.6l.2 .3l.2 .6l.2 0l.2-.5l.2 .2l.2 .3l.2 .4l.2 .3l.2-.2l.2 .8l.2-.2l.2-.9l.2 .6l.2 .6l.2 .2l.2-.6l.2 .1l.2 .2l.2 .2l.2-.5l.2 .6l.2 .4l.2-.3l.2 .3l.2-.6l.2 .7l.2-.5l.2 .4l.2 .1l.2-.7l.2 .1l.2 .8l.2-.1l.2 0l.2-.5l.2 .7l.2-.1l.2-.6l.2-.1l.2 .8l.2-.3l.2-.4l.2 .2l.2-.2l.2 .6l.2-.2l.2 .4l.2-.2l.2-.1l.2 .5l.2-.6l.2-.4l.2 .4l.2-.3l.2 .7l.2 .4l.2-1l.2 .2l.2-.4l.2 1.2l.2 .1l.2-.5l.2 .4l.2-.1l.2-.8l.2 .2l.2 0l.2 .5l.2-1l.2 .1l.2 .6l.2-.4l.2-.3l.2 .2l.2 .7l.2 .4l.2-.7l.2 .6l.2-1.1l.2 .5l.2 .2l.2-.4l.2 .2l.2 1.1l.2-1.7l.2 0l.2 .7l.2 .3l.2-1l.2 .3l.2 .2l.2 .1l.2-.6l.2 .9l.2-.1l.2-.3l.2-.6l.2 1.3l.2-.6l.2-.5l.2 .8l.2 .2l.2-.9l.2 .7l.2-.4l.2 .2l.2 .2l.2-.6l.2 .6l.2 .3l.2-.6l.2 .3l.2-.3l.2 0l.2 .6l.2-.8l.2 .2l.2 1.1l.2-1.1l.2 .1l.2 0l.2-.1l.2 0l.2 .6l.2-1.1l.2-.3l.2 1l.2-.3l.2 0l.2 .2l.2-.1l.2-.3l.2 .3l.2 0l.2-.3l.2 .4l.2 .6l.2-.4l.2 .5l.2-.8l.2 .3l.2-.2l.2-.3l.2-.1l.2-.3l.2 1l.2-.4l.2 .2l.2-.6l.2-.1l.2 .2l.2 .9l.2 .2l.2 .3l.2-.9l.2-.1l.2-.6l.2-.1l.2 .6l.2 .1l.2 0l.2-.4l.2 .4l.2 .2l.2 0l.2 .6l.2-1.3l.2 .6l.2-.3l.2-.1l.2 .4l.2-.7l.2 1.2l.2-.5l.2 .4l.2-.4l.2 .7l.2-1.1l.2 0l.2 1.3l.2-.6l.2 .2l.2-.5l.2-.2l.2 .1l.2 .6l.2-.3l.2-.2l.2-.9l.2 1.1l.2 .1l.2 .4l.2-.8l.2-.7l.2 .4l.2 .8l.2-.2l.2 0l.2-.2l.2-.2l.2 0l.2 .1l.2 .3l.2-.8l.2 1.2l.2 0l.2-1l.2-.1l.2 1.2l.2-.4l.2-.5l.2-.2l.2 1l.2-.3l.2-.2l.2 .6l.2-1.1l.2 .2l.2-.2l.2 .5l.2-1l.2 .8l.2-.3l.2 .2l.2-.2l.2-.7l.2 1.3l.2 .3l.2-.1l.2-.8l.2 .4l.2 .2l.2-.4l.2-.4l.2 .7l.2 0l.2-.3l.2 .7l.2-.9l.2 .5l.2-.1l.2 .5l.2-.4l.2-.5l.2-.3l.2 .8l.2-.6l.2 1l.2-.2l.2-.3l.2-.2l.2 .1l.2 .6l.2-.4l.2-.7l.2 .3l.2 .5l.2-.5l.2 1l.2-1.2l.2 .8l.2-.4l.2 .7l.2-.3l.2-.3l.2 .1l.2-.2l.2-.6l.2 .6l.2-.1l.2 .1l.2-.2l.2-.4l.2 .7l.2-.3l.2 .6l.2 0l.2-.9l.2 .6l.2-.1l.2 .1l.2-.3l.2 0l.2 .8l.2-.4l.2-.7l.2 .1l.2 .5l.2-.3l.2 .1l.2-.1l.2 .6l.2 0l.2-.1l.2-.2l.2-.1l.2-.5l.2 1.4l.2-.7l.2-.3l.2 1l.2-1.3l.2 .3l.2 0l.2-.1l.2 .3l.2-.2l.2 .1l.2-.1l.2 .3l.2-.3l.2-.2l.2 .8l.2-1.1l.2 1l.2 .2l.2-.6l.2-.3l.2 .4l.2-.2l.2-.1l.2 .8l.2-.2l.2-1.3l.2 .3l.2 .4l.2 1.2l.2-1.3l.2 .1l.2 .7l.2-.4l.2-.6l.2 1.4l.2-.4l.2-.6l.2 .3l.2-.2l.2 .1l.2 .1l.2-.3l.2 1.2l.2-1.1l.2-.2l.2 .8l.2-.8l.2 .5l.2 .3l.2-.9l.2-.1l.2 1.1l.2-.6l.2-.9l.2 .4l.2 .6l.2 .2l.2-.6l.2-.2l.2 .9l.2-.6l.2-.4l.2 1.7l.2-.6l.2-.4l.2 .3l.2-.6l.2 .2l.2-.1l.2 .4l.2-.2l.2-.1l.2-.5l.2 .3l.2 .4l.2-.2l.2 0l.2 .7l.2-.1l.2-1.1l.2 .8l.2-.7l.2 .4l.2 .5l.2-.5l.2 .8l.2-.8l.2 .4l.2-.7l.2 0l.2 .1l.2-.4l.2 .3l.2-.4l.2 .6l.2-.3l.2 .3l.2 .5l.2-.2l.2-.2l.2-.3l.2-.1l.2-.3l.2 .9l.2-.3l.2 .2l.2-1.2l.2 .8l.2-.8l.2 .7l.2-.1l.2 .3l.2 .3l.2-.7l.2 .7l.2 0l.2-.4l.2 0l.2-.1l.2 .3l.2-.5l.2 .5l.2-.1l.2-.2l.2 0l.2 .1l.2-.4l.2 .5l.2-.4l.2 .4l.2-.6l.2 1l.2-.3l.2-.7l.2 0l.2 .1l.2 .2l.2-.1l.2-.5l.2 .4l.2-.9l.2 .8l.2-.1l.2 0l.2 .5l.2-.1l.2 0l.2-.4l.2 0l.2-.6l.2 .9l.2-.5l.2-.2l.2 .2l.2-.6l.2 .5l.2-.4l.2-.5l.2 .8l.2-.8l.2 0l.2 .1l.2-.2l.2-.6l.2-.4l.2 .5l.2-.6l.2-.1l.2-.3l.2-.4l.2 1l.2-2.3l.2 .8l.2-1l.2-.8l.2 .2l.2-.9l.2-.9l.2-.6l.2-.7l.2-.5l.2-.5l.2-.8l.2-1.1l.2-.8l.2-.4l.2 0l.2-1.5l.2-.1l.2-1.4l.2 .8l.2-.6l.2 .7l.2-1.3l.2 .9l.2 .5l.2 .1l.2-.5l.2 2l.2 .3l.2 .7l.2 0l.2 1.1l.2 .9l.2 .5l.2 1.4l.2-.1l.2 .3l.2 .9l.2-.1l.2 1.2l.2 1.5l.2-.5l.2 .5l.2 .2l.2 .9l.2 .4l.2 .6l.2-1.1l.2 1.6l.2-.7l.2 .9l.2 .1l.2 .1l.2-.2l.2 1.3l.2-1.1l.2-.1l.2 1.4l.2-.3l.2-.2l.2 .5l.2-.6l.2 .8l.2 0l.2-.9l.2 .5l.2-.1l.2 .2l.2-.3l.2 .8l.2-.8l.2 .7l.2 .2l.2-.6l.2-.2l.2 .6l.2 .3l.2-.3l.2-.2l.2-.5l.2 .7l.2 .1l.2 .1l.2 .7l.2-.9l.2 0l.2-.5l.2 .8l.2-.6l.2 1.4l.2-1.4l.2 .3l.2-.4l.2 .9l.2-.2l.2-.7l.2 .4l.2 1.2l.2-.7l.2-.1l.2-.2l.2 0l.2-.5l.2 .5l.2 .7l.2-.4l.2 .3l.2-.1l.2-.6l.2-.1l.2 .4l.2-.2l.2-.3l.2 .1l.2 .7l.2-1l.2 0l.2 .6l.2 .4l.2-.3l.2 .3l.2-.5l.2 .2l.2 .2l.2 .3l.2 0l.2-.4l.2 .2l.2-.5l.2-.3l.2 .2l.2 0l.2-.7l.2 .8l.2 .3l.2-.1l.2-.2l.2 .2l.2 .1l.2 .1l.2 .2l.2-1l.2 .2l.2 1.4l.2-.4l.2-.6l.2 .4l.2 0l.2-.2l.2 .3l.2-.4l.2-.1l.2-.4l.2 .6l.2 1l.2-.7l.2-.8l.2 .4l.2 .4l.2 .2l.2-.3l.2-.7l.2-.1l.2 .3l.2-.2l.2 0l.2 .4l.2 0l.2 .2l.2-.6l.2 .1l.2 .7l.2-.6l.2 .4l.2-.2l.2-.5l.2 .6l.2-.8l.2 .3l.2-.2l.2 .4l.2 .9l.2-1.6l.2 1.5l.2 0l.2-1.1l.2 .9l.2-.3l.2-.3l.2 1.1l.2-.6l.2-1l.2 .6l.2 .5l.2 0l.2-.6l.2 .1l.2-.1l.2 0l.2 0l.2 0l.2 0l.2-.3l.2 .5l.2-.6l.2 .6l.2 0l.2 .4l.2-.2l.2-.6l.2 .7l.2-.6l.2 .1l.2 .1l.2 .4l.2-.5l.2 .6l.2-.2l.2-.4l.2 .4l.2-.8l.2 .1l.2 .7l.2-.7l.2-.2l.2 1.2l.2-.3l.2-.6l.2 .5l.2 .1l.2-.5l.2-.1l.2-.3l.2 .8l.2-.4l.2 0l.2 .1l.2 .1l.2 0l.2-.7l.2 1.2l.2-.2l.2-.2l.2-.3l.2-.1l.2 .6l.2-.4l.2-.4l.2 .5l.2-.2l.2 .1l.2-.4l.2 .2l.2 .4l.2 0l.2 .3l.2-.4l.2-.1l.2 .5l.2-1l.2 .1l.2 .4l.2 .5l.2-.9l.2-.1l.2 .5l.2-.1l.2-.1l.2 .6l.2-.6l.2 .7l.2-.2l.2-.9l.2 .9l.2-.2l.2 .1l.2-1.2l.2 1.2l.2-.3l.2-.2l.2 .4l.2-1.2l.2 1.2l.2-.3l.2-.1l.2-.4l.2-.6l.2 .4l.2 1.4l.2-1.7l.2-.1l.2 1.1l.2-.6l.2-.4l.2 0l.2 .2l.2 0l.2-.1l.2-.4l.2-.4l.2 0l.2-.4l.2 .4l.2-.2l.2-.3l.2-.5l.2 0l.2-.2l.2-.1l.2-.6l.2 0l.2-.6l.2-.4l.2 1.2l.2-1.4l.2-.5l.2-.2l.2 .6l.2-.8l.2-.6l.2 .2l.2-.4l.2 0l.2-.3l.2-.8l.2 .8l.2-.5l.2 0l.2 .2l.2-.4l.2 .3l.2-.4l.2 0l.2 .8l.2 0l.2-.1l.2 .3l.2-.4l.2 .2l.2 .3l.2 .5l.2 .7l.2 .1l.2 .3l.2-.6l.2 1.1l.2 .4l.2-.1l.2 .8l.2-.4l.2 .9l.2-.7l.2-.2l.2-.3l.2 .6l.2 .3l.2 .3l.2-1.4l.2 .4l.2 1l.2 .2l.2-.2l.2-.3l.2 .2l.2-1.4l.2 .8l.2 .2l.2 0l.2-.4l.2-1.2l.2 .8l.2-.8l.2 .4l.2-.7l.2-.5l.2-.1l.2 .5l.2-.3l.2-1.7l.2 .5l.2-.7l.2-.2l.2 .2l.2-.2l.2-.3l.2-.6l.2 .1l.2-.3l.2-.3l.2 0l.2 .7l.2-.6l.2-.2l.2 1.4l.2-.3l.2 .8l.2-.7l.2 .5l.2 .5l.2 1l.2 0l.2 .6l.2 0l.2 1.1l.2-.6l.2 .7l.2-.8l.2 .4l.2 1l.2-.3l.2 .5l.2 .8l.2 .1l.2 .2l.2 0l.2 .3l.2 .3l.2 .8l.2-1l.2 1.6l.2-1.2l.2 0l.2 .5l.2 0l.2 .7l.2-.7l.2 1l.2-.6l.2 1.1l.2-1.2l.2 .3l.2 0l.2 .3l.2-.7l.2 .2l.2 0l.2 1.1l.2-.3l.2 .1l.2 0l.2-.2l.2-.6l.2 0l.2-.2l.2 .9l.2-.6l.2 .8l.2 .2l.2-.1l.2-.8l.2 .8l.2-.6l.2 .3l.2 .2l.2-.7l.2 .4l.2 .1l.2 .7l.2-.3l.2-.7l.2 .5l.2-.1l.2-.2l.2 0l.2 .4l.2 .2l.2-.5l.2 .1l.2-.2l.2 .1l.2 .2l.2-.7l.2 .3l.2 0l.2 0l.2 .4l.2-.6l.2 1.2l.2-.4l.2-.2l.2-.6l.2-.5l.2 .7l.2 .1l.2 1l.2-1.1l.2 .3l.2 0l.2 .2l.2-.3l.2-.3l.2 .7l.2-1.2l.2 1.5l.2-.5l.2 0l.2 .2l.2-.2l.2-.5l.2 .6l.2-1.1l.2 1.1l.2 .2l.2 0l.2-.1l.2 .1l.2-.4l.2 0l.2 .7l.2 .1l.2-.5l.2-.1l.2 0l.2 .4l.2-.1l.2 .1l.2-.6l.2 .3l.2 .1l.2 0l.2 0l.2 .5l.2-.5l.2-.2l.2-.5l.2 1l.2-.1l.2-.7l.2 .6l.2-.5l.2-.1l.2 .5l.2-.1l.2 .8l.2-1l.2-.1l.2-.5l.2 .5l.2-.1l.2-.1l.2 .3l.2 .3l.2 0l.2 .2l.2-.7l.2 .2l.2-.1l.2 .2l.2 .2l.2-1.1l.2 1.2l.2 .2l.2-.8l.2 .6l.2-.7l.2 .3l.2-.4l.2 .3l.2 .3l.2-.4l.2 .3l.2 .4l.2-1l.2 .6l.2-.3l.2 .4l.2 0l.2 .1l.2 .1l.2-.2l.2 0l.2 .1l.2-.1l.2-.6l.2 .6l.2 .1l.2-1l.2 1.4l.2-.4l.2-.6l.2 .5l.2 .2l.2-.1l.2 0l.2-.7l.2 .6l.2 .5l.2-.3l.2-.7l.2 .6l.2 .3l.2 .3l.2-1.2l.2 .1l.2 0l.2 .9l.2 0l.2-.5l.2 .7l.2-1.5l.2 .7l.2-.2l.2 .6l.2-.3l.2 .6l.2-1.1l.2 .3l.2 .5l.2 .6l.2-.9l.2 .3l.2 .1l.2-.1l.2 .3l.2-.3l.2 .3l.2 0l.2-1l.2 .1l.2 .8l.2-1.2l.2 .8l.2 .3l.2-.3l.2 0l.2 .5l.2-1.1l.2 .1l.2 1.2l.2-1.4l.2 .4l.2 .8l.2-1.2l.2 1.2l.2-.6l.2 .3l.2-.3l.2 .5l.2 .1l.2 .1l.2-.1l.2-.5l.2 0l.2 0l.2-.5l.2 0l.2 .7l.2 0l.2-.6l.2 .4l.2-.7l.2-.2l.2 .9l.2 .2l.2-.8l.2 1l.2 .3l.2-.7l.2 .9l.2-1.8l.2 .5l.2-.1l.2-.2l.2 .8l.2-.7l.2-.3l.2 1.1l.2 .8l.2-.9l.2-.5l.2 .8l.2-.4l.2-.1l.2 0l.2 0l.2-.1l.2 0l.2-.2l.2-.3l.2 .3l.2 .2l.2 .5l.2-.3l.2 .3l.2-.3l.2 .1l.2-.9l.2 1.4l.2-.3l.2-.7l.2 .2l.2 .8l.2-.8l.2 .2l.2-.6l.2 .5l.2-.2l.2 .1l.2-.5l.2 .8l.2-.9l.2 .8l.2-.7l.2 .9l.2 .6l.2-.8l.2 .5l.2-1.6l.2 1.1l.2-.8l.2 .6l.2 .3l.2-1l.2 .7l.2-.6l.2 .3l.2-.2l.2 .7l.2-.4l.2-.1l.2 .3l.2-.1l.2 .1l.2-.3l.2 .2l.2-.2l.2 .1l.2 .1l.2-.2l.2 .1l.2 .1l.2-.5l.2 0l.2 .4l.2-.2l.2-.3l.2 .7l.2-.8l.2 .3l.2 .8l.2-1l.2 .3l.2-.3l.2 .4l.2 .3l.2-.1l.2-.2l.2-.6l.2 .8l.2-.9l.2 .6l.2-.7l.2 .1l.2-.6l.2 .7l.2 .6l.2-.1l.2-.6l.2 0l.2-.8l.2-.3l.2 .2l.2 .1l.2 0l.2 .1l.2-.9l.2 .3l.2-.3l.2-.2l.2-.2l.2 0l.2-.1l.2-.2l.2-.8l.2 .3l.2-.5l.2 .8l.2-.4l.2-.8l.2-.1l.2 .8l.2 .1l.2-.4l.2-.6l.2-.8l.2 .5l.2 0l.2 .2l.2-.9l.2 .2l.2 0l.2 .4l.2-.6l.2 .2l.2 .2l.2 .3l.2-.2l.2 1.3l.2-.5l.2 .3l.2-.1l.2 .9l.2-1.1l.2 .2l.2 .8l.2 0l.2 .3l.2 .2l.2-.8l.2 1.3l.2-.8l.2 .6l.2 .5l.2-.9l.2 1l.2-.2l.2 .4l.2 .9l.2-1l.2-.2l.2 .1l.2 .8l.2 .3l.2-.9l.2 .9l.2 0l.2 .5l.2-1.2l.2 .6l.2 .5l.2 .2l.2-.4l.2 .3l.2 0l.2-.3l.2 0l.2 0l.2 .4l.2 .3l.2 .6l.2-.3l.2-.5l.2-.3l.2 .7l.2-.5l.2 0l.2 .7l.2 .1l.2-.4l.2-.8l.2 1.3l.2 .2l.2-.6l.2-.4l.2 .7l.2-.3l.2-.1l.2 .8l.2-1l.2 .2l.2 0l.2-.2l.2 .4l.2 .7l.2-1.1l.2 .2l.2 .9l.2-1l.2-.1l.2-.6l.2 1l.2 .3l.2-.2l.2-.1l.2-.5l.2 .2l.2 .5l.2 0l.2-.3l.2-.4l.2-.2l.2 .4l.2 .3l.2-.2l.2 .3l.2 .3l.2-.4l.2 .1l.2-.3l.2 .4l.2-1.4l.2 .4l.2 .8l.2-.2l.2 .1l.2-.8l.2 1l.2-.5l.2 .4l.2 .2l.2 .3l.2 .3l.2-1.3l.2 .3l.2 .2l.2-.5l.2 1l.2-.6l.2 0l.2-.7l.2 1l.2 .1l.2 .6l.2-.7l.2-.8l.2 1l.2-.6l.2 .6l.2 .3l.2-.8l.2 .2l.2 0l.2-.3l.2 1.3l.2-1.5l.2 .4l.2 .4l.2 .1l.2-.6l.2 .1l.2-.2l.2 0l.2 0l.2 0l.2 0l.2 .2l.2 .5l.2-.9l.2 .6l.2-.9l.2 .9l.2 .5l.2-.5l.2-.3l.2 .4l.2 0l.2-.1l.2 .1l.2-1l.2 .4l.2-.5l.2 .7l.2-.3l.2 .9l.2-1.1l.2 1.5l.2-.8l.2-.5l.2 .8l.2-.6l.2-.3l.2 .2l.2 .3l.2 .5l.2-.3l.2-.6l.2 .7l.2-.7l.2 .8l.2-.2l.2-.5l.2 .4l.2 .3l.2-.9l.2 .7l.2-.1l.2-.1l.2 0l.2-.5l.2 1.5l.2-1.8l.2 1.8l.2 .2l.2-1.5l.2 .5l.2-.4l.2 .5l.2-.2l.2-.3l.2 .4l.2-.1l.2 .6l.2-1.3l.2 .6l.2 0l.2 0l.2 .2l.2-.1l.2-.3l.2 .1l.2 .9l.2-1l.2 .4l.2 .4l.2-1.4l.2 .4l.2 .8l.2 0l.2-.1l.2 .3l.2-.3l.2 .3l.2-.9l.2 .3l.2 0l.2-.1l.2-.2l.2-.1l.2 .9l.2-.3l.2 .7l.2-.6l.2 .3l.2-.9l.2 0l.2 .2l.2 .2l.2-.5l.2 .5l.2 0l.2 0l.2-.5l.2 .8l.2-.8l.2 1.1l.2-1.3l.2 .4l.2-.1l.2 0l.2 .3l.2-.4l.2 .5l.2 .3l.2-.5l.2-.1l.2 .7l.2 0l.2-.8l.2 .3l.2 .6l.2-1.3l.2 1l.2 0l.2-.2l.2-.9l.2 1l.2 0l.2-.4l.2 .1l.2 .3l.2-.5l.2 0l.2 .4l.2-.5l.2 .8l.2-.4l.2-.7l.2 .6l.2 1l.2-1.1l.2 .5l.2-.2l.2-.8l.2-.3l.2 1l.2-.3l.2-.2l.2 .2l.2 .2l.2-.1l.2-.4l.2-.5l.2 1l.2-.6l.2-.1l.2 .8l.2-.4l.2-.3l.2 0l.2-.2l.2 .1l.2-.2l.2-.3l.2 .7l.2-.9l.2 .4l.2-.5l.2 .3l.2-.2l.2-.1l.2 0l.2 .7l.2-.9l.2-.6l.2 .3l.2-.1l.2-.1l.2 .3l.2 .3l.2-.5l.2 .1l.2 .4l.2 0l.2 0l.2 .4l.2-.3l.2-.6l.2 .7l.2 0l.2 .4l.2-.6l.2-.1l.2 1.2l.2-1.4l.2 1.5l.2-1.1l.2 .4l.2-.5l.2 .8l.2-.4l.2 .2l.2 .2l.2 .1l.2-.6l.2 1.3l.2-1.2l.2-.1l.2 .3l.2 .3l.2-.5l.2 .4l.2 .3l.2-.3l.2 .3l.2-.7l.2 .3l.2 .8l.2-.5l.2-.7l.2 1.6l.2-1.2l.2 .1l.2 .2l.2 0l.2 .5l.2-.5l.2-.3l.2 .9l.2-.5l.2-.1l.2-.4l.2 .3l.2-.4l.2 .5l.2 .2l.2-.5l.2-.4l.2 0l.2 1l.2-1.2l.2 .1l.2 .5l.2-.8l.2 1.1l.2-.4l.2-.6l.2-.4l.2 .2l.2 .4l.2 .1l.2-1l.2 .6l.2 .3l.2-.6l.2-.5l.2 .1l.2 .3l.2-.4l.2-.1l.2 .4l.2-.5l.2-.1l.2 .5l.2 0l.2-1.1l.2 .7l.2 1.1l.2 .5l.2-1.2l.2 .8l.2 .5l.2-.9l.2 0l.2 .3l.2 .5l.2 .3l.2-.6l.2 .2l.2 .4l.2 0l.2 .2l.2-1l.2 .9l.2-.3l.2 .7l.2-.4l.2-.4l.2 0l.2 .4l.2 .5l.2 .1l.2-.9l.2 .7l.2-.4l.2 .5l.2-.2l.2-.9l.2 1l.2 .3l.2-.6l.2 .4l.2 .7l.2-1l.2 .6l.2-.4l.2 .3l.2-.1l.2 0l.2 .1l.2 0l.2 .1l.2-.3l.2-.7l.2 .8l.2 .6l.2-.1l.2-.2l.2-.1l.2-.3l.2 .5l.2-.1l.2 .2l.2-.4l.2 .1l.2 .3l.2-.7l.2 .9l.2-.3l.2-.1l.2-.3l.2-.2l.2 .4l.2-.5l.2-.1l.2 .8l.2-.1l.2-.2l.2 .4l.2-1l.2 .6l.2-.2l.2 .2l.2-.3l.2 .6l.2 .2l.2-.3l.2 .1l.2 .2l.2-.2l.2-.6l.2 .6l.2 .2l.2 .1l.2-.1l.2-.5l.2-.8l.2 .7l.2 .4l.2 .3l.2 .1l.2-.5l.2 .7l.2-1.2l.2 0l.2 1.1l.2 .1l.2-.7l.2 .1l.2 .4l.2-.6l.2 .2l.2 .7l.2-1.3l.2-.8l.2 1.4l.2 .3l.2-.1l.2 .2l.2 .2l.2-.5l.2 .2l.2-.6l.2-.4l.2 1.3l.2-.8l.2-.7l.2 1.4l.2-.6l.2-.2l.2 .2l.2 .4l.2-.2l.2-.4l.2 .2l.2-.3l.2 1.6l.2-1.6l.2 .6l.2-.6l.2-.2l.2 .3l.2 .2l.2 .4l.2-.1l.2 .1l.2-.6l.2 .2l.2 .6l.2-.1l.2 .1l.2-1.1l.2 .1l.2 .3l.2 0l.2 .2l.2-.6l.2 .1l.2-.1l.2 1l.2-.5l.2-.7l.2 1l.2-.1l.2 .1l.2-.8l.2-.1l.2 .4l.2-.3l.2-.3l.2 .9l.2-.3l.2-.4l.2 .9l.2-.3l.2 .2l.2 .1l.2-.4l.2 0l.2 .1l.2-.1l.2 0l.2-.6l.2 .5l.2-.3l.2-.1l.2 .4l.2 .1l.2-.5l.2 .5l.2 .2l.2-.9l.2 .6l.2 .2l.2 .8l.2-1.3l.2 .4l.2-.1l.2-.2l.2 .3l.2-.3l.2 .2l.2 0l.2-.1l.2-.7l.2 .4l.2 .8l.2-.7l.2-.4l.2 .1l.2 .9l.2-1l.2 .2l.2-.5l.2 .2l.2 .4l.2-.3l.2 .6l.2 0l.2-.6l.2 .3l.2-1l.2 .4l.2-.4l.2 .3l.2 .2l.2 0l.2-.1l.2-.4l.2 .3l.2 .5l.2-.6l.2-.7l.2 .2l.2 .2l.2 .3l.2-.8l.2-.5l.2 1.1l.2-.1l.2-.5l.2-.6l.2 .5l.2-1l.2 .6l.2 .5l.2-.9l.2-.3l.2 .5l.2 .4l.2-.9l.2-.1l.2 .5l.2 .4l.2-.8l.2 .7l.2-.6l.2-.4l.2 .4l.2-.4l.2-.1l.2 1.4l.2-.4l.2-.1l.2-.2l.2 .8l.2-1.1l.2 .2l.2 .3l.2 .7l.2 .2l.2-.4l.2 .5l.2 .2l.2-.1l.2-.1l.2-.3l.2 .5l.2-.2l.2 1l.2-1.2l.2 .5l.2 .5l.2-1.2l.2 .6l.2 .2l.2-.7l.2 .2l.2-.4l.2 .7l.2-.2l.2 .6l.2-.6l.2 .4l.2-.5l.2 .5l.2-.8l.2 .9l.2-.2l.2-.1l.2 .2l.2-.5l.2 .4l.2-.1l.2 .4l.2 0l.2 0l.2 .1l.2-.5l.2 1l.2 .4l.2-.1l.2-.7l.2 .7l.2 .4l.2-.7l.2 0l.2 .3l.2 .3l.2-1.2l.2 1.3l.2-.5l.2 .2l.2-.1l.2-.6l.2 .3l.2 .1l.2-.2l.2-.2l.2 .8l.2 .8l.2-1.1l.2-.1l.2 .3l.2 1.2l.2-1.2l.2 .2l.2-.4l.2 .9l.2-.9l.2 .1l.2 .2l.2-.3l.2 0l.2 .2l.2 .7l.2 .4l.2-1.1l.2 .5l.2 0l.2-.6l.2 0l.2 .6l.2-.4l.2-.2l.2 .6l.2-.6l.2 .6l.2-.7l.2 1.2l.2-.9l.2-.3l.2 .2l.2 .5l.2-.4l.2-.2l.2 .3l.2 .2l.2 .1l.2 .4l.2-1.1l.2 .5l.2 .4l.2-.5l.2 1.2l.2-2l.2 1l.2-.1l.2 .8l.2-1l.2 .5l.2-.4l.2 .5l.2-.7l.2-.1l.2 .2l.2-.3l.2 .5l.2-.4l.2 .1l.2 .8l.2-1l.2 .4l.2 .5l.2-.5l.2 .2l.2-.2l.2 .3l.2 .4l.2-.4l.2 .4l.2 .2l.2-1.1l.2 .4l.2-.1l.2-.1l.2 .7l.2-1.3l.2 1.1l.2-1.2l.2 .8l.2 .2l.2-.1l.2 .2l.2 .6l.2-1.6l.2 .5l.2 .6l.2-.4l.2 .6l.2-.5l.2-.1l.2-.3l.2 .4l.2 .2l.2-.9l.2 .3l.2 .6l.2-.8l.2 .6l.2 0l.2 0l.2 .1l.2 0l.2-.3l.2 1.1l.2 .1l.2-.7l.2 .1l.2-.2l.2-.6l.2 1.6l.2-1.1l.2-.3l.2 .1l.2 .6l.2 .1l.2 .2l.2-.9l.2 .3l.2-.8l.2 .7l.2 0l.2 .3l.2-.6l.2 .4l.2-.2l.2 .5l.2-1.4l.2 .7l.2 .1l.2-.2l.2 .7l.2 .5l.2-1.1l.2 .5l.2 0l.2-.5l.2-.5l.2 .7l.2-.1l.2 .3l.2 .2l.2-.3l.2-.1l.2-.4l.2 1l.2-.8l.2 .4l.2-.2l.2-.6l.2 .1l.2 .7l.2 0l.2 .8l.2-1.1l.2-.1l.2 1.5l.2-1.2l.2 0l.2-.7l.2 1.3l.2-.2l.2-.8l.2 .5l.2-.3l.2 .4l.2-1.2l.2 1.4l.2-.4l.2-.2l.2 .1l.2-.3l.2-.1l.2 .7l.2-.8l.2 0l.2 .6l.2 .3" fill="none" stroke="#06C3C3" stroke-width="3.0" stroke-linejoin="round" stroke-linecap="round"/>
<path d="M113.9 461.1l.2 0l.2 .7l.2-1l.2 .8l.2-.7l.2 1.2l.2-.3l.2 .4l.2-.6l.2 .3l.2-.2l.2-.1l.2 .3l.2-.4l.2 .3l.2 .4l.2-.2l.2-.1l.2 .9l.2-.7l.2-.2l.2 .3l.2-.2l.2 .1l.2 0l.2 .9l.2-.7l.2 .1l.2 .2l.2 .5l.2-.8l.2-.1l.2 1.1l.2-1.3l.2 .4l.2 .4l.2 .5l.2-1l.2-.5l.2 1.1l.2-.4l.2 .1l.2 .3l.2-.1l.2 .1l.2-.2l.2 .6l.2 .1l.2-.5l.2-.2l.2 .5l.2-.1l.2-.5l.2 .2l.2 .6l.2-.4l.2 0l.2 .2l.2-.1l.2 0l.2-.6l.2 1.3l.2-.5l.2-.4l.2 .7l.2-.2l.2-.1l.2 .4l.2 .4l.2-.5l.2 .3l.2 .2l.2-1l.2 .2l.2 .4l.2-.8l.2 .5l.2 .6l.2-.1l.2-.1l.2-.8l.2 1.4l.2-.6l.2 .1l.2 0l.2-.8l.2 .1l.2 .1l.2 1.1l.2-.9l.2 .2l.2 0l.2 .3l.2 0l.2 0l.2-.5l.2-.6l.2 1.1l.2 .1l.2 .3l.2-.4l.2-.2l.2 .4l.2-.7l.2 .2l.2 .1l.2 .4l.2 .6l.2-.4l.2 .2l.2-.3l.2 0l.2-.2l.2 0l.2-.7l.2 .5l.2 0l.2 .7l.2 0l.2 .1l.2 .2l.2-.6l.2 .5l.2 .3l.2-.7l.2 .4l.2-.4l.2-.5l.2 .6l.2-.3l.2 .4l.2-.2l.2 .3l.2-.8l.2 1.4l.2-.2l.2-.6l.2-.2l.2 .4l.2 .2l.2-.1l.2 0l.2-.8l.2 .3l.2 .9l.2-.4l.2-.5l.2 .2l.2-.2l.2 .2l.2 .7l.2-.4l.2 .4l.2-.3l.2-.5l.2 .3l.2 1l.2-1l.2-.1l.2 .8l.2-.4l.2 0l.2 .5l.2-1.1l.2 .8l.2-.5l.2-.1l.2 .2l.2 .7l.2-.5l.2-.5l.2 .2l.2 1l.2-.2l.2-.7l.2 1.2l.2-.9l.2-.3l.2 .4l.2 .3l.2 .3l.2-.2l.2-.5l.2 0l.2-.3l.2 .5l.2-.2l.2 .3l.2-.5l.2 .3l.2-.1l.2-.1l.2 0l.2 0l.2 0l.2 .6l.2-.1l.2-.5l.2 .6l.2 0l.2 .4l.2-.6l.2 0l.2-.1l.2 .3l.2 .1l.2-.1l.2-.1l.2 .3l.2-.2l.2 .1l.2-.4l.2 .4l.2-.4l.2 0l.2 .4l.2 .7l.2-.4l.2-.3l.2-.1l.2 .4l.2 .2l.2-.1l.2-.5l.2 .2l.2-.2l.2 0l.2-.1l.2 .2l.2-.7l.2 .4l.2 .5l.2-.4l.2 .5l.2-.6l.2 .3l.2 .3l.2-.5l.2 .1l.2 1.1l.2-1.1l.2 0l.2 .1l.2 .2l.2 0l.2 .4l.2-.1l.2-.4l.2 0l.2-.3l.2-.1l.2 .3l.2 .5l.2-.2l.2 .3l.2 0l.2-.3l.2 .8l.2-1l.2 0l.2 .1l.2 .5l.2-.4l.2-.2l.2 .4l.2 .3l.2-.4l.2-.1l.2 .5l.2 0l.2 0l.2-.6l.2 .3l.2 .1l.2-.8l.2 1.1l.2-.4l.2-.1l.2 .9l.2-.8l.2-.3l.2 .3l.2 .2l.2 .1l.2-.3l.2-.3l.2 .1l.2 0l.2-.1l.2 .4l.2-.2l.2 .2l.2-.3l.2 0l.2 .2l.2 0l.2 .5l.2-.7l.2 .4l.2-.1l.2-.4l.2 .7l.2-.2l.2-.8l.2 1l.2 .1l.2-.6l.2 .9l.2-.6l.2-.4l.2 .6l.2-.3l.2-.4l.2-.2l.2 .8l.2-.3l.2 .5l.2-.1l.2-.3l.2 0l.2 .8l.2 0l.2-.4l.2-.3l.2-.3l.2 .3l.2 .7l.2-.4l.2-.3l.2-.3l.2 .5l.2-.4l.2 .3l.2 .3l.2 .1l.2-.3l.2-.2l.2 .2l.2 .6l.2-.5l.2-.6l.2 1l.2-.4l.2 1.1l.2-1.4l.2 .2l.2-.1l.2 .2l.2-.3l.2-.3l.2-.1l.2 .6l.2-.1l.2-.1l.2 1l.2-.5l.2 .1l.2-.5l.2 .3l.2-.2l.2 0l.2 .3l.2 0l.2-.1l.2-.1l.2-.5l.2 .2l.2 .4l.2-.2l.2-.2l.2 .4l.2-.4l.2 .1l.2 .5l.2-.4l.2 .6l.2-.3l.2 .1l.2 .1l.2-1.1l.2 .7l.2-.4l.2 .3l.2 .1l.2 .5l.2-.4l.2 .6l.2-.8l.2 .2l.2 0l.2 .3l.2-.3l.2-.2l.2 .1l.2-.4l.2 1l.2-.2l.2-.1l.2-.1l.2-.3l.2 .1l.2 .4l.2-.5l.2 0l.2 .8l.2 0l.2-.4l.2 .1l.2-.2l.2 .5l.2-.7l.2 .2l.2 .2l.2 .3l.2-.6l.2 .2l.2-.3l.2 0l.2 0l.2 .2l.2 .3l.2-.5l.2 0l.2 .1l.2 .3l.2 .1l.2-.7l.2 .6l.2-.5l.2 .6l.2-.6l.2 0l.2 .1l.2 .2l.2-.3l.2 .4l.2 0l.2 0l.2 .1l.2 .2l.2-.6l.2 .3l.2 0l.2-.7l.2 .8l.2-.4l.2 .1l.2 .1l.2 .1l.2 .1l.2 .1l.2-.4l.2 .5l.2-.1l.2-.3l.2 .1l.2 .3l.2-.1l.2 .1l.2-.2l.2 .3l.2 .4l.2-.6l.2-.7l.2 1.1l.2-.7l.2-.3l.2-.3l.2 .9l.2 .2l.2 0l.2-.5l.2 .7l.2-.5l.2-.2l.2 .2l.2 .1l.2-.1l.2 .1l.2-.9l.2 1.3l.2-.7l.2 .4l.2-.5l.2 .4l.2-.2l.2-.4l.2 .6l.2 .1l.2-.6l.2-.3l.2 .5l.2-.1l.2 .4l.2-.1l.2 .6l.2-.3l.2-.4l.2 .2l.2-1l.2 .6l.2 0l.2 .3l.2 .2l.2-.1l.2 .3l.2-.6l.2 .4l.2-.2l.2 .1l.2 .1l.2-.2l.2 .1l.2 0l.2 .3l.2-.4l.2 .2l.2 .8l.2-.7l.2 0l.2 .2l.2-.8l.2 .6l.2 0l.2-.1l.2 .2l.2 0l.2 .1l.2-.6l.2 .3l.2-.3l.2 .6l.2-.3l.2-.5l.2 .4l.2-.3l.2 .6l.2-.4l.2-.6l.2 .6l.2 .5l.2-.3l.2-.3l.2 .4l.2 0l.2 .3l.2-.2l.2-.1l.2-.4l.2 .3l.2 0l.2-.1l.2 .2l.2-.6l.2 .6l.2-.1l.2 .1l.2-.2l.2 0l.2 .1l.2 .2l.2-.4l.2 .3l.2-.4l.2 .4l.2-.1l.2-.5l.2 .9l.2-.7l.2 .3l.2-.5l.2-.1l.2 .8l.2-.7l.2-.2l.2 .6l.2-.4l.2 .4l.2 .7l.2-.7l.2 .2l.2 .1l.2-.1l.2-.1l.2 .5l.2-.5l.2 .1l.2-.1l.2-.4l.2 .5l.2-.1l.2 .2l.2 0l.2 .3l.2-1.1l.2 .4l.2 0l.2-.1l.2 .5l.2-.2l.2 .1l.2-.6l.2 .2l.2 .3l.2-.1l.2-.1l.2 .2l.2-.1l.2-.2l.2 .9l.2-.8l.2 .4l.2 0l.2 .2l.2-.6l.2-.1l.2 .5l.2-.1l.2-.9l.2 0l.2 .7l.2 0l.2 0l.2 .3l.2-.5l.2 1.2l.2-.6l.2 .2l.2-.4l.2-.8l.2 .8l.2-.2l.2 .3l.2-.2l.2 .3l.2-.5l.2 .1l.2 .2l.2-.3l.2 .1l.2 .4l.2 .4l.2-.7l.2 .3l.2-.6l.2 .2l.2 .3l.2 .1l.2-.6l.2 .6l.2-.2l.2 .4l.2-.1l.2-.1l.2-.4l.2 .3l.2-.4l.2 0l.2-.3l.2 .1l.2 0l.2 .4l.2 .1l.2-.5l.2 .4l.2 .2l.2 .2l.2-.4l.2 .2l.2-.2l.2 .4l.2-.8l.2 .6l.2-.9l.2 1.4l.2-.3l.2-1l.2 .5l.2-.3l.2-.1l.2 .5l.2-.2l.2 .6l.2-.5l.2-.2l.2 .4l.2 .1l.2 .2l.2-.1l.2-.7l.2 .2l.2 .2l.2-.2l.2 .5l.2-.3l.2 .1l.2-.1l.2 .1l.2-.5l.2 1.2l.2-.9l.2 0l.2-.4l.2 .6l.2-.5l.2 .6l.2 .3l.2-.2l.2-.3l.2 .5l.2-.5l.2 .1l.2 0l.2-.2l.2 .3l.2-.5l.2-.2l.2 1l.2-.6l.2 .1l.2 .2l.2-.2l.2-.3l.2 .3l.2-.2l.2 .5l.2-.3l.2 0l.2 .4l.2-.8l.2 0l.2 .8l.2 .1l.2-.4l.2-.2l.2 .6l.2-.2l.2 .2l.2-1l.2 .6l.2-.3l.2-.1l.2 .6l.2 .1l.2-.4l.2 0l.2 .6l.2-.3l.2-.2l.2 .2l.2-.1l.2-.5l.2 .2l.2 .3l.2 .1l.2-.6l.2 .2l.2 0l.2-.3l.2 .9l.2-.2l.2 .3l.2-1.2l.2 .5l.2 .8l.2-1l.2-.2l.2 .7l.2 .4l.2-.3l.2-.5l.2 .5l.2 0l.2-.1l.2 .1l.2 .1l.2 .1l.2 .1l.2-.1l.2-.4l.2-.6l.2 .8l.2-.7l.2 1.3l.2-1.2l.2-.2l.2 0l.2 .8l.2-.1l.2 .1l.2-.1l.2-.3l.2 .5l.2-.5l.2-.3l.2 .8l.2-.1l.2-.5l.2 .2l.2 .5l.2-.1l.2-.6l.2 .7l.2-1.2l.2 .9l.2 .1l.2-.2l.2 .1l.2-.6l.2 .5l.2 .2l.2-.5l.2 .4l.2-.1l.2-.7l.2 .5l.2 .4l.2-.7l.2 .5l.2 .1l.2-.5l.2 .3l.2 .4l.2 0l.2-.6l.2 .7l.2-.3l.2 0l.2 .4l.2-.2l.2-.2l.2 .2l.2-.1l.2 .2l.2-.4l.2-.6l.2 1.1l.2-.2l.2-.1l.2-.2l.2 0l.2 0l.2-.3l.2 .6l.2-.3l.2-.3l.2 .4l.2-.2l.2 .1l.2 .2l.2 .7l.2-1.3l.2 .5l.2 .1l.2-.1l.2 .4l.2-.6l.2 0l.2 .1l.2-.5l.2 .9l.2-.8l.2 .6l.2 .2l.2-.7l.2 .2l.2 0l.2 .7l.2-.5l.2-.7l.2 .9l.2 0l.2-1l.2-.2l.2 1.8l.2-.9l.2-.7l.2 1l.2 .2l.2-1.3l.2 1.2l.2-.2l.2-.2l.2-.3l.2 .4l.2-.4l.2 .3l.2-.1l.2-.1l.2 .3l.2 .2l.2 0l.2-.2l.2 .4l.2-1l.2 .5l.2 0l.2 .4l.2-1.2l.2 .6l.2 0l.2 .2l.2 .7l.2-.7l.2-.1l.2 .2l.2 .2l.2-.4l.2 .6l.2-1l.2 .8l.2-.2l.2 .1l.2 .2l.2-.6l.2 .2l.2 0l.2-.3l.2-.1l.2 0l.2 .6l.2-1.1l.2 .3l.2 .5l.2 .4l.2-.5l.2 .5l.2-.5l.2-.1l.2-.4l.2 .6l.2 .5l.2-.5l.2-.4l.2 .5l.2-.6l.2 0l.2 .8l.2-.3l.2 .2l.2-.2l.2-.1l.2 0l.2-.1l.2 .4l.2-.8l.2-.2l.2 .4l.2 .6l.2-.5l.2-.6l.2 1.7l.2-1.3l.2 .2l.2 .3l.2-.1l.2-.2l.2-.4l.2 .6l.2-.5l.2 .3l.2 .3l.2-.4l.2-.5l.2 .4l.2 .4l.2 0l.2-.7l.2 .5l.2 .1l.2 .2l.2-.2l.2-.1l.2-.2l.2 .2l.2 .1l.2-.3l.2-.1l.2 .7l.2-.6l.2-.3l.2 .5l.2-.7l.2 .1l.2 .6l.2-.3l.2 .2l.2 0l.2-.5l.2 .4l.2-.4l.2 .2l.2 0l.2-.1l.2-.5l.2 .5l.2-.1l.2 .1l.2-.5l.2 .3l.2-.1l.2-.1l.2 0l.2-.1l.2-.4l.2 .2l.2 0l.2 .3l.2-.3l.2 .5l.2-.4l.2-.1l.2-.1l.2-.7l.2 .5l.2 .3l.2-.9l.2 .7l.2-.3l.2-.3l.2-.3l.2 0l.2-.4l.2 .1l.2-.1l.2-.2l.2-.6l.2 .5l.2-.8l.2 .1l.2-.2l.2-.6l.2 .5l.2-1.3l.2-.4l.2-.8l.2-.5l.2-1.3l.2-.3l.2-1.3l.2-1.3l.2-.9l.2-1.5l.2-2.2l.2-2.2l.2-2.5l.2-2l.2-2.2l.2-2.8l.2-3.8l.2-2.9l.2-3.1l.2-4.3l.2-3.7l.2-4l.2-3.3l.2-4.5l.2-3l.2-3l.2-2.9l.2-1.9l.2-1.6l.2-1.2l.2-.2l.2 .8l.2 2.1l.2 2l.2 2.8l.2 2.9l.2 4.2l.2 3.6l.2 3.8l.2 3.2l.2 5l.2 3.1l.2 2.9l.2 4l.2 2.7l.2 2.7l.2 2.6l.2 2.9l.2 2.1l.2 1.9l.2 1.6l.2 1.3l.2 1.8l.2 1l.2 1.1l.2 1.1l.2 1.2l.2-.1l.2 1.1l.2-.1l.2 1l.2 .3l.2 .2l.2 .3l.2 0l.2 .4l.2 .6l.2 .1l.2 .7l.2-.9l.2 .3l.2 .3l.2 .1l.2 0l.2 .1l.2 .2l.2 .6l.2-.4l.2-.1l.2 .4l.2-.9l.2 .7l.2 .1l.2 .4l.2-.8l.2 .7l.2-.2l.2 .7l.2 0l.2-.3l.2 .3l.2-.5l.2 .5l.2 .1l.2 .3l.2-.5l.2-.5l.2 1l.2-.6l.2 .2l.2 .1l.2 .7l.2-.6l.2 .5l.2-.4l.2-.4l.2 .6l.2 0l.2-.3l.2-.3l.2 1.5l.2-.3l.2-.5l.2 0l.2 .2l.2-.1l.2-.7l.2 0l.2 .8l.2 .2l.2-.1l.2-.1l.2-.3l.2 .3l.2 .2l.2-.4l.2 .2l.2 0l.2-.7l.2 .6l.2-.7l.2-.1l.2 .8l.2-1.1l.2 .4l.2 .3l.2-.2l.2-.3l.2-.2l.2 .4l.2 0l.2-.1l.2-.3l.2-.1l.2 .5l.2 .1l.2 .3l.2-.3l.2 .5l.2-.6l.2-.1l.2 .9l.2-.4l.2-.1l.2 .3l.2-.3l.2 .3l.2-.3l.2 .6l.2-.3l.2 .2l.2 .1l.2 .1l.2-.7l.2 .7l.2-.2l.2-.2l.2 .3l.2 .2l.2 0l.2 .5l.2-.7l.2 .1l.2 .6l.2-.8l.2-.1l.2 .2l.2-.1l.2 .2l.2 .1l.2-.3l.2-.1l.2 .3l.2-.4l.2 .2l.2 .4l.2-.2l.2-.3l.2-.1l.2 .1l.2-.1l.2 .7l.2 0l.2-.1l.2 0l.2-.3l.2 .2l.2 0l.2 0l.2-.2l.2-.1l.2 .4l.2 0l.2-.5l.2 .3l.2 .1l.2 .2l.2-.7l.2 .1l.2 0l.2 0l.2 .1l.2 .6l.2-.6l.2 1l.2-.6l.2 .2l.2-.3l.2 .3l.2-.1l.2 .1l.2-.1l.2 .1l.2-.1l.2 .2l.2-.3l.2-.2l.2 .7l.2-.7l.2 .3l.2 .6l.2-.9l.2 .1l.2-.1l.2-.1l.2 .5l.2-.3l.2 .1l.2-.6l.2 .7l.2-.3l.2-.4l.2 .4l.2-.3l.2 1l.2-1.1l.2 .7l.2-.4l.2 0l.2-.1l.2 .8l.2-.8l.2 .2l.2 .3l.2-.2l.2 .3l.2-.4l.2-.3l.2 .7l.2 .2l.2-.2l.2-.5l.2 .7l.2-.1l.2-.4l.2 .3l.2-.2l.2 .1l.2 .1l.2 .1l.2-.2l.2-.1l.2-.8l.2 .6l.2 .4l.2-.4l.2 .4l.2-.2l.2 .1l.2 0l.2 .4l.2-.3l.2-.2l.2-.4l.2 .6l.2-.5l.2 .7l.2-.6l.2 0l.2 .2l.2-.3l.2 .5l.2-.1l.2-.3l.2 .1l.2 .7l.2-.2l.2-.2l.2-.1l.2 .4l.2-.6l.2 .1l.2 0l.2-.3l.2 .1l.2 .9l.2-.6l.2-.3l.2 .2l.2-.1l.2 0l.2 .1l.2-.4l.2-.1l.2 .5l.2 0l.2-.3l.2 .3l.2-.1l.2 .2l.2-.1l.2 .4l.2 .1l.2-.2l.2-.2l.2 .2l.2 0l.2-.1l.2 .1l.2-.4l.2 .4l.2-.1l.2 0l.2-.2l.2-.1l.2 .4l.2-.4l.2-.2l.2 .9l.2-.1l.2-.7l.2 .7l.2-1.1l.2 .9l.2 0l.2-.1l.2-.2l.2 .3l.2-.1l.2-.5l.2 .1l.2 .6l.2-.1l.2-.6l.2-.1l.2 .6l.2-.4l.2 0l.2 .1l.2 .3l.2-.8l.2 .9l.2-.3l.2 .4l.2-.7l.2 .1l.2 .4l.2 .2l.2-.3l.2-.1l.2 .5l.2-.1l.2-.2l.2-.2l.2 .5l.2-.2l.2-.3l.2 .6l.2-.1l.2-.3l.2 0l.2 .1l.2-.4l.2-.2l.2 .8l.2-.9l.2 0l.2 0l.2 .7l.2 .1l.2-.5l.2 .6l.2 .1l.2-.1l.2-.8l.2 .8l.2 .3l.2-1l.2-.2l.2 .9l.2-.2l.2-.2l.2 0l.2-.6l.2 .3l.2 .4l.2 .1l.2 .1l.2 0l.2-.5l.2 .2l.2 .5l.2-.9l.2 .6l.2-.5l.2 .4l.2 .5l.2-.5l.2-.2l.2-.1l.2-.3l.2 .5l.2-.7l.2 .7l.2 0l.2-.3l.2 0l.2 .7l.2 0l.2 .3l.2-.3l.2-.3l.2-.2l.2 .5l.2-.2l.2-.1l.2 .5l.2-.6l.2 .1l.2 .3l.2-.2l.2-.2l.2 .3l.2 .6l.2-1l.2 .3l.2-.1l.2 0l.2 .5l.2-.6l.2 .6l.2-.9l.2 .4l.2-.4l.2 .4l.2 .1l.2 0l.2-.1l.2-.2l.2-.3l.2 .7l.2-.3l.2 .4l.2-.9l.2 .4l.2-.4l.2 .9l.2-.6l.2-.1l.2 .6l.2-.3l.2 .1l.2-.1l.2 .4l.2-.3l.2 0l.2-.1l.2 .3l.2 .1l.2-.5l.2 .4l.2-.8l.2 .2l.2 .1l.2 0l.2 .4l.2-.6l.2-.1l.2 .6l.2-.4l.2 .3l.2 0l.2-.2l.2 .1l.2 .4l.2-.3l.2 0l.2 .2l.2-.4l.2-.2l.2 .3l.2 .6l.2-.3l.2 .5l.2-.4l.2 0l.2-.5l.2-.3l.2-.2l.2 .7l.2-.4l.2 0l.2 .6l.2-.1l.2-.5l.2 .5l.2 .3l.2-.1l.2-.5l.2 .5l.2-1l.2 .6l.2-.1l.2 .6l.2-.8l.2 .1l.2 .2l.2 .3l.2-.7l.2 .6l.2-.2l.2-.1l.2-.2l.2 .5l.2-.1l.2 .1l.2-.1l.2-.1l.2-.2l.2 .3l.2 .2l.2-.2l.2 .1l.2 .2l.2-.2l.2-.2l.2-.3l.2 .8l.2-.5l.2 0l.2 .1l.2 .2l.2 0l.2-.5l.2 .2l.2 .4l.2-.6l.2 .3l.2-.3l.2-.2l.2 0l.2 .5l.2 0l.2-.9l.2 .7l.2 .1l.2-.5l.2 .5l.2-.2l.2 .7l.2-.8l.2 .6l.2-.7l.2 .1l.2 .8l.2-.8l.2 .2l.2-.4l.2 .5l.2 .4l.2-.5l.2 0l.2 .1l.2-.3l.2-.2l.2 .5l.2-.2l.2-.4l.2-.3l.2 1l.2-.6l.2 .6l.2 .1l.2-.3l.2-.2l.2-.7l.2 1.4l.2-.2l.2-.6l.2-.1l.2 .5l.2-.8l.2 .8l.2 .1l.2-.7l.2 0l.2 .9l.2-.7l.2 .2l.2-.2l.2-.6l.2 1l.2 .1l.2-.7l.2-.2l.2 .8l.2-1.1l.2 .4l.2-.5l.2-.1l.2 .2l.2-.7l.2 .3l.2 .4l.2-.4l.2-.3l.2 1.1l.2-.7l.2-.6l.2 .3l.2-.3l.2-.3l.2 0l.2-.6l.2-.2l.2 .6l.2-.7l.2 .3l.2-1.2l.2 .3l.2-.1l.2 .4l.2-.1l.2 .4l.2 0l.2-.1l.2 .3l.2 .2l.2 0l.2-.8l.2 .8l.2 .4l.2-.2l.2 .7l.2-.6l.2 .2l.2-.2l.2 .2l.2 .4l.2 .1l.2-.3l.2-.1l.2-.3l.2-.6l.2 .5l.2-.7l.2 .1l.2-.4l.2 .1l.2-.8l.2 .1l.2-.6l.2 .1l.2-1l.2-.4l.2-1l.2 .4l.2-.7l.2-1.2l.2 .4l.2-.4l.2-.6l.2 .2l.2-.7l.2-.2l.2 .1l.2-.5l.2 .6l.2-.3l.2 .6l.2 .6l.2-.1l.2 .3l.2 1.2l.2-.1l.2 .8l.2 .2l.2 .4l.2 .8l.2-.1l.2-.2l.2 .8l.2 .2l.2 .1l.2 .4l.2 .5l.2 .2l.2 0l.2 0l.2 .1l.2-.1l.2-.2l.2 .3l.2 .2l.2-.6l.2 .1l.2 .1l.2-.7l.2 .3l.2-.2l.2 .1l.2-.8l.2 0l.2 .6l.2 .1l.2-.6l.2 .3l.2-.6l.2 .6l.2-.1l.2 .3l.2-.4l.2 .7l.2 .4l.2 .4l.2 0l.2 .3l.2 .4l.2 .5l.2-.8l.2 0l.2 .8l.2 .7l.2 .3l.2-.3l.2-.4l.2 .7l.2-.3l.2 .5l.2-.2l.2 .7l.2-.8l.2 .9l.2-.7l.2 .5l.2-.1l.2-.5l.2-.1l.2 .6l.2-.1l.2 0l.2 .4l.2-.1l.2 .1l.2-.5l.2 .3l.2 0l.2 .4l.2 .1l.2-.5l.2 .1l.2-.7l.2 1.4l.2-.5l.2 .1l.2-.1l.2-.1l.2-.6l.2 .3l.2 .1l.2 .2l.2-.3l.2 .4l.2 .2l.2-.2l.2 0l.2 .8l.2-1.1l.2 .1l.2 .5l.2-.4l.2 .7l.2-.8l.2 .2l.2 .6l.2-1.1l.2 .9l.2-.3l.2 0l.2 .4l.2-.6l.2 .4l.2-.4l.2 .6l.2-.8l.2 .3l.2-.1l.2-.2l.2 .7l.2-.5l.2 .4l.2-1l.2 .4l.2 .1l.2 .4l.2-.6l.2 .6l.2 .2l.2-.3l.2 0l.2-.1l.2-.2l.2 .3l.2 .1l.2 .4l.2-.4l.2-.3l.2 .5l.2-.6l.2-.4l.2 .6l.2-.1l.2 .4l.2-.2l.2-.4l.2 .2l.2 .1l.2 .8l.2-1.1l.2 .1l.2 .7l.2 .1l.2-.6l.2 .6l.2-.5l.2-.3l.2 .3l.2 .3l.2 .2l.2-.5l.2-.4l.2 .5l.2-.2l.2-.1l.2 .4l.2-.1l.2-.5l.2 .2l.2 .7l.2-.5l.2 .7l.2-1.4l.2 .4l.2 .4l.2-.4l.2 .4l.2 0l.2-.5l.2 1.1l.2-.1l.2-1.1l.2 .5l.2-.4l.2 .3l.2 0l.2 .1l.2 .4l.2 .1l.2-.5l.2 .2l.2 .1l.2-.8l.2 .6l.2-.4l.2 .8l.2 0l.2-.3l.2 .4l.2-.6l.2-.2l.2 .7l.2-.4l.2 .1l.2-.6l.2 .7l.2-.3l.2 0l.2-.3l.2 .1l.2 .1l.2 .2l.2 .4l.2-1l.2 .1l.2 .2l.2 0l.2 0l.2-.1l.2 .2l.2 .3l.2-.3l.2-.1l.2 .5l.2-.2l.2-.3l.2 .7l.2-.6l.2-.1l.2 .4l.2-.4l.2-.1l.2 .8l.2-.6l.2-.1l.2 .3l.2-.1l.2-.6l.2 .5l.2 .3l.2-.3l.2 .3l.2-.5l.2 .7l.2-.4l.2-.2l.2-.1l.2 .7l.2-.3l.2-.1l.2 .2l.2-.2l.2 0l.2 .2l.2-.3l.2 .5l.2 .5l.2-1.4l.2 .6l.2-.2l.2 .4l.2-.9l.2 1.4l.2-.4l.2 .4l.2-.3l.2-.8l.2 .3l.2 .6l.2-.1l.2-.7l.2 .4l.2 .4l.2-.1l.2-.5l.2 .2l.2 .1l.2-.3l.2 0l.2 .4l.2-.3l.2 0l.2 .4l.2 0l.2-.2l.2-.3l.2-.2l.2-.1l.2 .2l.2 .3l.2-.5l.2 .1l.2 0l.2 .4l.2-.2l.2 .6l.2-.1l.2-.4l.2 0l.2 .4l.2-.7l.2 .6l.2-.7l.2 .3l.2 .2l.2-.1l.2-.5l.2 .2l.2 .3l.2-.5l.2 1.1l.2-.8l.2 .2l.2 .9l.2-1l.2 .2l.2 .1l.2-.2l.2-.3l.2-.2l.2 .6l.2-.2l.2 .5l.2-.3l.2 .1l.2-.5l.2 .2l.2 .2l.2-.2l.2 .3l.2-.3l.2 0l.2 .2l.2-.5l.2 1.3l.2-1.3l.2 .9l.2 0l.2-.6l.2 .2l.2 .2l.2-.2l.2 .1l.2-.3l.2 .3l.2-.4l.2-.2l.2 .3l.2 .3l.2-.1l.2 0l.2-.2l.2 .1l.2-.3l.2 .3l.2 0l.2-.3l.2 .8l.2-1.2l.2 .9l.2-.3l.2 .4l.2-.5l.2 .5l.2-.6l.2 0l.2 .2l.2 .1l.2-.3l.2 .7l.2-.8l.2 .3l.2 .1l.2-.1l.2 .4l.2-.6l.2 .6l.2 .1l.2-.4l.2 .6l.2-1.2l.2 .4l.2-.3l.2-.6l.2 .3l.2 .9l.2-.5l.2-.4l.2 .8l.2-.5l.2 .3l.2 0l.2 .6l.2-1.2l.2 .8l.2 1.1l.2-1.1l.2 .1l.2-.2l.2 .3l.2-.1l.2 .1l.2-.6l.2 .3l.2 .2l.2-.2l.2 .2l.2 .2l.2 .1l.2-.4l.2 .1l.2-.3l.2 0l.2 .4l.2-.7l.2 .8l.2-.7l.2 .3l.2-.2l.2-.1l.2 .5l.2-.8l.2 1.1l.2-1l.2 .8l.2-.4l.2 0l.2 .2l.2 .3l.2-.3l.2-.3l.2 .2l.2 .3l.2-.7l.2 .5l.2 .3l.2-.6l.2 .1l.2 .4l.2-.5l.2 .2l.2-.1l.2 .1l.2-.4l.2-.2l.2 .9l.2-.6l.2-.1l.2 .6l.2-.5l.2 .1l.2-.3l.2 .3l.2 .2l.2 .2l.2-.1l.2-.6l.2 .3l.2 .3l.2-.5l.2-.1l.2 .2l.2 .5l.2-.8l.2 .7l.2-.1l.2-.4l.2-.2l.2 .3l.2-.1l.2-.1l.2 .3l.2 .7l.2-.5l.2 .1l.2-.4l.2 .4l.2-.7l.2 .3l.2 .3l.2 .4l.2-.6l.2-.2l.2-.1l.2-.3l.2 .5l.2 .3l.2-.3l.2-.3l.2-.1l.2-.3l.2 .8l.2-.5l.2 .3l.2-.7l.2 .5l.2-.1l.2-.3l.2-.2l.2 1l.2-.4l.2-.2l.2-.8l.2 .6l.2-.4l.2 .3l.2-.8l.2-.2l.2-.5l.2-.4l.2-.3l.2 .1l.2-.1l.2 .1l.2-.2l.2-1.3l.2-1.1l.2 .3l.2-.5l.2-.9l.2-.9l.2-.6l.2-.5l.2-.8l.2-1.5l.2-.4l.2-1.1l.2-.9l.2-.5l.2-1.1l.2-.4l.2-1.5l.2 .5l.2-.5l.2-.4l.2-.1l.2-.1l.2 .5l.2 1.5l.2 .2l.2 .5l.2 .6l.2 .9l.2 .7l.2 1.4l.2 1.1l.2 .1l.2 1.4l.2 .4l.2 1l.2 .3l.2 1.2l.2 .9l.2-.2l.2 .6l.2 .8l.2-.1l.2 .1l.2-.1l.2 1l.2 .8l.2-.4l.2 .4l.2-.7l.2 .9l.2 .2l.2 0l.2 .1l.2-.1l.2 .2l.2 .8l.2-.8l.2 .9l.2-.8l.2 .9l.2-.4l.2 .3l.2-.2l.2 .3l.2 .6l.2-1.5l.2 .6l.2 .4l.2 .4l.2-1l.2 .5l.2 .3l.2-.4l.2 .2l.2 .1l.2 .3l.2-.2l.2 0l.2-.4l.2 .1l.2 1l.2-1.2l.2 .3l.2-.1l.2 .3l.2-.3l.2 .5l.2-.5l.2 .1l.2-.3l.2 .4l.2-.4l.2 .4l.2 .3l.2-.7l.2 1.2l.2-.4l.2-.2l.2-.1l.2 .4l.2-.2l.2-.2l.2 .2l.2 0l.2-.4l.2 .8l.2-.9l.2 .6l.2-.5l.2 .3l.2 0l.2 .1l.2 .5l.2-.7l.2 .4l.2-.1l.2 0l.2-.5l.2 .4l.2-.6l.2 1l.2 .1l.2-.4l.2 .1l.2-.2l.2-.6l.2 .5l.2 .4l.2-.3l.2-.3l.2-.7l.2 1.4l.2 .2l.2 0l.2 .3l.2-1.6l.2 .7l.2 .3l.2-.5l.2 .3l.2 .3l.2-.6l.2 .5l.2-.6l.2-.5l.2 .9l.2 .1l.2 0l.2 .1l.2-.6l.2 .6l.2-1.3l.2 1.1l.2-.5l.2 .5l.2-.5l.2 .5l.2 .3l.2 0l.2-.5l.2 .6l.2-.3l.2 .3l.2-.5l.2-.3l.2 .4l.2-.4l.2 0l.2-.4l.2 .8l.2 .4l.2-.8l.2 .3l.2-.5l.2 .7l.2 .2l.2-.4l.2 .3l.2 0l.2-.3l.2 .3l.2-.8l.2 .5l.2 .1l.2 .2l.2 .2l.2-.5l.2-.2l.2 .1l.2 0l.2-.2l.2-.1l.2 .6l.2-.6l.2 .4l.2 .1l.2-.1l.2 .4l.2-.2l.2-.1l.2 .5l.2-.7l.2-.3l.2 .3l.2 .5l.2-.7l.2 0l.2 .5l.2 .7l.2-1l.2 .5l.2 .2l.2-.7l.2-.1l.2 .1l.2-.1l.2 .2l.2-.4l.2 .3l.2 .1l.2 .7l.2-1.2l.2 .5l.2-.3l.2 .3l.2-.1l.2-.2l.2 .2l.2-.2l.2 .4l.2 .2l.2-.1l.2-.2l.2 .2l.2-.3l.2 .2l.2 .8l.2-.8l.2 .6l.2-.5l.2-.4l.2 .3l.2-.5l.2 .5l.2 .3l.2-.3l.2 .1l.2-.2l.2-.2l.2-.5l.2 .8l.2 .1l.2 0l.2-.4l.2 .3l.2 0l.2 0l.2-.4l.2-.2l.2-.3l.2 .5l.2 0l.2-.2l.2 .4l.2-.5l.2 .5l.2 .4l.2-.6l.2-.5l.2 .5l.2-.2l.2 .2l.2-.1l.2-.1l.2 .3l.2 .2l.2-.4l.2 .1l.2-.6l.2 1.2l.2-1l.2 .2l.2-.5l.2 .6l.2-.5l.2 .3l.2-.2l.2 0l.2 0l.2-.3l.2 .2l.2-.2l.2 0l.2-.1l.2-.3l.2 .4l.2 0l.2-.2l.2-.7l.2 .6l.2-.1l.2-1l.2 .8l.2-1.3l.2 .7l.2-.1l.2 0l.2-.2l.2-.6l.2-.1l.2 0l.2-.2l.2-.8l.2-.2l.2-1l.2-.1l.2 .4l.2-.7l.2-.8l.2 0l.2-.8l.2 .3l.2 .1l.2-1.1l.2 .4l.2 .1l.2-.3l.2 .1l.2-.2l.2 0l.2 .5l.2-.5l.2 .8l.2-.2l.2 .5l.2 1l.2-.3l.2 .2l.2 .8l.2-.3l.2 .4l.2 .4l.2 .5l.2-.2l.2 .5l.2-.4l.2 .4l.2 .6l.2 0l.2 .5l.2 .3l.2-.9l.2 1l.2 0l.2-.1l.2 .2l.2-.3l.2 .4l.2-.1l.2 .5l.2-1.3l.2 .2l.2 .4l.2 .1l.2-.9l.2-.1l.2 0l.2 .1l.2-.7l.2 .4l.2-.1l.2-.9l.2 .1l.2-1.2l.2-.2l.2 .2l.2-.3l.2-1.2l.2-.1l.2-.1l.2-.5l.2-.6l.2-.1l.2-.1l.2-.7l.2-.4l.2 .7l.2-.6l.2-.6l.2 .9l.2 .4l.2 .2l.2 .3l.2 0l.2 .5l.2 .4l.2 .8l.2 0l.2-.2l.2 1.3l.2 .1l.2 .3l.2 .4l.2 .7l.2 .1l.2 .4l.2 .2l.2 .6l.2-.4l.2 .8l.2 .3l.2 0l.2 .7l.2 .2l.2-.4l.2 .6l.2-.5l.2 1l.2-.1l.2-.5l.2 .5l.2 0l.2-.2l.2-.3l.2 .5l.2 .4l.2 0l.2-.1l.2 .1l.2-.4l.2 .1l.2 .3l.2-.1l.2-.3l.2 0l.2 .8l.2-.4l.2 .2l.2-.5l.2 0l.2 .7l.2-.2l.2 .3l.2-.6l.2 .1l.2 .3l.2-.2l.2 .6l.2 0l.2-.7l.2 .6l.2-.4l.2 .4l.2-.2l.2-.2l.2 .2l.2 .6l.2-.3l.2-.2l.2-.3l.2 1l.2-.4l.2-.3l.2 .1l.2-.2l.2 .2l.2 .2l.2-.3l.2-.1l.2-.1l.2-.1l.2 .2l.2 .2l.2-.9l.2 1l.2-.6l.2 .7l.2 .1l.2 .1l.2-.3l.2-.5l.2 .9l.2-.8l.2 .7l.2-.8l.2 .3l.2-.4l.2 .4l.2 .2l.2 .1l.2-.8l.2 .4l.2-.2l.2 .7l.2-.3l.2 .3l.2-.4l.2 .6l.2-.5l.2 .2l.2 0l.2-.2l.2-.3l.2 .2l.2 .5l.2 0l.2-.6l.2 .4l.2-.8l.2 .9l.2-.4l.2-.7l.2 .4l.2 .3l.2-.1l.2 .1l.2-.2l.2-.3l.2 1.1l.2-.9l.2 0l.2-.1l.2 .3l.2 .6l.2 0l.2 .2l.2-.8l.2 .1l.2 .5l.2-.5l.2 .2l.2 .5l.2-1l.2 0l.2 .6l.2-.4l.2 .1l.2 .5l.2-.3l.2 .4l.2-.7l.2 .2l.2 .1l.2 0l.2-.8l.2 .3l.2 .6l.2-.8l.2 0l.2 .3l.2 .1l.2 .5l.2-.1l.2-.4l.2-.1l.2 0l.2 .7l.2-.3l.2 .1l.2-.9l.2 .1l.2 1l.2 .3l.2-.5l.2-.5l.2-.3l.2 .2l.2 .5l.2 0l.2-.3l.2 .4l.2 .3l.2-.3l.2-.4l.2-.2l.2 .3l.2-.1l.2 .8l.2-.7l.2 .7l.2-.8l.2 .3l.2 .1l.2-.2l.2 .1l.2 0l.2-.1l.2 .1l.2 .4l.2 .2l.2-.7l.2 .5l.2-.5l.2 .1l.2 .1l.2-.2l.2 .4l.2-.5l.2 .1l.2 .1l.2-.3l.2 0l.2 .4l.2 .1l.2-.4l.2-.2l.2 .1l.2 .1l.2 0l.2 .1l.2 .7l.2-1.1l.2 .1l.2 .1l.2-.2l.2 .8l.2-.9l.2 .3l.2-.1l.2 .4l.2-.1l.2-.2l.2 .1l.2 .3l.2 0l.2 .5l.2-.9l.2 .7l.2 .2l.2-.5l.2-.7l.2 .6l.2 .3l.2-.1l.2-.2l.2-.4l.2 .6l.2-.1l.2-.1l.2-.7l.2 .9l.2-.2l.2 .1l.2-.3l.2 .7l.2-.2l.2-.2l.2-.5l.2 .1l.2-.3l.2 .6l.2-.3l.2 .1l.2-.7l.2 .9l.2-.5l.2-.3l.2 1.3l.2 0l.2-.6l.2-.7l.2 .7l.2 .3l.2-.6l.2 .6l.2 0l.2-.1l.2 0l.2-.6l.2 .2l.2-.2l.2-.1l.2 .8l.2-.4l.2 .4l.2-.4l.2-.3l.2 .8l.2 0l.2-.5l.2 .3l.2-.8l.2 .4l.2 .6l.2-.4l.2-.1l.2 .5l.2 0l.2-.8l.2 .2l.2 .2l.2-.4l.2 .5l.2 .1l.2-.2l.2-.5l.2 .4l.2 0l.2 .2l.2-.2l.2-.1l.2 .7l.2-.1l.2-.7l.2-.2l.2 .8l.2-.6l.2-.2l.2 .5l.2-.5l.2 .1l.2 .2l.2 .1l.2-.2l.2 .6l.2-.2l.2 .4l.2-.5l.2 0l.2 .2l.2-.4l.2 .4l.2-.6l.2 0l.2-.7l.2 .6l.2 .4l.2 .1l.2-.2l.2 .1l.2 .7l.2-.8l.2 0l.2-.1l.2 .2l.2-.6l.2 .5l.2 .5l.2-.3l.2-.1l.2-.6l.2-.2l.2 .4l.2 .2l.2-.5l.2 0l.2-.3l.2 .1l.2 .8l.2-.5l.2 .2l.2-.4l.2-.3l.2 0l.2 .3l.2-.4l.2 .4l.2-.2l.2-.8l.2 .5l.2 0l.2 .4l.2-1.2l.2 .1l.2-.1l.2-.2l.2 .5l.2-1l.2 .1l.2 .2l.2 .1l.2-.6l.2 .1l.2-.7l.2 .2l.2-.6l.2 .3l.2-1.1l.2 .7l.2-.7l.2-.1l.2 0l.2 0l.2-.3l.2-.4l.2 .1l.2 .3l.2 .1l.2-.3l.2 .1l.2-.3l.2 .6l.2-.3l.2-.3l.2 1.3l.2-.7l.2 .4l.2 .6l.2-.5l.2-.2l.2 1l.2 .2l.2-.3l.2 .2l.2 .7l.2-.3l.2 .3l.2 .1l.2 1l.2-1.1l.2 1l.2-.2l.2 .7l.2-1.2l.2 1l.2 .1l.2-.5l.2-.2l.2 1.6l.2-.4l.2-.3l.2 0l.2 .6l.2 .2l.2-.5l.2 .3l.2 .5l.2-.7l.2 .6l.2 .2l.2-1l.2 .2l.2 1.2l.2-.8l.2 .5l.2-.2l.2 .2l.2 .2l.2 .1l.2-.2l.2-.7l.2 .1l.2 1l.2-.9l.2 .2l.2-.4l.2 .1l.2 .3l.2 .3l.2-.2l.2-.1l.2-.2l.2-.3l.2 .8l.2-.6l.2 .8l.2-.1l.2-.8l.2 .6l.2 .4l.2-.9l.2 .6l.2 .1l.2-.1l.2-.1l.2 .6l.2-.5l.2-.4l.2 0l.2 .1l.2 0l.2 .2l.2-.4l.2 1.2l.2-.6l.2-.3l.2 .7l.2-.1l.2-.9l.2 .6l.2-.5l.2 .1l.2 .4l.2-.2l.2 .3l.2-.4l.2 .4l.2-.1l.2-.7l.2 .5l.2-.7l.2 .4l.2 .5l.2 .2l.2-.7l.2 .2l.2 .1l.2-.3l.2 .9l.2-.1l.2-.3l.2-.2l.2 .1l.2 0l.2-.2l.2-.2l.2 .4l.2 .2l.2-.2l.2 .5l.2-1.1l.2 .5l.2 .4l.2 .2l.2-.5l.2 .1l.2 0l.2 .1l.2-.1l.2 0l.2 .3l.2-.4l.2 .1l.2-.4l.2 .1l.2 .2l.2 .3l.2-.3l.2 .6l.2-.7l.2 .3l.2-.3l.2 .7l.2-.6l.2-.3l.2 .1l.2-.5l.2 1l.2 .6l.2-.9l.2 .3l.2 .1l.2-.4l.2-.1l.2 .6l.2-.8l.2 .6l.2 0l.2-.5l.2-.4l.2 .9l.2-.2l.2 .2l.2-.6l.2 .2l.2 .4l.2-.2l.2 0l.2-.2l.2 .2l.2 .1l.2 .2l.2-.2l.2 0l.2-.2l.2 1l.2-1.3l.2 .6l.2-1.1l.2 .7l.2 .5l.2-1l.2 1.1l.2-.8l.2 .6l.2-.4l.2-.1l.2 .1l.2 .4l.2-.3l.2 .3l.2-.2l.2-.3l.2 .7l.2-.6l.2 .1l.2 .6l.2 0l.2-.4l.2 .3l.2-.2l.2-.6l.2 .2l.2 .2l.2 .4l.2-.6l.2 0l.2-.1l.2 .2l.2-.3l.2 .5l.2 .2l.2-.3l.2-.7l.2 .2l.2 .4l.2 .5l.2-.6l.2 .4l.2-.3l.2 .5l.2-.9l.2 0l.2 .3l.2 .2l.2 0l.2 .7l.2-.6l.2-.5l.2 .6l.2-.9l.2 .9l.2-.3l.2-.3l.2 .2l.2 0l.2 .3l.2-.2l.2 .4l.2-.6l.2 .8l.2 .2l.2-.6l.2 .3l.2-.5l.2 .2l.2 0l.2-.9l.2 1.1l.2-.7l.2 .2l.2-.1l.2 .5l.2-.3l.2-.1l.2 0l.2-.1l.2 .6l.2-.8l.2 .4l.2-.1l.2 .1l.2-.2l.2-.1l.2 .5l.2-.1l.2-.5l.2-.2l.2 .4l.2 .2l.2-.4l.2-.1l.2-.5l.2 .9l.2-.3l.2 .5l.2-.1l.2-.2l.2 0l.2 .1l.2-.1l.2 0l.2 .3l.2-.7l.2-.2l.2 .4l.2-.2l.2 .8l.2-.8l.2-.3l.2 .3l.2-.1l.2 .5l.2-.5l.2 .2l.2-.3l.2-.5l.2 .2l.2-.3l.2 1l.2-.3l.2-.8l.2-.8l.2 .6l.2 0l.2-.2l.2 .2l.2 0l.2 0l.2-.1l.2-.5l.2 0l.2 .3l.2-.2l.2-.9l.2 .9l.2 .2l.2-.9l.2 .3l.2 .7l.2-.7l.2 .5l.2-.6l.2 .2l.2-.2l.2 .3l.2 .2l.2-.3l.2 .4l.2-.2l.2 .7l.2-.3l.2 .4l.2-.6l.2 .4l.2 .5l.2-.6l.2 .8l.2-.4l.2 .3l.2 0l.2-.1l.2 .3l.2 .1l.2-.4l.2 .6l.2-.5l.2 .3l.2 .3l.2-.7l.2 .6l.2 .1l.2 .1l.2 0l.2-.6l.2 0l.2 .5l.2 .6l.2-.4l.2-.5l.2 .4l.2 0l.2-.2l.2-.1l.2-.3l.2 0l.2 .5l.2-.2l.2 0l.2 .3l.2-.1l.2-.9l.2 .4l.2 0l.2-.3l.2 .1l.2-.2l.2 .9l.2-1l.2 .4l.2-.8l.2-.5l.2 1l.2-.3l.2-.4l.2-.2l.2 .3l.2-.2l.2-.5l.2 .6l.2-.1l.2-.7l.2-1l.2 1.4l.2-.2l.2-.5l.2-.3l.2 .5l.2 .3l.2-.1l.2-.3l.2-.3l.2-.2l.2 .4l.2 .1l.2 .1l.2 .9l.2-.7l.2-.3l.2 1.1l.2 .1l.2-.1l.2 .4l.2-.1l.2 .5l.2-.6l.2 .5l.2-.3l.2 .4l.2 .3l.2 0l.2 .1l.2 .3l.2 .3l.2-1.2l.2 .6l.2 .6l.2-.4l.2 .4l.2 .4l.2-.3l.2 0l.2-.1l.2-.3l.2 .2l.2 .5l.2 .1l.2-.1l.2-.4l.2-.4l.2 .5l.2-.2l.2 .4l.2-.6l.2-.1l.2 .9l.2-.5l.2 .2l.2-.1l.2 0l.2-.2l.2 .2l.2-.2l.2 .5l.2-.4l.2-.3l.2 .3l.2 .4l.2-.2l.2-.1l.2-.4l.2 .2l.2 .3l.2 0l.2 .4l.2-.1l.2-.2l.2-.5l.2 1l.2-.6l.2-.7l.2 1.1l.2-.3l.2 .1l.2-.2l.2 .1l.2-.4l.2 .2l.2 .3l.2 .3l.2-.9l.2 .6l.2 0l.2-.7l.2 .5l.2-.1l.2-.3l.2 .3l.2 .3l.2 .2l.2-.6l.2 .3l.2 .2l.2-.1l.2-.6l.2 .8l.2 .3l.2-.7l.2 .9l.2-1.4l.2 .1l.2 .5l.2 .5l.2-.4l.2 .1l.2-.5l.2 .2l.2 0l.2 .4l.2-.4l.2-.1l.2 .3l.2 .5l.2-1.2l.2 .3l.2 .5l.2-.3l.2 .6l.2-1l.2 .1l.2 .8l.2-.4l.2 .1l.2-.1l.2-.2l.2 0l.2 .4l.2 0l.2 0l.2-.3l.2-.6l.2 .8l.2 0l.2-.1l.2-.4l.2 .1l.2 .9l.2-.5l.2-.1l.2-.5l.2 .5l.2 .8l.2-.6l.2 1.1l.2-2l.2 .5l.2-.3l.2 .4l.2 .4l.2-.4l.2-.3l.2 1.2l.2-.6l.2-.2l.2 .3l.2-.8l.2 .5l.2 .2l.2 .4l.2-.4l.2 .3l.2-.2l.2-.1l.2-1.2l.2 1.4l.2 0l.2-.3l.2-.1l.2 .1l.2-.3l.2 .1l.2-1l.2 .7l.2 .4l.2 .3l.2-.7l.2 .8l.2-.5l.2-.1l.2 .1l.2 .4l.2-.8l.2 .7l.2 .1l.2-.5l.2 .4l.2-.3l.2 .1l.2-.7l.2 .7l.2-.3l.2-.5l.2 1.1l.2-.8l.2 .3l.2 .6l.2-.6l.2-.2l.2 .9l.2-.7l.2 .3l.2 .2l.2-.3l.2-.4l.2-.1l.2 .1l.2 .6l.2-.3l.2-.5l.2 0l.2 .2l.2 0l.2-.1l.2-.4l.2 .9l.2-.5l.2-.3l.2 .2l.2-.5l.2 .1l.2-.3l.2 .2l.2-.3l.2 .1l.2-.8l.2 .7l.2 0l.2 .2l.2-.8l.2 .3l.2-.5l.2 .6l.2-.4l.2-.4l.2-.9l.2 1.1l.2 0l.2-.6l.2-.4l.2 .4l.2-.5l.2-.3l.2 .5l.2-.3l.2 0l.2-.5l.2 .3l.2-.6l.2-.1l.2-.3l.2 .5l.2-.6l.2 .3l.2-.3l.2 .6l.2 .7l.2-.9l.2 .1l.2 .2l.2 0l.2 .4l.2 .8l.2-.5l.2 .3l.2-.5l.2 .2l.2 .6l.2 0l.2 0l.2-.1l.2 .1l.2 .3l.2 .9l.2-.3l.2-.7l.2 .5l.2 .1l.2 0l.2-.8l.2 .7l.2 .4l.2-.4l.2-.1l.2 .3l.2 .1l.2-.3l.2 .1l.2 .3l.2-.3l.2-.6l.2 .4l.2 .4l.2 0l.2-.2l.2 .2l.2-.3l.2 .5l.2-.3l.2 .6l.2-.9l.2 .5l.2 .3l.2-.2l.2 0l.2-.1l.2 .2l.2 .1l.2 0l.2 .1l.2 0l.2-.2l.2 .3l.2 .4l.2 .2l.2-.3l.2-.4l.2 .6l.2 0l.2-.2l.2 .5l.2 .1l.2-.5l.2 .2l.2 .3l.2-.4l.2 .4l.2 .4l.2-.4l.2 .2l.2-.4l.2-.5l.2 .9l.2 .7l.2-1.1l.2 .3l.2-.2l.2 0l.2 .4l.2 0l.2-.8l.2 .7l.2-.3l.2 .4l.2 .9l.2-1.3l.2 .6l.2-.8l.2 .7l.2 .4l.2-.6l.2 .4l.2-.7l.2 0l.2 .7l.2-.3l.2 .5l.2-.5l.2-.5l.2 .4l.2-.5l.2 .6l.2-.8l.2 .8l.2-.8l.2 .7l.2-.1l.2 .4l.2 .5l.2-.2l.2-.2l.2-.4l.2-.1l.2 .6l.2-.8l.2 .4l.2 .3l.2-.5l.2-.3l.2-.1l.2 .2l.2 .1l.2 .9l.2 0l.2-.8l.2-.1l.2 .4l.2-.5l.2 .4l.2-.1l.2 0l.2 0l.2 .2l.2 .1l.2 0l.2-.8l.2 .4l.2-.3l.2 1l.2-1.4l.2 .9l.2-.1l.2 .4l.2 0l.2 .2l.2-1.2l.2 .3l.2-.2l.2 .6l.2 .4l.2 .3l.2-.5l.2-.1l.2 0l.2-.1l.2 1.1l.2-1.4l.2 .6l.2-.1l.2 .1l.2-1.1l.2 .1l.2 .5l.2-.3l.2 .8l.2 .2l.2-.3l.2 0l.2 .4l.2-.6l.2 .1l.2-.3l.2 .3l.2-.1l.2 0l.2-.2l.2 .3l.2-.4l.2 .7l.2-.4l.2-.4l.2 .2l.2 .4l.2-.6l.2 .1l.2 .4l.2 .1l.2-.2l.2-.2l.2 .3l.2-.5l.2 .7l.2-.1l.2 .4l.2-.8l.2-.4l.2-.3l.2 1.5l.2-.6l.2 .3l.2-.5l.2 .5l.2-.4l.2 1.1l.2-1.3l.2 .7l.2-1.1l.2 .5l.2-.2l.2 .9l.2-.1l.2 .3l.2-.3l.2-.1l.2-.9l.2 .6l.2-.2l.2-.1l.2 .1l.2 .6l.2-.7l.2-.1l.2 .7l.2-.2l.2-.5l.2 .1l.2 .7l.2-.5l.2 .1l.2 0l.2 .3l.2-.4l.2 .2l.2 0l.2-.5l.2 .8l.2 .1l.2-.4l.2-.1l.2 0l.2-.3l.2 1l.2-1.1l.2 0l.2 .1l.2 .6l.2 .3" fill="none" stroke="#9600BE" stroke-width="3.0" stroke-linejoin="round" stroke-linecap="round"/>
<path d="M113.6 563.4l.4-.1l.4 0l.4 .1l.4 .1l.4-.1l.4-.1l.4 .1l.4-.1l.4 .2l.4-.1l.4 .1l.4-.1l.4-.1l.4 0l.4 .1l.4 0l.4 0l.4 0l.4-.1l.4 .1l.4-.1l.4 .1l.4-.1l.4 .2l.4-.1l.4 0l.4-.1l.4 .1l.4 0l.4-.1l.4 0l.4 .1l.4-.1l.4 .1l.4 0l.4-.1l.4 .2l.4-.1l.4-.1l.4 0l.4 0l.4 .1l.4-.2l.4 .2l.4 0l.4-.1l.4 0l.4 0l.4 0l.4 .1l.4-.1l.4 .1l.4 0l.4-.1l.4 .1l.4-.1l.4 0l.4 0l.4 .1l.4-.1l.4 0l.4 0l.4 0l.4-.1l.4 .2l.4-.1l.4 0l.4 0l.4 0l.4 .2l.4 0l.4-.1l.4-.1l.4 0l.4-.1l.4 .1l.4 0l.4 .1l.4-.1l.4-.1l.4 0l.4 0l.4 .1l.4 0l.4-.1l.4 0l.4 .1l.4-.1l.4 .1l.4 0l.4-.1l.4-.1l.4 .2l.4 0l.4 0l.4 0l.4 0l.4-.1l.4 .1l.4-.2l.4 .2l.4-.1l.4 .1l.4 0l.4-.1l.4 0l.4 .1l.4-.1l.4 0l.4 0l.4 0l.4 0l.4-.1l.4 0l.4 0l.4 .1l.4 0l.4-.1l.4 0l.4 0l.4 .1l.4 0l.4-.2l.4 .2l.4 0l.4-.1l.4 .1l.4 0l.4 0l.4 0l.4 0l.4-.2l.4 .2l.4-.1l.4 0l.4 .1l.4 0l.4-.1l.4 0l.4 0l.4-.1l.4 0l.4 .1l.4 0l.4 0l.4 0l.4 0l.4-.1l.4 0l.4 0l.4 0l.4 .1l.4 0l.4-.2l.4 .2l.4-.1l.4 0l.4 .1l.4 0l.4 0l.4-.1l.4 .1l.4-.2l.4 .1l.4-.1l.4 0l.4 0l.4 .2l.4 0l.4-.1l.4-.1l.4 .1l.4-.1l.4 0l.4 .1l.4 0l.4 0l.4 0l.4-.1l.4 0l.4 0l.4 0l.4-.1l.4 .1l.4-.1l.4 .1l.4-.1l.4 .1l.4 0l.4-.1l.4 0l.4 0l.4 0l.4 0l.4 0l.4 .1l.4-.1l.4 .1l.4-.2l.4 0l.4 .1l.4-.1l.4 0l.4 0l.4 0l.4 0l.4 0l.4 .1l.4-.1l.4 0l.4 0l.4 0l.4 0l.4 0l.4 0l.4-.1l.4 0l.4 0l.4 .1l.4-.1l.4-.1l.4 .1l.4 0l.4-.1l.4 .1l.4-.1l.4-.1l.4 .1l.4 0l.4-.1l.4 .1l.4-.2l.4 .3l.4-.3l.4 .1l.4 0l.4-.1l.4 .1l.4-.1l.4 0l.4-.1l.4 .2l.4 0l.4-.1l.4 0l.4 .1l.4-.1l.4 0l.4 0l.4 0l.4-.1l.4 .1l.4-.1l.4 0l.4-.1l.4-.1l.4 .1l.4 0l.4 .1l.4-.1l.4-.2l.4 .2l.4 0l.4-.1l.4 0l.4 0l.4 0l.4 0l.4-.1l.4 0l.4-.1l.4 0l.4 0l.4 0l.4 0l.4 .1l.4-.2l.4 .1l.4-.1l.4 0l.4 0l.4 0l.4-.1l.4 .1l.4-.1l.4-.1l.4 0l.4 .1l.4-.1l.4 0l.4 0l.4 0l.4 0l.4 0l.4-.1l.4 0l.4-.1l.4 0l.4-.1l.4 0l.4-.1l.4 0l.4 0l.4-.1l.4 0l.4-.1l.4 0l.4 0l.4 0l.4-.1l.4 .1l.4-.3l.4 .1l.4-.2l.4-.1l.4 0l.4-.1l.4 0l.4 0l.4-.2l.4-.1l.4-.1l.4-.2l.4 0l.4-.3l.4-.2l.4-.1l.4-.3l.4-.2l.4-.2l.4-.5l.4-.4l.4-.6l.4-.7l.4-.7l.4-1.3l.4-2l.4-2.7l.4-4.3l.4-5.7l.4-7.8l.4-9.6l.4-10.8l.4-10.6l.4-7.4l.4-1.8l.4 5.1l.4 9.5l.4 11.1l.4 10.4l.4 8.8l.4 7l.4 5l.4 3.5l.4 2.4l.4 1.7l.4 1l.4 .8l.4 .8l.4 .4l.4 .5l.4 .3l.4 .4l.4 .4l.4 .1l.4 .1l.4 .3l.4 .1l.4 .2l.4 .2l.4 .1l.4 .2l.4 .1l.4 0l.4 .1l.4 .1l.4 .1l.4 0l.4 0l.4 .3l.4 0l.4-.1l.4 .1l.4 0l.4 .1l.4 0l.4-.1l.4 .2l.4 .1l.4-.1l.4 0l.4 .1l.4 0l.4 .1l.4 0l.4-.1l.4 .2l.4-.1l.4 0l.4 .2l.4-.1l.4 0l.4 0l.4 .2l.4-.2l.4 .2l.4-.1l.4 0l.4 0l.4 0l.4 .1l.4-.1l.4 .1l.4 0l.4 0l.4-.1l.4 .1l.4 0l.4 0l.4-.1l.4 .1l.4 .1l.4-.1l.4 0l.4 0l.4 0l.4 0l.4 .2l.4-.2l.4 0l.4 0l.4 0l.4 0l.4 0l.4-.1l.4 .2l.4-.1l.4 0l.4 .1l.4-.1l.4 0l.4-.1l.4 .1l.4-.1l.4 .2l.4-.1l.4 0l.4 0l.4 0l.4 0l.4 .1l.4 0l.4-.1l.4 0l.4 0l.4 .1l.4 0l.4 0l.4 0l.4 0l.4 0l.4-.1l.4 0l.4 .1l.4-.1l.4 .1l.4-.1l.4 .2l.4-.1l.4-.1l.4 .1l.4 0l.4 .1l.4-.1l.4 0l.4-.1l.4 .1l.4 0l.4-.1l.4 0l.4 .1l.4-.1l.4 0l.4 .1l.4 .1l.4-.1l.4 0l.4-.1l.4 0l.4 .1l.4 0l.4 0l.4 0l.4-.1l.4 .1l.4 0l.4 0l.4 0l.4-.1l.4 0l.4 .2l.4-.2l.4 .1l.4-.1l.4 .1l.4 0l.4 0l.4-.1l.4 .1l.4 0l.4 0l.4 0l.4 0l.4-.1l.4 .1l.4 0l.4-.1l.4 .1l.4-.1l.4 0l.4 .1l.4 0l.4-.1l.4 .1l.4 0l.4-.2l.4 .1l.4 .1l.4 0l.4-.1l.4 0l.4 .1l.4-.1l.4 .1l.4-.1l.4 .1l.4 0l.4-.1l.4 0l.4 0l.4 .1l.4 0l.4 0l.4 0l.4-.1l.4 0l.4 .1l.4-.1l.4 0l.4 0l.4 0l.4 0l.4 0l.4 0l.4 .1l.4-.1l.4 0l.4 0l.4 .1l.4-.2l.4 .1l.4 0l.4 0l.4 .1l.4 0l.4-.1l.4 0l.4 0l.4 .1l.4 0l.4 0l.4 0l.4-.1l.4 0l.4 0l.4 .1l.4-.1l.4-.1l.4 .2l.4-.2l.4 .2l.4-.2l.4 .1l.4 0l.4 .1l.4-.1l.4 0l.4 0l.4 0l.4-.1l.4 0l.4 0l.4 .1l.4-.2l.4 .2l.4 .1l.4-.1l.4-.1l.4 0l.4 0l.4 0l.4 .1l.4-.2l.4 .1l.4 .1l.4-.1l.4 .2l.4-.2l.4 .1l.4-.1l.4 0l.4 0l.4 .1l.4-.1l.4 0l.4 .1l.4-.1l.4 .1l.4-.1l.4 0l.4 .1l.4-.2l.4 .2l.4-.1l.4 0l.4 .1l.4 0l.4-.1l.4 0l.4 0l.4 0l.4 0l.4 0l.4-.1l.4 0l.4-.1l.4 .2l.4-.1l.4 .1l.4 0l.4 0l.4 0l.4 0l.4 0l.4-.1l.4 0l.4 .1l.4-.1l.4 .1l.4-.1l.4 0l.4 .1l.4 0l.4-.1l.4 0l.4 .1l.4 .1l.4-.3l.4 .1l.4 0l.4-.1l.4 .2l.4-.1l.4 0l.4 0l.4 0l.4 0l.4-.1l.4 0l.4 .1l.4-.1l.4 0l.4 0l.4 0l.4 .1l.4-.2l.4 .1l.4 0l.4 0l.4-.1l.4 .1l.4-.1l.4 .1l.4-.1l.4 0l.4-.1l.4 0l.4 0l.4 0l.4-.2l.4 0l.4-.1l.4-.1l.4-.2l.4 0l.4-.2l.4-.4l.4-.2l.4-.5l.4-.1l.4 .1l.4 .2l.4 .4l.4 .3l.4 .2l.4 .2l.4 .2l.4 .1l.4 .1l.4 0l.4 0l.4 .1l.4 .1l.4-.1l.4 .1l.4-.1l.4 .1l.4 .1l.4 0l.4-.2l.4 .1l.4 0l.4 0l.4 0l.4 0l.4 .1l.4-.1l.4 0l.4 0l.4 0l.4 .1l.4 0l.4-.1l.4 .1l.4-.1l.4 0l.4 0l.4 0l.4 .2l.4-.2l.4 0l.4 0l.4 0l.4 0l.4 0l.4-.1l.4 0l.4 .2l.4-.1l.4 0l.4 0l.4 0l.4 0l.4 .1l.4 0l.4-.1l.4 0l.4 0l.4 0l.4 0l.4-.1l.4 0l.4 .1l.4 0l.4 0l.4-.1l.4 0l.4 0l.4 0l.4 .1l.4 0l.4 0l.4 0l.4 0l.4 .1l.4-.1l.4 0l.4 0l.4-.1l.4 .2l.4 0l.4-.1l.4 0l.4-.1l.4 .1l.4 0l.4 .1l.4-.1l.4 0l.4 0l.4 0l.4-.1l.4 .1l.4 0l.4 .1l.4 0l.4 0l.4-.1l.4 .1l.4 0l.4 0l.4-.1l.4 .1l.4-.1l.4 0l.4 .1l.4 0l.4 0l.4 0l.4-.1l.4-.1l.4 .2l.4-.1l.4 0l.4 0l.4 .1l.4-.1l.4 0l.4-.1l.4 .1l.4-.1l.4 0l.4 0l.4 0l.4-.1l.4-.2l.4-.1l.4 0l.4-.1l.4-.3l.4 0l.4-.3l.4-.1l.4-.3l.4 .1l.4 .4l.4 .2l.4 .1l.4 .3l.4 .1l.4 .1l.4 .1l.4 .1l.4 0l.4 .1l.4 0l.4 .1l.4-.1l.4 .2l.4-.1l.4 .1l.4-.1l.4 .1l.4-.1l.4 .2l.4-.1l.4 .1l.4 0l.4-.1l.4 0l.4 .1l.4 0l.4-.1l.4 .1l.4-.1l.4 .2l.4-.1l.4 0l.4 0l.4 0l.4 0l.4 0l.4 0l.4 .1l.4-.1l.4 .1l.4-.2l.4 .1l.4 .1l.4 0l.4 0l.4-.1l.4 0l.4 .1l.4-.1l.4 .1l.4 0l.4-.1l.4 0l.4 .2l.4-.2l.4 .2l.4-.1l.4 0l.4 0l.4-.1l.4 0l.4 .1l.4-.1l.4 0l.4 0l.4 .2l.4-.1l.4-.1l.4 0l.4 .1l.4 0l.4 .1l.4-.1l.4 .1l.4-.1l.4 0l.4 0l.4 .1l.4-.1l.4 .1l.4 0l.4 0l.4 0l.4-.1l.4 .1l.4-.1l.4 0l.4 .1l.4-.1l.4 0l.4 .1l.4 0l.4-.1l.4 0l.4 .1l.4 0l.4 0l.4-.1l.4 0l.4 .1l.4 0l.4 0l.4 0l.4 0l.4 .1l.4-.1l.4 0l.4-.1l.4 .1l.4 0l.4 0l.4 .1l.4-.1l.4 0l.4 0l.4-.1l.4 .1l.4 .1l.4-.1l.4 .1l.4 0l.4-.1l.4 .1l.4-.1l.4 .1l.4 0l.4-.1l.4 0l.4 0l.4-.1l.4 .2l.4-.1l.4 .1l.4-.1l.4 .1l.4 0l.4 0l.4 0l.4-.1l.4 0l.4 0l.4 .1l.4-.1l.4 0l.4-.1l.4 .2l.4 0l.4 .1l.4-.1l.4 0l.4 0l.4-.1l.4 0l.4 .1l.4-.1l.4 .1l.4-.1l.4 .2l.4-.2l.4 .1l.4 0l.4 0l.4 0l.4 0l.4 0l.4-.1l.4 .1l.4 0l.4 .1l.4-.2l.4 0l.4 .1l.4-.1l.4 .2l.4-.2l.4 0l.4 .2l.4-.1l.4 0l.4-.1l.4 .2l.4-.2l.4 0l.4 .1l.4-.1l.4 .1l.4 0l.4 .1l.4-.2l.4 .1l.4-.1l.4 0l.4 0l.4 .1l.4 0l.4 .1l.4-.1l.4 .1l.4-.1l.4 0l.4 0l.4 .1l.4-.2l.4 .2l.4-.1l.4 0l.4 .1l.4-.1l.4-.1l.4 .1l.4 0l.4 0l.4 0l.4 0l.4-.1l.4 0l.4 .1l.4-.1l.4 .2l.4-.1l.4 0l.4 0l.4 .1l.4-.1l.4 .1l.4 0l.4-.1l.4 0l.4 0l.4-.1l.4 .2l.4-.1l.4-.1l.4 .1l.4 0l.4 0l.4 0l.4 .1l.4-.1l.4 0l.4 0l.4 .1l.4-.2l.4 .1l.4-.1l.4 .1l.4 .1l.4 0l.4-.1l.4 0l.4 0l.4 0l.4 0l.4 0l.4 0l.4 0l.4 0l.4 .1l.4 0l.4 0l.4-.2l.4 .2l.4 0l.4 0l.4-.1l.4 0l.4 .2l.4-.1l.4-.1l.4 0l.4 0l.4 .1l.4-.1l.4 .1l.4-.1l.4 .1l.4 0l.4-.1l.4 .1l.4-.2l.4 .1l.4-.1l.4 .1l.4-.1l.4 0l.4 0l.4 .1l.4 0l.4 0l.4-.1l.4 0l.4 .1l.4 0l.4 0l.4 0l.4 0l.4 .1l.4 0l.4-.1l.4-.1l.4 .1l.4-.1l.4 .1l.4 0l.4-.1l.4 0l.4 .1l.4 0l.4 0l.4-.1l.4 .1l.4-.1l.4 .2l.4-.2l.4 0l.4-.1l.4 0l.4 .1l.4 .1l.4-.1l.4 .1l.4 .1l.4-.3l.4 .1l.4-.1l.4 .1l.4-.1l.4 0l.4-.1l.4 .1l.4-.1l.4 0l.4-.1l.4 .1l.4-.1l.4 0l.4 0l.4-.2l.4 0l.4 0l.4-.1l.4 .2l.4 0l.4-.1l.4 .1l.4 .1l.4 0l.4 0l.4 .1l.4 .1l.4 0l.4 0l.4 .1l.4 0l.4 0l.4-.1l.4 .1l.4-.1l.4 0l.4 .1l.4 .1l.4-.1l.4 .1l.4 0l.4 0l.4 0l.4 0l.4 0l.4 0l.4 0l.4 0l.4 0l.4 0l.4 0l.4 0l.4 0l.4 0l.4-.1l.4 .1l.4 0l.4 0l.4 .1l.4-.1l.4 .1l.4-.1l.4 .1l.4 0l.4-.1l.4 0l.4 0l.4-.1l.4 .2l.4-.1l.4 .1l.4-.1l.4 0l.4 .1l.4 0l.4 0l.4 0l.4-.1l.4 0l.4 .1l.4-.1l.4 .1l.4-.1l.4 .1l.4 0l.4-.1l.4 .1l.4-.1l.4 .2l.4-.1l.4-.1l.4 .1l.4-.1l.4 0l.4 0l.4 .1l.4 0l.4 .1l.4-.1l.4 0l.4-.1l.4 .1l.4-.1l.4 .2l.4-.1l.4-.1l.4 .2l.4-.2l.4 .1l.4 0l.4 0l.4-.1l.4 .2l.4-.2l.4 0l.4 0l.4 0l.4-.1l.4 .1l.4 0l.4 .1l.4 0l.4 0l.4-.1l.4 .1l.4 0l.4 0l.4 .1l.4-.1l.4 0l.4-.1l.4 .1l.4-.1l.4 .2l.4-.1l.4-.1l.4 0l.4 .2l.4-.1l.4 0l.4 0l.4 .1l.4-.2l.4 .1l.4-.1l.4 0l.4 .1l.4 0l.4-.1l.4 .1l.4 0l.4 .1l.4-.1l.4 0l.4-.1l.4 .1l.4 0l.4 0l.4-.2l.4 .2l.4 0l.4 0l.4-.1l.4 0l.4 .1l.4 0l.4-.1l.4 0l.4 .1l.4 0l.4 0l.4 0l.4 0l.4-.1l.4 .1l.4-.1l.4 .1l.4 0l.4 0l.4 0l.4 0l.4-.1l.4 .1l.4-.1l.4 .1l.4 0l.4 0l.4 .1l.4-.2l.4 .1l.4-.1l.4 .1l.4-.1l.4 .1l.4 0l.4-.1l.4 .2l.4-.1l.4-.1l.4 .1l.4 0l.4 .1l.4-.1l.4 .1l.4-.1l.4 0l.4-.1l.4 .1l.4 0l.4 0l.4 0l.4 0l.4-.1l.4 .1l.4 0l.4 0l.4 0l.4 0l.4 0l.4-.1l.4 .1l.4-.1l.4 .1l.4 0l.4 .1l.4-.1l.4 0l.4 0l.4 .1l.4-.1l.4 0l.4-.1l.4 0l.4 .2l.4-.1l.4-.2l.4 .2l.4 .1l.4-.1l.4 0l.4-.1l.4 .1l.4 0l.4 0l.4 0l.4 0l.4-.1l.4 .1l.4-.1l.4 .1l.4 0l.4-.1l.4 .1l.4-.1l.4 .2l.4-.1l.4 0l.4 .1l.4-.1l.4-.1l.4 .2l.4-.1l.4-.1l.4 .1l.4 0l.4 0l.4 0l.4 0l.4 0l.4 .1l.4-.2l.4 .2l.4-.2l.4 .1l.4 .2l.4-.1l.4-.1l.4 0l.4-.1l.4 0l.4 .1l.4 0l.4-.1l.4 .1l.4 0l.4 0l.4-.1l.4 .1l.4 0l.4-.1l.4 0l.4 .1l.4-.1l.4 0l.4 .1l.4 0l.4-.1l.4 .1l.4-.1l.4 .1l.4 .1l.4-.1l.4-.1l.4 .1l.4 0l.4-.1l.4 0l.4 0l.4 0l.4 .1l.4 0l.4 0l.4 0l.4-.1l.4 0l.4 .2l.4-.1l.4 0l.4-.1l.4 .1l.4 0l.4 0l.4 0l.4-.1l.4 .1l.4-.1l.4 .1l.4-.1l.4 .2l.4-.2l.4 0l.4 0l.4 .1l.4 0l.4 0l.4-.1l.4 .1l.4 0l.4 0l.4 .1l.4-.1l.4 .1l.4 0l.4-.2l.4 .1l.4 0l.4 0l.4 0l.4 0l.4 0l.4 0l.4 0l.4 0l.4-.1l.4 .1l.4-.2l.4 .2l.4 0l.4 0l.4-.1l.4 .1l.4 0l.4 0l.4 0l.4-.1l.4 .1l.4-.1l.4 .1l.4-.2l.4 .1l.4 0l.4 .1l.4 0l.4-.1l.4 .1l.4 0l.4-.1l.4 .1l.4-.1l.4 .1l.4-.1l.4 .1l.4 0l.4-.1l.4 .1l.4-.1l.4 0l.4 .1l.4-.1l.4 0l.4 .1l.4 0l.4 0l.4 0l.4 .1l.4-.1l.4 .1l.4-.2l.4 .1l.4-.1l.4 0l.4 .1l.4 0l.4 0l.4-.1l.4 0l.4 0l.4-.1l.4 .3l.4-.2l.4 0l.4 .1l.4-.1l.4 .1l.4 0l.4-.1l.4 0l.4 0l.4 0l.4 0l.4 0l.4 .2l.4-.1l.4-.2l.4 .1l.4 0l.4 0l.4 0l.4 0l.4 0l.4 0l.4-.1l.4 .1l.4 .1l.4-.1l.4-.1l.4 .1l.4 0l.4 0l.4 .1l.4-.2l.4 .1l.4-.1l.4 0l.4-.1l.4 0l.4-.1l.4 .1l.4-.1l.4-.1l.4 .1l.4 0l.4-.2l.4 .1l.4 0l.4 0l.4 0l.4 .1l.4-.1l.4 .1l.4 0l.4-.1l.4 0l.4 .1l.4 0l.4 .1l.4 0l.4 0l.4 .1l.4-.1l.4 .1l.4 0l.4 0l.4 0l.4 .1l.4 0l.4-.1l.4 .1l.4-.1l.4 0l.4 .2l.4-.2l.4 .1l.4 0l.4 0l.4 0l.4 0l.4 0l.4 .1l.4-.1l.4 .1l.4 0l.4 0l.4 0l.4-.1l.4 0l.4-.1l.4 .2l.4-.2l.4 .1l.4 .1l.4-.1l.4 0l.4 .1l.4 0l.4 0l.4 0l.4-.1l.4 .1l.4 0l.4-.1l.4 0l.4 .1l.4 0l.4 0l.4-.1l.4 .1l.4 0l.4-.1l.4 0l.4 .2l.4-.2l.4 0l.4 0l.4 .1l.4 0l.4-.1l.4 .1l.4-.1l.4 .1l.4 .1l.4-.1l.4 0l.4 0l.4 0l.4 .1l.4-.1l.4 .1l.4-.2l.4 0l.4 0l.4 .1l.4 0l.4-.1l.4 .1l.4 0l.4 0l.4 0l.4 0l.4-.1l.4 .1l.4 .1l.4-.1l.4 0l.4-.1l.4 .1l.4 0l.4-.1l.4 .1l.4 .1l.4-.2l.4 0l.4 .1l.4 0l.4-.1l.4 .1l.4 0l.4 0l.4 0l.4 0l.4-.1l.4 0l.4 0l.4 .1l.4-.1l.4 .1l.4 0l.4 0l.4 0l.4-.1l.4 .1l.4 0l.4 0l.4 0l.4-.1l.4 .2l.4-.1l.4 .1l.4-.2l.4 0l.4 0l.4 .1l.4-.1l.4 .1l.4 0l.4 0l.4 0l.4 0l.4 0l.4 0l.4 0l.4 0l.4 0l.4 .1l.4 0l.4-.2l.4 0l.4 .1l.4 0l.4 0l.4 .1l.4-.2l.4 0l.4 0l.4 0l.4 0l.4 .1l.4 .1l.4-.2l.4 0l.4 .1l.4 0l.4 .1l.4-.1l.4 0l.4 0l.4-.1l.4 .2l.4-.1l.4 0l.4 0l.4 0l.4 0l.4 .1l.4-.1l.4-.1l.4 .1l.4 0l.4 0l.4 0l.4 0l.4 0l.4 0l.4-.1l.4 .1l.4 0l.4 0l.4 0l.4 0l.4 0l.4 0l.4 .1l.4-.1l.4 .1l.4-.2l.4 .2l.4-.2l.4 .2l.4-.1l.4 0l.4-.1l.4 .1l.4-.2l.4 .1l.4 .1l.4 0l.4-.1l.4 .1l.4 0l.4 .1l.4 0l.4 0l.4 0l.4-.3l.4 .2l.4-.1l.4 .2l.4-.1l.4 0l.4 0l.4 0l.4-.1l.4 .1l.4 0l.4 0l.4 0l.4 0l.4 0l.4 0l.4 .1l.4-.2l.4 .1l.4 0l.4 0l.4-.1l.4 .2l.4-.1l.4 0l.4 0l.4-.1l.4 .2l.4 0l.4-.1l.4 .1l.4 0l.4-.1l.4 0l.4 0l.4 0l.4 0l.4-.1l.4 0l.4 .1l.4 0l.4 .1l.4-.1l.4 0l.4-.1l.4 .1l.4-.1l.4 .1l.4 0l.4 0l.4 0l.4 0l.4 0l.4 .1l.4-.1l.4 0l.4 .1l.4-.2l.4 .1l.4 0l.4-.1l.4 0l.4 0l.4 .1l.4 0l.4 0l.4 0l.4-.1l.4 .2l.4-.2l.4 .2l.4-.1l.4 0l.4 .1l.4-.1l.4 0l.4-.1l.4 .1l.4 0l.4 .1l.4-.1l.4-.1l.4 .1l.4 .1l.4-.2l.4 .1l.4 0l.4-.1l.4 .1l.4 0l.4 0l.4 .1l.4-.1l.4-.1l.4 .1l.4 .1l.4-.1l.4-.1l.4 .2l.4-.2l.4 .1l.4 0l.4 0l.4 0l.4 0l.4-.1l.4 0l.4 .1l.4-.1l.4 0l.4 .1l.4 0l.4-.2l.4 .2l.4 0l.4 0l.4 0l.4-.1l.4 .1l.4 0l.4 0l.4-.1l.4 .1l.4 .1l.4-.2l.4 .1l.4-.1l.4 .1l.4-.1l.4 0l.4 .1l.4 0l.4 0l.4-.1l.4 .1" fill="none" stroke="#006E00" stroke-width="2.8" stroke-linejoin="round" stroke-linecap="round"/>
<path d="M113.9 657.0l.2 .2l.2-.1l.2-.1l.2-.1l.2 .2l.2 .2l.2-.1l.2 .1l.2-.2l.2 .1l.2-.1l.2-.3l.2 .5l.2-.1l.2 0l.2-.3l.2-.1l.2 .2l.2 .1l.2 .1l.2-.1l.2 .1l.2-.2l.2 .2l.2 0l.2-.2l.2 .4l.2-.2l.2 .1l.2-.2l.2-.1l.2 .1l.2 0l.2 .2l.2-.1l.2-.1l.2-.1l.2 .1l.2 .3l.2-.4l.2 .2l.2 .1l.2-.4l.2 .3l.2 .2l.2-.5l.2 .2l.2 .1l.2-.1l.2 .2l.2-.1l.2-.2l.2 .3l.2 0l.2 .1l.2 0l.2-.1l.2-.1l.2-.2l.2 .3l.2-.2l.2 .1l.2-.2l.2 .1l.2 0l.2 .3l.2-.5l.2 .1l.2 .3l.2 .2l.2-.2l.2-.4l.2-.1l.2 .5l.2-.2l.2 0l.2 .3l.2 0l.2-.1l.2 0l.2 0l.2 .2l.2-.1l.2 0l.2 0l.2-.4l.2 .5l.2-.1l.2 0l.2-.4l.2 .2l.2 .2l.2-.4l.2 .3l.2 .2l.2-.4l.2 .5l.2-.2l.2-.1l.2 .1l.2 0l.2-.1l.2 .2l.2-.3l.2 0l.2 .3l.2-.2l.2-.1l.2 .3l.2 .1l.2-.4l.2-.1l.2 .2l.2 0l.2 0l.2 .3l.2-.4l.2 .3l.2-.4l.2 .1l.2 .2l.2 .1l.2 0l.2-.1l.2 0l.2 0l.2 0l.2-.1l.2 .1l.2 0l.2 0l.2 .1l.2-.1l.2 .3l.2-.3l.2-.1l.2 0l.2 .1l.2 .1l.2-.2l.2 .1l.2 .3l.2-.7l.2 .2l.2 .2l.2 0l.2 0l.2-.1l.2 .2l.2-.1l.2-.1l.2 .5l.2-.4l.2-.1l.2 .1l.2 0l.2 0l.2-.4l.2 .3l.2 .3l.2-.4l.2 .2l.2 .2l.2-.1l.2 .1l.2-.5l.2 .2l.2 .1l.2 .1l.2 .1l.2-.6l.2 .6l.2-.4l.2 .3l.2-.3l.2 .2l.2 .2l.2-.2l.2 .1l.2 0l.2-.1l.2 0l.2 .3l.2-.1l.2-.2l.2 .5l.2-.7l.2 .4l.2-.2l.2 .1l.2 0l.2 0l.2 0l.2-.3l.2 0l.2 .3l.2-.2l.2 0l.2-.1l.2 .4l.2 0l.2 .1l.2-.4l.2 .2l.2-.2l.2 .3l.2 .1l.2-.4l.2 .4l.2-.1l.2-.2l.2-.3l.2 .6l.2-.3l.2 0l.2 .1l.2 0l.2 .2l.2-.4l.2 .4l.2 0l.2 0l.2-.3l.2 0l.2 .2l.2-.1l.2 0l.2 .2l.2-.3l.2-.3l.2 .3l.2-.2l.2 .4l.2-.1l.2-.1l.2 .1l.2 .1l.2-.1l.2 .2l.2-.2l.2 .2l.2 0l.2 0l.2-.3l.2 .2l.2-.4l.2 .1l.2-.1l.2 .5l.2-.4l.2 .2l.2 0l.2 0l.2-.1l.2 .1l.2 .3l.2-.3l.2 .1l.2 .1l.2-.2l.2-.2l.2 .1l.2 .3l.2-.5l.2 .2l.2 .3l.2-.1l.2-.1l.2 .1l.2-.1l.2-.2l.2 0l.2 .1l.2 .3l.2-.3l.2 0l.2 0l.2-.1l.2 .2l.2-.2l.2 .3l.2-.5l.2 .5l.2-.2l.2-.2l.2 .4l.2-.1l.2-.3l.2 .2l.2 .2l.2-.1l.2 .2l.2 0l.2-.1l.2 0l.2 .1l.2-.1l.2 0l.2-.4l.2 .5l.2 0l.2-.2l.2 0l.2 .3l.2-.5l.2 .3l.2 .3l.2-.5l.2 .3l.2 .1l.2-.3l.2 .1l.2 .1l.2-.3l.2 .1l.2 .1l.2 .1l.2-.2l.2 0l.2-.1l.2 .1l.2 .2l.2-.1l.2-.2l.2 0l.2 .6l.2-.3l.2 0l.2-.6l.2 .6l.2-.1l.2 .2l.2-.2l.2-.1l.2 .1l.2-.4l.2 .5l.2-.1l.2-.2l.2 .4l.2 0l.2-.5l.2 .2l.2 .1l.2 0l.2-.1l.2-.1l.2 .5l.2-.2l.2-.3l.2-.1l.2 .5l.2-.1l.2 .2l.2-.2l.2-.3l.2 .2l.2-.4l.2 .2l.2 .2l.2 0l.2-.2l.2 .1l.2 .1l.2 0l.2 .1l.2-.1l.2-.1l.2 .2l.2-.1l.2-.2l.2 .1l.2 .1l.2-.1l.2 .1l.2 0l.2 0l.2-.1l.2-.1l.2 .2l.2 .1l.2-.1l.2-.1l.2 .1l.2-.2l.2-.1l.2 .3l.2-.2l.2 .3l.2-.3l.2-.3l.2 .3l.2 .4l.2-.3l.2-.2l.2 .1l.2 .2l.2 0l.2 0l.2 .2l.2-.1l.2-.1l.2 .1l.2 .1l.2-.1l.2 0l.2-.3l.2 .1l.2 .2l.2-.2l.2 .2l.2 0l.2 0l.2-.2l.2 .5l.2-.2l.2-.3l.2 .1l.2 .4l.2-.5l.2 .2l.2 0l.2-.1l.2-.2l.2 .2l.2 0l.2 .1l.2 0l.2-.1l.2 .1l.2-.1l.2 0l.2 0l.2-.1l.2 .2l.2-.3l.2 .1l.2 .1l.2-.3l.2 .2l.2-.3l.2 .2l.2 .2l.2 0l.2-.1l.2 0l.2-.2l.2 .5l.2-.2l.2 .1l.2-.3l.2 .1l.2-.2l.2 .4l.2 0l.2-.5l.2 .3l.2 .1l.2-.3l.2-.1l.2 .2l.2 0l.2-.1l.2 .2l.2 .1l.2 0l.2 0l.2 .2l.2-.1l.2-.4l.2 .1l.2 0l.2 0l.2 .1l.2 0l.2 .1l.2-.3l.2 0l.2 .2l.2 0l.2 0l.2 0l.2-.1l.2 .2l.2 0l.2-.1l.2-.1l.2 .1l.2-.4l.2 .2l.2 .2l.2-.2l.2 .2l.2 0l.2-.2l.2 .1l.2 0l.2 .2l.2 0l.2-.1l.2-.2l.2 .2l.2 0l.2 .1l.2-.1l.2-.1l.2-.1l.2 .1l.2-.1l.2 0l.2 .1l.2 0l.2 .1l.2 0l.2-.1l.2 .4l.2-.4l.2 .2l.2-.1l.2 .1l.2-.5l.2 .2l.2 .2l.2 0l.2 .3l.2-.3l.2 .1l.2-.1l.2 .1l.2-.1l.2-.1l.2 .1l.2-.3l.2 .4l.2-.4l.2 .2l.2 .3l.2-.4l.2 .1l.2 .2l.2-.2l.2-.2l.2 .2l.2 0l.2 .1l.2-.3l.2 .4l.2 0l.2-.3l.2 .1l.2-.1l.2 .2l.2-.3l.2 .2l.2-.2l.2 0l.2 .2l.2 .1l.2-.2l.2-.1l.2 .2l.2-.1l.2 0l.2 .2l.2-.1l.2-.2l.2 .4l.2-.4l.2 .1l.2-.2l.2 .1l.2-.3l.2 .6l.2-.1l.2-.4l.2-.1l.2 0l.2 .4l.2-.2l.2 0l.2 0l.2 0l.2-.2l.2 .2l.2-.2l.2 .2l.2 0l.2 0l.2-.1l.2-.1l.2 .2l.2-.2l.2 .4l.2-.2l.2-.1l.2-.1l.2 0l.2-.1l.2 .1l.2 .1l.2 0l.2 0l.2 .2l.2-.4l.2 .1l.2 .4l.2-.8l.2 .2l.2 .1l.2 0l.2 0l.2-.1l.2 .1l.2-.1l.2 .1l.2-.4l.2 .1l.2 .1l.2-.1l.2-.1l.2 .3l.2-.2l.2 .1l.2 0l.2-.1l.2 .1l.2-.2l.2-.2l.2 .2l.2 0l.2-.1l.2 0l.2 .1l.2-.3l.2 .2l.2 .2l.2-.4l.2 0l.2 0l.2 .2l.2-.2l.2 0l.2-.3l.2 .1l.2-.1l.2-.3l.2 .5l.2-.2l.2-.5l.2 .4l.2-.2l.2 0l.2-.1l.2-.4l.2 .1l.2 .2l.2-.4l.2-.2l.2-.1l.2-.1l.2 .1l.2 0l.2-.3l.2-.2l.2 .1l.2-.7l.2-.2l.2-.1l.2-.3l.2-.6l.2-.5l.2-.2l.2-.6l.2-.9l.2-.6l.2-1.1l.2-1.1l.2-1.7l.2-2l.2-2.8l.2-3.2l.2-4.3l.2-5.6l.2-6.3l.2-7.6l.2-8l.2-8l.2-6.7l.2-4.2l.2 0l.2 4l.2 6.6l.2 8.3l.2 8l.2 7.6l.2 6.2l.2 5.2l.2 4.7l.2 3.4l.2 2.6l.2 2.3l.2 1.4l.2 1.2l.2 1.2l.2 .5l.2 .8l.2 .7l.2 .6l.2 .2l.2 .5l.2 .1l.2 .4l.2 .5l.2-.2l.2 .7l.2-.3l.2 .3l.2 .2l.2 .2l.2-.2l.2 0l.2 .5l.2 .1l.2 .1l.2 .4l.2-.3l.2 .1l.2 .1l.2 0l.2 .3l.2-.4l.2 .2l.2-.5l.2 .8l.2-.2l.2 .3l.2 .2l.2-.3l.2 0l.2 0l.2 0l.2 .1l.2 .2l.2-.1l.2 .1l.2 0l.2 .2l.2-.1l.2 0l.2 .1l.2-.1l.2-.1l.2 .4l.2-.1l.2-.2l.2 .3l.2-.1l.2-.2l.2 .5l.2-.2l.2 .1l.2-.1l.2 0l.2-.2l.2 .4l.2-.1l.2-.1l.2 .2l.2-.1l.2 .1l.2-.1l.2 .1l.2-.4l.2 .3l.2 .2l.2 .1l.2-.2l.2 0l.2 .3l.2-.3l.2 .2l.2 .2l.2-.3l.2 .2l.2-.3l.2 .2l.2-.1l.2 .1l.2 .2l.2 .2l.2-.5l.2 0l.2 .2l.2-.2l.2 .2l.2 0l.2-.1l.2 .2l.2-.4l.2 .4l.2-.4l.2 .2l.2 0l.2 .1l.2 .2l.2-.2l.2 0l.2 .1l.2 .2l.2-.2l.2 0l.2 .2l.2-.2l.2-.2l.2 .6l.2 0l.2-.7l.2 .3l.2 .1l.2 .1l.2-.1l.2-.1l.2-.1l.2 .2l.2 .1l.2-.3l.2 0l.2 .2l.2-.3l.2 .2l.2 0l.2 .2l.2-.2l.2 0l.2 0l.2 .1l.2-.1l.2 .1l.2 .1l.2 .1l.2 .1l.2-.4l.2 .1l.2-.4l.2 .8l.2-.5l.2 .1l.2 .1l.2-.3l.2 .3l.2 0l.2-.3l.2 .3l.2 .2l.2-.5l.2 .4l.2-.1l.2 .1l.2 0l.2 .1l.2-.2l.2 .1l.2-.2l.2 .2l.2-.2l.2 .1l.2 .3l.2-.2l.2-.1l.2-.2l.2 .1l.2 .2l.2 .1l.2-.1l.2 0l.2-.1l.2 .3l.2-.3l.2 0l.2 .2l.2-.1l.2-.1l.2 0l.2 0l.2 .2l.2-.1l.2-.2l.2 .2l.2 0l.2-.2l.2 .3l.2-.2l.2 0l.2 .2l.2 .1l.2-.3l.2 .1l.2-.2l.2 .5l.2-.4l.2 .3l.2-.3l.2 .2l.2 .2l.2-.7l.2 .3l.2 .2l.2-.1l.2-.1l.2 .4l.2-.3l.2-.3l.2 .4l.2-.4l.2 .5l.2-.3l.2 .1l.2 .2l.2-.2l.2-.2l.2-.1l.2 .5l.2-.1l.2-.2l.2 .2l.2 0l.2 0l.2-.5l.2 .4l.2 .1l.2 0l.2 0l.2-.5l.2 .4l.2 .1l.2 .3l.2-.6l.2 .1l.2 .1l.2 .1l.2-.2l.2 .3l.2-.3l.2 .1l.2-.1l.2 .1l.2-.1l.2-.2l.2 .5l.2-.2l.2-.1l.2 .1l.2 .1l.2-.3l.2 .2l.2 .1l.2 0l.2-.2l.2-.3l.2 .6l.2-.2l.2 0l.2-.1l.2 .1l.2-.1l.2-.1l.2 0l.2 .1l.2 0l.2-.1l.2 .3l.2-.4l.2 .4l.2-.3l.2 .2l.2 .2l.2-.2l.2-.2l.2 .1l.2 0l.2-.3l.2 .2l.2 .1l.2-.1l.2 .1l.2 .1l.2 0l.2 0l.2 0l.2-.2l.2 .1l.2-.1l.2 0l.2 0l.2-.2l.2 .2l.2 0l.2-.1l.2 .1l.2 .1l.2-.1l.2 .3l.2-.8l.2 .4l.2-.3l.2 .5l.2 .2l.2-.8l.2 .4l.2 0l.2-.1l.2 .1l.2-.4l.2 .4l.2-.1l.2 0l.2-.2l.2 .2l.2-.2l.2 .1l.2-.2l.2-.3l.2 .3l.2 .1l.2 0l.2-.3l.2 .1l.2 0l.2-.1l.2 .1l.2 .1l.2-.5l.2-.3l.2 .4l.2 0l.2-.1l.2-.1l.2-.4l.2-.1l.2 .1l.2-.4l.2-.3l.2 0l.2 .4l.2-.3l.2-.6l.2-.3l.2-.1l.2-.4l.2 0l.2-.6l.2-.6l.2 0l.2-.8l.2-.5l.2-.6l.2-.7l.2-.6l.2-1l.2-1l.2-.8l.2-.7l.2-.7l.2-.5l.2-.5l.2-.3l.2-.2l.2 0l.2 .3l.2 .3l.2 1l.2 .9l.2 .8l.2 .7l.2 .8l.2 1l.2 .5l.2 .8l.2 .6l.2 .5l.2 .7l.2 .1l.2 .5l.2 .2l.2 .4l.2 .6l.2 .3l.2 0l.2 .3l.2 .3l.2 .1l.2 .2l.2-.2l.2 .2l.2 .3l.2 .3l.2-.1l.2-.1l.2 .2l.2 0l.2 0l.2 .5l.2-.3l.2 .2l.2 .4l.2-.1l.2-.1l.2-.1l.2 .2l.2 .2l.2-.1l.2 .1l.2-.1l.2 .1l.2-.1l.2 .1l.2 .2l.2-.4l.2 .2l.2 .1l.2-.1l.2 0l.2 .2l.2 .2l.2-.2l.2 0l.2-.3l.2 .6l.2-.3l.2 0l.2-.2l.2 .2l.2-.1l.2 .2l.2 0l.2 0l.2 0l.2-.1l.2 .3l.2-.3l.2-.2l.2 .3l.2-.1l.2 0l.2 .1l.2 .1l.2-.2l.2 .1l.2 .3l.2-.1l.2-.1l.2 0l.2 0l.2 0l.2 .1l.2-.1l.2-.4l.2 .4l.2-.1l.2 .2l.2-.2l.2 .2l.2 .3l.2-.5l.2 0l.2-.1l.2-.1l.2 .1l.2 .3l.2-.1l.2-.2l.2 0l.2 .4l.2-.2l.2 0l.2 .1l.2 .2l.2 .1l.2-.1l.2-.2l.2 0l.2 .3l.2-.1l.2-.2l.2 .1l.2 0l.2-.1l.2-.1l.2-.1l.2 .1l.2-.1l.2 .4l.2-.1l.2-.3l.2 .5l.2-.1l.2-.5l.2 .6l.2-.1l.2 .2l.2-.6l.2 .3l.2 0l.2 0l.2 0l.2 .1l.2-.4l.2 .1l.2-.1l.2 .2l.2 0l.2 .1l.2 0l.2 0l.2-.1l.2 0l.2 .2l.2 0l.2-.1l.2-.1l.2 .3l.2-.3l.2 .2l.2 .1l.2-.3l.2 .2l.2-.3l.2 .3l.2-.1l.2-.3l.2 .4l.2-.3l.2 .4l.2-.3l.2 .1l.2 0l.2-.1l.2 .1l.2-.1l.2 .2l.2-.1l.2 0l.2-.5l.2 .7l.2-.2l.2-.3l.2 .3l.2 .1l.2 .1l.2-.4l.2 .4l.2-.2l.2 .4l.2-.4l.2 .1l.2-.2l.2-.1l.2 .4l.2-.1l.2 .1l.2-.1l.2-.2l.2-.2l.2 .2l.2 0l.2 0l.2 .2l.2 0l.2-.1l.2 0l.2 0l.2 0l.2 .1l.2 .1l.2-.3l.2-.1l.2 .4l.2-.2l.2 .2l.2-.5l.2 .3l.2 0l.2-.2l.2 .1l.2 .2l.2 .1l.2 .1l.2-.4l.2-.1l.2 .3l.2 .1l.2-.2l.2-.2l.2 .3l.2 0l.2 0l.2-.2l.2 .2l.2 0l.2-.2l.2-.2l.2 .4l.2 0l.2-.1l.2 .1l.2-.2l.2 .1l.2 0l.2 .1l.2 .2l.2-.3l.2 .3l.2 0l.2-.2l.2 0l.2 .2l.2-.3l.2 0l.2-.2l.2 .3l.2 .1l.2-.1l.2 0l.2-.1l.2 0l.2-.2l.2 .4l.2-.3l.2-.1l.2 .1l.2 0l.2 .2l.2 .1l.2-.4l.2 .3l.2 0l.2-.2l.2-.1l.2 .1l.2 0l.2 .1l.2-.1l.2-.2l.2 .3l.2-.3l.2 .4l.2-.3l.2 .1l.2-.1l.2 .1l.2 .3l.2-.1l.2 0l.2-.1l.2-.3l.2 .2l.2 0l.2-.1l.2 .2l.2-.2l.2 0l.2 0l.2-.2l.2 .4l.2 .1l.2-.1l.2-.2l.2-.3l.2 .4l.2 .2l.2-.2l.2 .1l.2 .1l.2-.1l.2-.2l.2 .2l.2-.1l.2-.4l.2 .2l.2-.2l.2 .2l.2 .1l.2-.3l.2-.2l.2 .5l.2-.3l.2 .2l.2-.6l.2 .3l.2 .1l.2-.2l.2-.5l.2-.1l.2-.2l.2 0l.2-.2l.2-.3l.2-.3l.2 .3l.2-.2l.2 .3l.2 .1l.2 .4l.2 .1l.2-.1l.2 .3l.2 .4l.2-.2l.2 .2l.2 .2l.2 .1l.2 0l.2-.3l.2 .1l.2 .3l.2 0l.2 .4l.2-.5l.2 .4l.2-.1l.2-.4l.2 .2l.2 .2l.2-.1l.2 0l.2 .2l.2-.2l.2 .2l.2-.2l.2 0l.2 .2l.2-.2l.2 .2l.2 .2l.2-.2l.2-.1l.2 .2l.2-.2l.2 .2l.2-.3l.2 .3l.2-.2l.2-.1l.2 .5l.2-.5l.2 .5l.2-.2l.2 .1l.2-.4l.2 .4l.2 0l.2-.2l.2 0l.2 .4l.2-.4l.2-.1l.2 0l.2 .2l.2 0l.2-.1l.2 .3l.2-.3l.2 .1l.2 .1l.2-.4l.2 .4l.2 .1l.2-.5l.2 0l.2 0l.2-.1l.2 .4l.2-.4l.2 .4l.2 .1l.2-.4l.2 .2l.2-.3l.2 .4l.2-.2l.2 .1l.2 0l.2 .1l.2-.1l.2 0l.2-.1l.2 .1l.2-.2l.2 .2l.2-.3l.2 .2l.2 .4l.2-.3l.2-.2l.2 .3l.2-.2l.2-.1l.2 .1l.2 .2l.2 0l.2-.1l.2-.1l.2-.1l.2 .4l.2-.1l.2-.2l.2-.2l.2 .1l.2 .6l.2-.6l.2 .2l.2 .1l.2-.1l.2 0l.2-.2l.2 .1l.2 .4l.2-.4l.2 .3l.2-.5l.2 .3l.2 .1l.2 .1l.2-.4l.2 .3l.2 0l.2-.2l.2 .2l.2-.2l.2 0l.2 .1l.2-.4l.2 .4l.2-.1l.2-.1l.2 .1l.2 .2l.2-.2l.2 .3l.2-.4l.2 0l.2 .5l.2-.2l.2 .1l.2-.3l.2 .2l.2 0l.2 0l.2-.1l.2 .2l.2-.3l.2 0l.2-.1l.2 .4l.2-.3l.2-.1l.2 .1l.2 0l.2-.1l.2 .2l.2-.1l.2 0l.2-.1l.2 .2l.2-.1l.2 .1l.2 0l.2 0l.2-.4l.2 .3l.2 0l.2 .2l.2-.4l.2 .2l.2 0l.2 0l.2 .2l.2-.2l.2 .2l.2-.4l.2 0l.2 .5l.2-.2l.2 .1l.2-.1l.2 .1l.2-.3l.2 .3l.2-.2l.2 .2l.2-.1l.2-.4l.2 .2l.2 .3l.2-.2l.2 0l.2 .1l.2-.1l.2 0l.2 .1l.2 0l.2 .2l.2-.3l.2 .3l.2 0l.2 0l.2-.1l.2-.2l.2 0l.2 0l.2-.1l.2 .1l.2-.1l.2 .4l.2-.2l.2-.2l.2-.2l.2 .3l.2-.1l.2-.1l.2 0l.2-.2l.2 .5l.2-.2l.2 .5l.2-.5l.2 0l.2 .3l.2-.3l.2 0l.2-.1l.2 0l.2 .3l.2-.1l.2 .1l.2-.3l.2 .1l.2-.2l.2 .3l.2-.4l.2 .3l.2 .1l.2 0l.2-.4l.2 .3l.2-.3l.2 0l.2-.2l.2 .4l.2 .1l.2-.4l.2-.1l.2 .1l.2 .4l.2-.3l.2-.3l.2-.3l.2 .2l.2 .2l.2 .1l.2-.5l.2-.1l.2 0l.2-.4l.2 .4l.2-.4l.2 .3l.2-.6l.2 0l.2 .2l.2-.2l.2 .2l.2-.2l.2-.2l.2 .3l.2 .1l.2-.4l.2 .6l.2-.1l.2 .1l.2-.4l.2 .2l.2 .1l.2 .3l.2-.4l.2 .1l.2-.1l.2 .3l.2 .1l.2-.3l.2 .1l.2 .2l.2 .1l.2-.1l.2-.2l.2-.2l.2 0l.2 0l.2 .1l.2-.1l.2 .2l.2-.3l.2-.2l.2 .3l.2-.2l.2-.2l.2-.2l.2-.2l.2 0l.2 .2l.2-.3l.2-.1l.2 .1l.2 0l.2 0l.2 0l.2 .1l.2-.4l.2 .3l.2-.3l.2 .3l.2 0l.2 0l.2 .2l.2-.1l.2 .3l.2 0l.2 0l.2-.1l.2 .1l.2 .1l.2 .1l.2 .1l.2 .6l.2-.3l.2 0l.2-.2l.2 .1l.2 .1l.2 .1l.2-.1l.2 .4l.2-.3l.2 .3l.2-.5l.2 .3l.2 .1l.2 0l.2 0l.2 0l.2 0l.2-.4l.2 .2l.2-.3l.2 .5l.2-.1l.2-.1l.2-.1l.2 .1l.2 .4l.2 0l.2-.3l.2 .3l.2-.5l.2 0l.2 .3l.2 0l.2 .1l.2 .2l.2 .5l.2-.5l.2 .1l.2 .1l.2 0l.2 .2l.2 .2l.2-.5l.2 .3l.2 0l.2 .1l.2-.3l.2 0l.2 0l.2 .4l.2 0l.2 0l.2-.4l.2 .4l.2-.1l.2-.1l.2 .1l.2 .3l.2 0l.2-.1l.2 .1l.2-.1l.2 .1l.2 0l.2 .1l.2-.1l.2 0l.2 0l.2-.1l.2 .5l.2-.3l.2 0l.2 .3l.2-.1l.2-.5l.2 .4l.2 0l.2 .2l.2-.1l.2-.1l.2-.3l.2 .1l.2 .1l.2 .1l.2-.3l.2 .1l.2 0l.2 .1l.2 .1l.2-.1l.2-.2l.2 .4l.2 .1l.2-.3l.2 .2l.2-.1l.2 0l.2 0l.2-.2l.2 .2l.2 .1l.2-.3l.2 .5l.2 0l.2-.1l.2 .1l.2-.2l.2-.2l.2 0l.2-.1l.2 .2l.2 0l.2 .1l.2-.5l.2 .7l.2 0l.2-.3l.2 .1l.2 0l.2-.1l.2-.1l.2 .1l.2-.2l.2 .2l.2 0l.2 0l.2-.2l.2 .2l.2 0l.2 .1l.2-.3l.2 .2l.2 .1l.2 0l.2-.2l.2 0l.2 0l.2 .2l.2 .1l.2-.3l.2 0l.2 .1l.2 0l.2-.2l.2 0l.2 .1l.2 .2l.2-.3l.2 0l.2 .2l.2-.3l.2 .3l.2 0l.2-.1l.2-.1l.2 .1l.2-.1l.2 .1l.2-.2l.2 .3l.2-.4l.2 .2l.2 0l.2 .1l.2-.3l.2 .2l.2-.3l.2 .2l.2 .1l.2-.5l.2 .1l.2-.3l.2 .3l.2-.1l.2-.2l.2-.1l.2 .3l.2 .1l.2 .1l.2 0l.2-.3l.2 .2l.2 .4l.2-.3l.2 .4l.2 .2l.2-.2l.2 .1l.2-.2l.2-.1l.2 .2l.2 0l.2 0l.2 .1l.2-.1l.2 .1l.2 0l.2 0l.2 .3l.2-.3l.2 0l.2-.1l.2 0l.2 .3l.2-.2l.2-.2l.2 .1l.2 .1l.2-.1l.2 .3l.2-.4l.2 .3l.2-.1l.2-.2l.2 .2l.2 0l.2 .1l.2-.1l.2 .1l.2-.3l.2 .1l.2 .3l.2 0l.2-.2l.2-.1l.2 .3l.2-.5l.2 .2l.2 .2l.2 0l.2-.2l.2-.2l.2 .6l.2-.2l.2-.2l.2 .1l.2 .2l.2-.6l.2 .6l.2 0l.2-.5l.2 .5l.2-.4l.2 .4l.2-.1l.2 .3l.2-.5l.2 .1l.2 .2l.2-.3l.2 0l.2 .1l.2 0l.2-.1l.2 .2l.2 0l.2 0l.2 .2l.2-.3l.2 .3l.2-.3l.2 .2l.2-.5l.2 .4l.2-.1l.2 0l.2 0l.2 0l.2-.1l.2-.2l.2 .3l.2 0l.2 0l.2-.1l.2 .1l.2 .2l.2-.2l.2 0l.2 .3l.2-.1l.2 0l.2 0l.2-.2l.2 0l.2 .2l.2-.2l.2 0l.2 .1l.2 0l.2-.1l.2 .2l.2-.2l.2 .2l.2 0l.2 0l.2 0l.2-.3l.2-.1l.2 .2l.2 .1l.2 .2l.2-.4l.2 .2l.2-.2l.2 0l.2 .1l.2 .2l.2-.1l.2 .1l.2-.3l.2 .3l.2 0l.2-.1l.2 0l.2-.1l.2-.1l.2 .1l.2-.1l.2 .6l.2-.5l.2 .3l.2-.2l.2 0l.2 .1l.2-.3l.2 .3l.2-.1l.2-.3l.2 .3l.2 0l.2 0l.2 .2l.2-.3l.2 .1l.2 .1l.2-.3l.2 .3l.2-.4l.2 0l.2 .3l.2-.2l.2 .1l.2-.2l.2 .3l.2-.2l.2 .2l.2-.3l.2 .3l.2-.1l.2 .1l.2-.1l.2 .1l.2-.3l.2-.2l.2 .5l.2-.2l.2 .1l.2 .1l.2-.4l.2 .2l.2 0l.2 0l.2 .2l.2-.1l.2-.1l.2 0l.2 .3l.2-.3l.2 .2l.2 0l.2-.4l.2 .2l.2 .1l.2 .1l.2 .1l.2 0l.2 0l.2-.2l.2 0l.2 .2l.2-.2l.2 .2l.2-.4l.2 .3l.2-.1l.2-.3l.2 .5l.2-.1l.2-.1l.2-.1l.2 .1l.2 .3l.2-.4l.2-.4l.2 .4l.2-.1l.2 .2l.2 0l.2-.1l.2 0l.2 .3l.2-.4l.2 .5l.2-.4l.2-.1l.2 .3l.2 0l.2-.2l.2 .2l.2-.4l.2 .2l.2 .3l.2-.2l.2-.2l.2 .3l.2 .1l.2-.2l.2-.3l.2 .3l.2 .1l.2 0l.2 .2l.2-.3l.2-.1l.2 .1l.2 .2l.2-.4l.2 .4l.2-.6l.2 .5l.2-.2l.2 .2l.2 0l.2-.3l.2 .2l.2 0l.2 .1l.2-.3l.2 0l.2-.1l.2 .7l.2-.5l.2 0l.2-.2l.2 .4l.2-.2l.2 .3l.2-.1l.2-.1l.2 .1l.2-.3l.2 .1l.2-.1l.2-.1l.2 .2l.2 0l.2 .2l.2-.7l.2 .4l.2 0l.2 0l.2 .2l.2 0l.2-.1l.2-.1l.2 .1l.2 0l.2-.3l.2 .2l.2-.2l.2 0l.2 .2l.2 0l.2 0l.2-.1l.2 .1l.2-.2l.2 .2l.2 .1l.2 .1l.2-.1l.2-.3l.2 0l.2-.1l.2 .2l.2 .3l.2-.3l.2-.5l.2 .2l.2-.1l.2 .3l.2-.1l.2 0l.2 .2l.2-.5l.2 0l.2 .4l.2-.3l.2-.2l.2-.3l.2 0l.2-.2l.2 .4l.2-.1l.2 .1l.2-.3l.2-.2l.2-.1l.2 .3l.2-.7l.2 .1l.2-.1l.2-.1l.2-.3l.2-.1l.2-.1l.2-.3l.2-.3l.2-.1l.2-.3l.2 0l.2-.2l.2 0l.2 .1l.2 0l.2-.3l.2 .3l.2 0l.2 .2l.2 0l.2 .3l.2 0l.2 .2l.2 .4l.2 .3l.2 0l.2 .2l.2 .1l.2 0l.2 0l.2 .5l.2 0l.2 0l.2 0l.2 .5l.2-.4l.2 .6l.2-.1l.2 .4l.2-.5l.2 .2l.2 0l.2 .1l.2 0l.2 0l.2 .3l.2-.3l.2 .1l.2 .2l.2-.1l.2 0l.2 .1l.2 0l.2-.2l.2 .2l.2 0l.2 .4l.2-.5l.2 .4l.2-.3l.2 .1l.2 0l.2 .1l.2 .1l.2 .2l.2-.4l.2 .3l.2 0l.2 0l.2-.3l.2 .3l.2-.2l.2 .1l.2-.1l.2 .2l.2 .1l.2 0l.2-.2l.2 .2l.2 0l.2-.3l.2 .3l.2-.4l.2 .3l.2 0l.2 .2l.2-.2l.2-.1l.2-.1l.2-.1l.2 .4l.2-.2l.2-.1l.2 .2l.2-.2l.2 .1l.2 0l.2 .3l.2 0l.2-.3l.2-.2l.2 .3l.2 0l.2 0l.2 .1l.2-.2l.2 .2l.2 0l.2-.1l.2-.1l.2 0l.2 .2l.2-.3l.2 .2l.2-.1l.2-.1l.2 .3l.2-.1l.2 0l.2 .1l.2-.3l.2 .2l.2 0l.2 .1l.2-.3l.2 .3l.2-.1l.2 .2l.2 0l.2-.1l.2 .2l.2-.3l.2-.1l.2 .1l.2-.1l.2 .1l.2-.3l.2 .3l.2 .1l.2 .1l.2-.2l.2 .2l.2-.3l.2 .1l.2-.3l.2 .2l.2 0l.2 .3l.2-.1l.2-.3l.2 .3l.2 0l.2-.1l.2 0l.2 0l.2-.1l.2-.2l.2 .3l.2 .2l.2 0l.2-.2l.2-.1l.2 .1l.2 .2l.2-.1l.2-.2l.2 .2l.2-.1l.2 .1l.2-.1l.2-.2l.2 .2l.2 .1l.2-.3l.2 .2l.2 .2l.2-.2l.2-.1l.2 .4l.2-.2l.2 .1l.2-.3l.2 .4l.2-.5l.2 .1l.2 .2l.2 .1l.2-.3l.2 0l.2 .1l.2-.3l.2 .4l.2 0l.2-.2l.2 .2l.2 0l.2 0l.2 0l.2 .1l.2-.3l.2 .1l.2-.1l.2 .3l.2-.3l.2 .2l.2-.1l.2 0l.2 .3l.2-.3l.2 .2l.2-.1l.2 .1l.2-.2l.2 .1l.2 0l.2-.2l.2 .1l.2 0l.2 0l.2 .2l.2-.3l.2-.2l.2 0l.2 .2l.2 0l.2 .1l.2 .1l.2 .1l.2-.2l.2 0l.2-.1l.2 .2l.2 .1l.2 0l.2-.5l.2 .4l.2 .1l.2-.1l.2-.4l.2 .2l.2 .1l.2 0l.2-.2l.2 0l.2 .3l.2-.4l.2 .5l.2-.3l.2 .1l.2-.3l.2 .1l.2 .2l.2-.3l.2 .5l.2-.5l.2 0l.2 .2l.2 .1l.2 0l.2-.2l.2 0l.2 0l.2 0l.2-.3l.2 .5l.2-.1l.2 0l.2-.2l.2 .2l.2-.1l.2 0l.2 .2l.2-.5l.2 .3l.2-.2l.2 .1l.2 .3l.2-.4l.2 .1l.2-.1l.2 .2l.2-.3l.2-.1l.2 .3l.2-.1l.2 0l.2 .2l.2-.4l.2 .1l.2 .1l.2 0l.2-.2l.2 .2l.2 .2l.2-.5l.2 .3l.2-.6l.2 .5l.2-.3l.2 0l.2-.1l.2-.1l.2-.2l.2 .1l.2 .2l.2-.1l.2-.3l.2-.1l.2-.1l.2-.1l.2 .4l.2-.3l.2-.2l.2-.2l.2-.1l.2 .3l.2-.2l.2-.3l.2 .2l.2-.4l.2 .3l.2-.3l.2 .1l.2 .1l.2 0l.2 .1l.2-.2l.2 .4l.2 0l.2-.1l.2 .1l.2-.1l.2 .2l.2-.1l.2 .3l.2 .1l.2 .2l.2 0l.2 0l.2-.1l.2 .1l.2 0l.2 .1l.2-.2l.2 .4l.2-.3l.2 .2l.2 .1l.2-.1l.2 .4l.2-.3l.2 .3l.2-.1l.2-.3l.2 .2l.2 .1l.2-.2l.2 0l.2-.1l.2 .1l.2-.1l.2 0l.2 .1l.2 0l.2-.2l.2-.1l.2 .1l.2-.2l.2-.2l.2 .2l.2-.3l.2 .2l.2-.4l.2 .3l.2-.5l.2 .2l.2 .1l.2-.5l.2 .3l.2-.4l.2-.1l.2 .3l.2 0l.2-.1l.2-.3l.2 .4l.2 0l.2 .1l.2 .1l.2-.2l.2 .3l.2 .4l.2 .1l.2-.2l.2 0l.2 .3l.2 .2l.2 0l.2-.2l.2 .2l.2 .1l.2 .3l.2 0l.2-.1l.2 .2l.2-.2l.2 .3l.2-.2l.2 .1l.2 .2l.2-.3l.2 .1l.2-.2l.2 .4l.2-.1l.2 0l.2 .2l.2-.4l.2 .3l.2 .1l.2-.1l.2 .2l.2 .2l.2-.4l.2 0l.2 .1l.2 .1l.2 .1l.2-.3l.2 .3l.2-.3l.2 .3l.2 0l.2 0l.2 .3l.2-.4l.2 0l.2 .1l.2 .1l.2-.3l.2 .2l.2-.1l.2 .2l.2 .1l.2-.2l.2 0l.2 0l.2-.4l.2 .5l.2 0l.2-.1l.2 0l.2-.1l.2 .1l.2 .2l.2-.2l.2 .2l.2-.5l.2 .3l.2 .1l.2 0l.2-.3l.2 .2l.2 .3l.2-.4l.2 0l.2 0l.2 .1l.2 .2l.2 0l.2-.4l.2 .5l.2-.3l.2 0l.2 .3l.2-.2l.2-.2l.2 .1l.2 0l.2-.1l.2 .1l.2 .2l.2 0l.2-.3l.2 .6l.2-.6l.2 .2l.2 0l.2 .1l.2-.1l.2 .1l.2 .2l.2-.3l.2-.2l.2 .3l.2-.2l.2 .1l.2 0l.2 .1l.2-.1l.2 .1l.2-.1l.2-.2l.2 .4l.2-.2l.2 .2l.2-.3l.2 .2l.2 0l.2-.5l.2 .2l.2 .1l.2 .3l.2-.5l.2 .5l.2 0l.2-.1l.2 0l.2-.1l.2 0l.2 .1l.2 0l.2 0l.2-.1l.2-.1l.2 0l.2 .2l.2-.3l.2 0l.2 .2l.2-.1l.2 .1l.2-.4l.2 .4l.2 0l.2 .2l.2-.5l.2 .3l.2 .1l.2 0l.2 .1l.2 0l.2-.3l.2 .2l.2-.1l.2-.1l.2 .4l.2-.4l.2 0l.2 .1l.2-.1l.2 .3l.2-.1l.2 .2l.2-.2l.2-.2l.2 .3l.2-.3l.2 .1l.2 0l.2 0l.2 .2l.2-.3l.2 .2l.2-.1l.2-.2l.2 .1l.2 .1l.2 .1l.2 0l.2 0l.2 0l.2-.1l.2 .1l.2-.2l.2-.1l.2 .2l.2-.2l.2 .2l.2-.1l.2 .1l.2 0l.2-.1l.2 .1l.2-.2l.2 .3l.2-.2l.2 .2l.2-.5l.2 .3l.2 .2l.2-.4l.2 .3l.2 .1l.2 0l.2-.3l.2 .3l.2 0l.2-.2l.2 .3l.2-.2l.2 0l.2 0l.2 .1l.2 0l.2 .1l.2-.1l.2-.2l.2 .1l.2 .2l.2-.2l.2 .1l.2 0l.2-.1l.2-.3l.2 .4l.2 0l.2 0l.2-.2l.2 .3l.2-.2l.2-.1l.2 0l.2 .2l.2-.2l.2 0l.2 .4l.2-.1l.2 0l.2 0l.2-.1l.2-.3l.2 .4l.2 0l.2-.1l.2-.4l.2 .5l.2 0l.2-.2l.2 .1l.2 .1l.2-.2l.2 .2l.2-.2l.2 .1l.2-.1l.2-.2l.2 .1l.2 .6l.2-.4l.2 .1l.2 0l.2 .1l.2-.2l.2-.2l.2 .1l.2-.3l.2 .3l.2 .2l.2-.5l.2 .3l.2 .1l.2 .1l.2-.3l.2 0l.2-.2l.2 .2l.2 .2l.2 .2l.2-.5l.2 .4l.2-.1l.2-.2l.2 .4l.2-.7l.2 .4l.2 0l.2 .3l.2 0l.2 0l.2-.3l.2 .1l.2 .1l.2-.1l.2-.1l.2 0l.2-.1l.2-.1l.2 .5l.2-.4l.2-.2l.2 .3l.2 0l.2 0l.2 .3l.2-.3l.2-.1l.2-.1l.2 .2l.2-.1l.2 .1l.2 .4l.2-.4l.2-.2l.2 .4l.2-.1l.2 0l.2-.1l.2 .1l.2-.1l.2 .1l.2 0l.2 0l.2-.3l.2 .1l.2-.1l.2 .2l.2 0l.2-.2l.2 .2l.2 .3l.2-.2l.2-.4l.2 .1l.2 .2l.2-.2l.2 .1l.2 .1l.2-.1l.2-.2l.2 .2l.2-.1l.2 0l.2-.1l.2-.1l.2 0l.2 .1l.2-.1l.2-.3l.2 .6l.2-.4l.2 .1l.2 .2l.2-.5l.2 .6l.2-.4l.2 .2l.2-.2l.2 .1l.2 0l.2-.1l.2-.3l.2 .1l.2 .2l.2 .2l.2-.4l.2 .2l.2-.1l.2 0l.2 0l.2-.4l.2 .3l.2-.2l.2 0l.2-.1l.2-.1l.2-.1l.2 0l.2 .5l.2-.2l.2-.3l.2 .1l.2-.4l.2-.3l.2 .1l.2 .2l.2 .2l.2-.3l.2-.2l.2 .1l.2-.2l.2-.1l.2 .2l.2-.1l.2 0l.2-.1l.2 0l.2 .2l.2 .2l.2-.2l.2 .4l.2-.6l.2 .4l.2-.2l.2 .2l.2 .1l.2 .1l.2 .2l.2-.3l.2 0l.2 .2l.2 .1l.2-.1l.2 .3l.2 .2l.2-.4l.2 .3l.2 .1l.2-.4l.2 .4l.2 0l.2-.2l.2 .5l.2-.1l.2-.1l.2 .2l.2 0l.2 .1l.2 0l.2 0l.2-.3l.2 .2l.2 .1l.2-.5l.2 .8l.2-.3l.2-.1l.2-.1l.2 .3l.2 0l.2-.1l.2 0l.2 0l.2 0l.2 .1l.2 0l.2 .2l.2-.1l.2 0l.2 .1l.2 .1l.2-.1l.2 0l.2-.1l.2-.1l.2 .1l.2 .2l.2-.1l.2-.1l.2-.1l.2-.1l.2 .3l.2 .1l.2 0l.2-.3l.2 .2l.2 0l.2-.1l.2 .2l.2-.1l.2-.1l.2-.1l.2 .4l.2-.1l.2-.2l.2 0l.2 .3l.2-.1l.2-.1l.2 .3l.2-.3l.2-.1l.2 .3l.2-.2l.2 .1l.2 0l.2-.2l.2 0l.2 .1l.2 .3l.2-.4l.2 .4l.2-.2l.2-.2l.2 .2l.2 .1l.2-.3l.2-.1l.2 .3l.2-.2l.2 .3l.2-.4l.2 .3l.2-.1l.2-.1l.2 .2l.2 0l.2-.1l.2-.1l.2 .2l.2-.3l.2 .4l.2 0l.2 .2l.2-.1l.2-.1l.2 0l.2-.1l.2-.2l.2 .4l.2-.1l.2-.1l.2-.2l.2 .5l.2-.2l.2-.3l.2 .3l.2 .2l.2-.3l.2 .1l.2-.1l.2-.1l.2 .3l.2 .3l.2-.5l.2 0l.2 .2l.2-.2l.2 .1l.2 .1l.2-.3l.2 0l.2 .1l.2 .2l.2-.1l.2 .1l.2-.4l.2 .3l.2-.2l.2 .2l.2 0l.2-.2l.2 .1l.2-.1l.2 .2l.2-.2l.2 .1l.2 .1l.2-.2l.2 .3l.2-.3l.2 .3l.2-.1l.2-.2l.2 .1l.2-.1l.2 .1l.2 0l.2 .3l.2-.3l.2 .3l.2-.2l.2-.3l.2-.1l.2 .4l.2-.4l.2 .5l.2 0l.2-.1l.2-.1l.2 0l.2 .1l.2-.1l.2 0l.2 0l.2 .2l.2-.3l.2 .2l.2-.2l.2 0l.2-.1l.2 .2l.2 .1l.2 0l.2-.1l.2 .1l.2-.1l.2 .1l.2 0l.2 0l.2-.4l.2 .1l.2 .4l.2-.2l.2 .4l.2-.4l.2 0l.2 .3l.2-.2l.2 .2l.2-.2l.2-.1l.2 .1l.2-.2l.2 .1l.2-.1l.2 .1l.2 .2l.2-.2l.2 .1l.2-.1l.2 .2l.2-.6l.2 .4l.2 .1l.2-.2l.2 .3l.2-.1l.2 .1l.2 0l.2-.1l.2-.1l.2-.1l.2 .1l.2-.1l.2 .2l.2-.2l.2 .6l.2-.7l.2 .4l.2-.3l.2 .1l.2 .2l.2-.2l.2-.2l.2 .3l.2-.1l.2-.3l.2 .3l.2-.2l.2 .1l.2 .2l.2-.1l.2-.1l.2 .4l.2-.2l.2-.2l.2 .1l.2 0l.2-.4l.2 .1l.2 .1l.2 .5l.2-.4l.2 0l.2 0l.2 .2l.2-.1l.2 .2l.2-.1l.2 .1l.2-.3l.2 .1l.2-.1l.2 0l.2-.3l.2 .2l.2-.1l.2 .1l.2 .3l.2-.2l.2 .1l.2 0l.2 0l.2 0l.2-.3l.2 .2l.2-.2l.2 0l.2 .3l.2 .1l.2-.5l.2 .4l.2-.2l.2-.2l.2 .1l.2 0l.2 0l.2-.1l.2-.2l.2 .2l.2 .1l.2-.1l.2 0l.2 .1l.2-.4l.2 .2l.2 0l.2 .1l.2-.1l.2 0l.2-.1l.2 .4l.2-.7l.2 .3l.2 .4l.2-.3l.2-.3l.2 .3l.2-.2l.2 .1l.2 .2l.2 .2l.2-.2l.2 .1l.2 .1l.2-.1l.2-.2l.2 .1l.2 .1l.2-.1l.2 0l.2 .1l.2-.2l.2 .1l.2 .1l.2 0l.2 .1l.2 .2l.2-.2l.2 0l.2-.2l.2 0l.2 .2l.2-.2l.2 .2l.2-.2l.2 .2l.2 0l.2 .1l.2-.2l.2 0l.2 .1l.2 0l.2 .2l.2-.3l.2 0l.2 0l.2 .1l.2 0l.2 0l.2-.3l.2 .6l.2-.1l.2-.3l.2-.2l.2 .2l.2 0l.2-.4l.2 .3l.2-.2l.2 .2l.2 .2l.2-.1l.2-.4l.2 .4l.2-.1l.2-.2l.2 .1l.2 .1l.2-.3l.2 0l.2-.1l.2 .2l.2-.5l.2 .5l.2-.4l.2 .3l.2-.4l.2 .1l.2 .1l.2 .2l.2-.4l.2 .4l.2-.2l.2 .3l.2-.2l.2 .1l.2-.1l.2 .4l.2-.3l.2 0l.2 .4l.2-.3l.2 .1l.2-.2l.2 .2l.2-.3l.2 .4l.2-.1l.2-.1l.2 0l.2 .4l.2-.1l.2-.3l.2 .6l.2-.4l.2 .1l.2 .1l.2-.2l.2-.1l.2 .2l.2 .3l.2 0l.2-.4l.2 .4l.2-.2l.2 .1l.2 0l.2 0l.2-.2l.2 0l.2 .1l.2 0l.2 .2l.2-.3l.2 .5l.2-.4l.2 0l.2 .2l.2 0l.2-.1l.2-.1l.2 0l.2-.1l.2 .4l.2 0l.2 .1l.2-.2l.2 0l.2 .1l.2 0l.2-.2l.2 .1l.2 .3l.2-.6l.2 .1l.2 0l.2 .3l.2 .1l.2-.3l.2 .2l.2-.1l.2 0l.2-.1l.2 .1l.2 0l.2 .2l.2 .1l.2-.6l.2 .4l.2-.1l.2 .2l.2 0l.2-.1l.2 0l.2-.2l.2-.1l.2 .5l.2-.1l.2-.3l.2 .3l.2-.1l.2-.5l.2 .6l.2-.3l.2 .3l.2-.3l.2 0l.2-.1l.2 .2l.2 .2l.2-.3l.2-.2l.2 .7l.2-.1l.2-.2l.2-.2l.2-.1l.2 0l.2 .3l.2 .1l.2-.3l.2 .1l.2 0l.2 0l.2 .1l.2 .2l.2-.4l.2 .3l.2 0l.2-.2l.2 0l.2-.2l.2 .4l.2-.3l.2 0l.2 .1l.2-.1l.2 0l.2 .1l.2 .3l.2-.3l.2 .1l.2-.3l.2-.1l.2 .6l.2-.3l.2-.2l.2 .2l.2 .1l.2-.3l.2 .1l.2 .2l.2-.2l.2 .2l.2 .1l.2-.1l.2-.1l.2 0l.2-.1l.2 .1l.2 .1l.2-.1l.2 .2l.2 .2l.2-.5l.2 .2l.2 0l.2 0l.2-.1l.2-.1l.2 .3l.2-.1l.2 0l.2-.2l.2 .2l.2 0l.2-.1l.2 .1l.2 .2l.2-.6l.2 .4l.2-.3l.2 0l.2 .1l.2 .2l.2-.1l.2-.2l.2-.1l.2 .2l.2 .1l.2-.2l.2-.1l.2 .5l.2-.4l.2 .1l.2 0l.2 0l.2 0l.2 0l.2 .1l.2-.3l.2 0l.2 .5l.2-.3l.2 .1l.2 .1l.2-.1l.2-.1l.2-.3l.2 0l.2 .4l.2 0l.2-.1l.2-.3l.2-.1l.2 .2l.2-.1l.2 .2l.2-.2l.2 .4l.2-.3l.2 0l.2 .2l.2-.1l.2-.2l.2 .2l.2 .2l.2-.5l.2 .1l.2-.1l.2-.2l.2 .4l.2 0l.2 0l.2-.1l.2-.4l.2 .3l.2-.1l.2-.2l.2 0l.2 .3l.2-.2l.2 .3l.2-.3l.2-.4l.2 .4l.2 .1l.2-.3l.2-.2l.2 .4l.2-.5l.2 .2l.2-.3l.2 .1l.2-.1l.2 .4l.2 0l.2-.3l.2-.1l.2 .2l.2 .1l.2-.3l.2 0l.2 .2l.2 .2l.2-.1l.2 .1l.2-.3l.2-.1l.2 .5l.2-.2l.2 .2l.2-.1l.2 .2l.2-.1l.2 .3l.2-.2l.2 .2l.2 0l.2 .1l.2-.1l.2-.3l.2 .2l.2 .4l.2-.2l.2 .1l.2 0l.2-.2l.2 0l.2 .1l.2 .3l.2-.1l.2 .2l.2-.2l.2 .2l.2-.2l.2-.2l.2 .5l.2-.3l.2 .2l.2-.2l.2 0l.2 .1l.2-.2l.2 0l.2 0l.2 .1l.2-.1l.2 .2l.2 0l.2 .3l.2 0l.2-.3l.2 .2l.2-.2l.2 .1l.2-.1l.2 0l.2 .1l.2-.3l.2 .3l.2-.1l.2-.1l.2 .1l.2 .2l.2-.2l.2 .1l.2 .1l.2 .1l.2-.4l.2 .2l.2 .1l.2 .1l.2-.2l.2 .1l.2-.3l.2 .1l.2 .4l.2-.3l.2 .3l.2-.4l.2 .1l.2-.2l.2 .3l.2 0l.2 .2l.2-.3l.2 0l.2-.2l.2 .2l.2 .2l.2-.1l.2 .1l.2 0l.2-.2l.2 .1l.2 0l.2-.3l.2 .5l.2-.2l.2-.2l.2 .2l.2 0l.2 .1l.2 .1l.2-.7l.2 .5l.2 .2l.2-.4l.2-.2l.2 .4l.2 0l.2 0l.2-.2l.2 .1l.2 .1l.2 .1l.2 .2l.2-.3l.2-.1l.2-.3l.2 .5l.2-.2l.2 0l.2-.1l.2 .3l.2-.4l.2 .3l.2 0l.2 0l.2 .2l.2-.3l.2 .1l.2 .1l.2-.4l.2 .2l.2 .1l.2 .1l.2-.3l.2 .3l.2-.1l.2-.3l.2 0l.2 0l.2 .3l.2 0l.2 .1l.2 0l.2-.2l.2 .2l.2 0l.2-.1l.2 0l.2-.2l.2 .2l.2-.2l.2 0l.2 .1l.2 .1l.2 0l.2-.1l.2-.1l.2 .2l.2-.1l.2-.2l.2 .3l.2 .2l.2-.3l.2-.1l.2 .4l.2 0l.2-.3l.2 0l.2 .1l.2 .4l.2-.4l.2 .1l.2-.1l.2-.3l.2 .1l.2 0l.2 .2l.2 0l.2 .3l.2-.4l.2 .1l.2 0l.2 0l.2 .3l.2-.3l.2 .2l.2 0l.2-.3l.2 .2l.2-.2l.2 .1l.2 0l.2 0l.2-.1l.2 .3l.2-.3l.2 .2l.2 .1l.2-.1l.2 0l.2 .1l.2 0l.2 .1l.2-.5l.2 .5l.2-.3l.2-.3l.2 .2l.2-.1l.2 .2l.2-.3l.2 .1l.2 .2l.2 0l.2-.1l.2 0l.2 .1l.2 0l.2 0l.2-.1l.2 .2l.2-.4l.2 .2l.2 .1l.2-.1l.2 0l.2 0l.2 .1l.2 .2l.2-.2l.2-.1l.2 .1l.2-.1l.2-.2l.2 .3l.2-.1l.2 0l.2 .2l.2-.1l.2-.1l.2-.3l.2 .1l.2 .3l.2 0l.2 .1l.2-.1l.2-.1l.2-.1l.2 0l.2 .2l.2-.2l.2 .3" fill="none" stroke="#EF2B30" stroke-width="2.7" stroke-linejoin="round" stroke-linecap="round"/>
<g stroke="#000" fill="none">
<line x1="61.1" y1="3.8" x2="61.1" y2="670.0" stroke-width="2.5"/>
<line x1="953.6" y1="3.8" x2="953.6" y2="670.0" stroke-width="2.6"/>
<line x1="59.9" y1="4.8" x2="954.9" y2="4.8" stroke-width="2.0"/>
<line x1="59.9" y1="669.0" x2="954.9" y2="669.0" stroke-width="2.0"/>
<line x1="61.1" y1="99.7" x2="953.6" y2="99.7" stroke-width="2.2"/>
<line x1="61.1" y1="194.7" x2="953.6" y2="194.7" stroke-width="2.2"/>
<line x1="61.1" y1="289.7" x2="953.6" y2="289.7" stroke-width="2.2"/>
<line x1="61.1" y1="384.6" x2="953.6" y2="384.6" stroke-width="2.2"/>
<line x1="61.1" y1="479.4" x2="953.6" y2="479.4" stroke-width="2.2"/>
<line x1="61.1" y1="574.0" x2="953.6" y2="574.0" stroke-width="2.2"/>
<line x1="113.6" y1="669.0" x2="113.6" y2="658.2" stroke-width="2.5"/>
<line x1="166.1" y1="669.0" x2="166.1" y2="658.2" stroke-width="2.5"/>
<line x1="218.6" y1="669.0" x2="218.6" y2="658.2" stroke-width="2.5"/>
<line x1="271.1" y1="669.0" x2="271.1" y2="658.2" stroke-width="2.5"/>
<line x1="323.6" y1="669.0" x2="323.6" y2="658.2" stroke-width="2.5"/>
<line x1="376.1" y1="669.0" x2="376.1" y2="658.2" stroke-width="2.5"/>
<line x1="428.6" y1="669.0" x2="428.6" y2="658.2" stroke-width="2.5"/>
<line x1="481.1" y1="669.0" x2="481.1" y2="658.2" stroke-width="2.5"/>
<line x1="533.6" y1="669.0" x2="533.6" y2="658.2" stroke-width="2.5"/>
<line x1="586.1" y1="669.0" x2="586.1" y2="658.2" stroke-width="2.5"/>
<line x1="638.6" y1="669.0" x2="638.6" y2="658.2" stroke-width="2.5"/>
<line x1="691.1" y1="669.0" x2="691.1" y2="658.2" stroke-width="2.5"/>
<line x1="743.6" y1="669.0" x2="743.6" y2="658.2" stroke-width="2.5"/>
<line x1="796.1" y1="669.0" x2="796.1" y2="658.2" stroke-width="2.5"/>
<line x1="848.6" y1="669.0" x2="848.6" y2="658.2" stroke-width="2.5"/>
<line x1="901.1" y1="669.0" x2="901.1" y2="658.2" stroke-width="2.5"/>
</g>
<g font-size="25.2" text-anchor="middle" transform="translate(0,702.2) scale(1,1.085)">
<text x="61.0" y="0">0</text>
<text x="113.5" y="0">5</text>
<text x="166.0" y="0">10</text>
<text x="218.5" y="0">15</text>
<text x="271.0" y="0">20</text>
<text x="323.5" y="0">25</text>
<text x="376.0" y="0">30</text>
<text x="428.5" y="0">35</text>
<text x="481.0" y="0">40</text>
<text x="533.5" y="0">45</text>
<text x="586.0" y="0">50</text>
<text x="638.5" y="0">55</text>
<text x="691.0" y="0">60</text>
<text x="743.5" y="0">65</text>
<text x="796.0" y="0">70</text>
<text x="848.5" y="0">75</text>
<text x="901.0" y="0">80</text>
<text x="953.5" y="0">85</text>
</g>
<text x="510.8" y="742" font-size="33" text-anchor="middle">2θ (°)</text>
<text transform="translate(26.8,302.6) rotate(-90)" font-size="32" text-anchor="middle">Intensity (a.u.)</text>
<path transform="translate(373.2,17.3) scale(0.56,0.72)" d="M0,20.0L-9.25,9.9C-11,8.1-11.45,6.8-11.45,5.4C-11.45,2.4-8.9,0-5.7,0C-3.2,0-1,1.3,0,3.2C1,1.3,3.2,0,5.7,0C8.9,0,11.45,2.4,11.45,5.4C11.45,6.8,11,8.1,9.25,9.9Z" fill="#000"/>
<text x="380.7" y="31.6" font-size="22.9">PTFE</text>
<path d="M454.4,16.9L459.8,24.2L454.4,31.5L449,24.2Z" fill="#000"/>
<text x="461.0" y="31.6" font-size="22.9">VMo/CeTi</text>
<rect x="798.3" y="7.4" width="150.1" height="50.9" fill="#fff" stroke="#383838" stroke-width="1.0"/>
<line x1="803.1" y1="29.3" x2="873.5" y2="29.3" stroke="#E3A92B" stroke-width="3.3" stroke-linecap="round"/>
<text x="882.4" y="40.3" font-size="32.0">TiO<tspan dx="0.8" dy="8.2" font-size="22.5">2</tspan></text>
<rect x="790.6" y="102.3" width="157.8" height="50.8" fill="#fff" stroke="#383838" stroke-width="1.0"/>
<line x1="795.5" y1="124.4" x2="866.1" y2="124.4" stroke="#E80074" stroke-width="3.3" stroke-linecap="round"/>
<text x="874.9" y="135.4" font-size="31.8">CeO<tspan dx="0.3" dy="9.2" font-size="22.5">2</tspan></text>
<rect x="755.6" y="199.3" width="192.8" height="44.0" fill="#fff" stroke="#383838" stroke-width="1.0"/>
<line x1="760.5" y1="221.5" x2="831.1" y2="221.5" stroke="#03D403" stroke-width="3.3" stroke-linecap="round"/>
<text x="838.9" y="232.4" font-size="32.4">VMo/Ti</text>
<rect x="798.6" y="294.3" width="147.8" height="43.7" fill="#fff" stroke="#383838" stroke-width="1.0"/>
<line x1="803.1" y1="316.4" x2="873.5" y2="316.4" stroke="#06C3C3" stroke-width="3.3" stroke-linecap="round"/>
<text x="882.5" y="327.4" font-size="32.3">V/Ti</text>
<rect x="722.4" y="390.6" width="227.9" height="43.4" fill="#fff" stroke="#383838" stroke-width="1.0"/>
<line x1="727.1" y1="412.3" x2="797.5" y2="412.3" stroke="#9600BE" stroke-width="3.3" stroke-linecap="round"/>
<text x="806.1" y="423.3" font-size="31.9">VMo/CeTi</text>
<rect x="783.8" y="483.0" width="162.2" height="43.8" fill="#fff" stroke="#383838" stroke-width="1.0"/>
<line x1="788.7" y1="505.0" x2="859.1" y2="505.0" stroke="#006E00" stroke-width="3.0" stroke-linecap="round"/>
<text x="866.9" y="516.0" font-size="32.4">PTFE</text>
<rect x="634.8" y="579.2" width="313.6" height="43.4" fill="#fff" stroke="#383838" stroke-width="1.0"/>
<line x1="639.7" y1="601.0" x2="710.1" y2="601.0" stroke="#EF2B30" stroke-width="2.5" stroke-linecap="round"/>
<text x="718.7" y="612.0" font-size="32.0">VMo/CeTi-PTFE</text>
<g fill="#000">
<path transform="translate(254.7,470.1)" d="M0,20.0L-9.25,9.9C-11,8.1-11.45,6.8-11.45,5.4C-11.45,2.4-8.9,0-5.7,0C-3.2,0-1,1.3,0,3.2C1,1.3,3.2,0,5.7,0C8.9,0,11.45,2.4,11.45,5.4C11.45,6.8,11,8.1,9.25,9.9Z"/>
<path transform="translate(399.3,535.7)" d="M0,20.0L-9.25,9.9C-11,8.1-11.45,6.8-11.45,5.4C-11.45,2.4-8.9,0-5.7,0C-3.2,0-1,1.3,0,3.2C1,1.3,3.2,0,5.7,0C8.9,0,11.45,2.4,11.45,5.4C11.45,6.8,11,8.1,9.25,9.9Z"/>
<path transform="translate(452.3,537.3)" d="M0,20.0L-9.25,9.9C-11,8.1-11.45,6.8-11.45,5.4C-11.45,2.4-8.9,0-5.7,0C-3.2,0-1,1.3,0,3.2C1,1.3,3.2,0,5.7,0C8.9,0,11.45,2.4,11.45,5.4C11.45,6.8,11,8.1,9.25,9.9Z"/>
<path transform="translate(584.0,538.3)" d="M0,20.0L-9.25,9.9C-11,8.1-11.45,6.8-11.45,5.4C-11.45,2.4-8.9,0-5.7,0C-3.2,0-1,1.3,0,3.2C1,1.3,3.2,0,5.7,0C8.9,0,11.45,2.4,11.45,5.4C11.45,6.8,11,8.1,9.25,9.9Z"/>
<path transform="translate(658.6,539.4)" d="M0,20.0L-9.25,9.9C-11,8.1-11.45,6.8-11.45,5.4C-11.45,2.4-8.9,0-5.7,0C-3.2,0-1,1.3,0,3.2C1,1.3,3.2,0,5.7,0C8.9,0,11.45,2.4,11.45,5.4C11.45,6.8,11,8.1,9.25,9.9Z"/>
<path transform="translate(760.7,539.3)" d="M0,20.0L-9.25,9.9C-11,8.1-11.45,6.8-11.45,5.4C-11.45,2.4-8.9,0-5.7,0C-3.2,0-1,1.3,0,3.2C1,1.3,3.2,0,5.7,0C8.9,0,11.45,2.4,11.45,5.4C11.45,6.8,11,8.1,9.25,9.9Z"/>
<path transform="translate(254.5,566.6)" d="M0,20.0L-9.25,9.9C-11,8.1-11.45,6.8-11.45,5.4C-11.45,2.4-8.9,0-5.7,0C-3.2,0-1,1.3,0,3.2C1,1.3,3.2,0,5.7,0C8.9,0,11.45,2.4,11.45,5.4C11.45,6.8,11,8.1,9.25,9.9Z"/>
<path transform="translate(399.0,633.0)" d="M0,20.0L-9.25,9.9C-11,8.1-11.45,6.8-11.45,5.4C-11.45,2.4-8.9,0-5.7,0C-3.2,0-1,1.3,0,3.2C1,1.3,3.2,0,5.7,0C8.9,0,11.45,2.4,11.45,5.4C11.45,6.8,11,8.1,9.25,9.9Z"/>
<path transform="translate(455.0,633.0)" d="M0,20.0L-9.25,9.9C-11,8.1-11.45,6.8-11.45,5.4C-11.45,2.4-8.9,0-5.7,0C-3.2,0-1,1.3,0,3.2C1,1.3,3.2,0,5.7,0C8.9,0,11.45,2.4,11.45,5.4C11.45,6.8,11,8.1,9.25,9.9Z"/>
<path transform="translate(572.3,630.3)" d="M0,20.0L-9.25,9.9C-11,8.1-11.45,6.8-11.45,5.4C-11.45,2.4-8.9,0-5.7,0C-3.2,0-1,1.3,0,3.2C1,1.3,3.2,0,5.7,0C8.9,0,11.45,2.4,11.45,5.4C11.45,6.8,11,8.1,9.25,9.9Z"/>
<path transform="translate(638.7,632.7)" d="M0,20.0L-9.25,9.9C-11,8.1-11.45,6.8-11.45,5.4C-11.45,2.4-8.9,0-5.7,0C-3.2,0-1,1.3,0,3.2C1,1.3,3.2,0,5.7,0C8.9,0,11.45,2.4,11.45,5.4C11.45,6.8,11,8.1,9.25,9.9Z"/>
<path transform="translate(726.7,633.0)" d="M0,20.0L-9.25,9.9C-11,8.1-11.45,6.8-11.45,5.4C-11.45,2.4-8.9,0-5.7,0C-3.2,0-1,1.3,0,3.2C1,1.3,3.2,0,5.7,0C8.9,0,11.45,2.4,11.45,5.4C11.45,6.8,11,8.1,9.25,9.9Z"/>
<path transform="translate(806.0,634.0)" d="M0,20.0L-9.25,9.9C-11,8.1-11.45,6.8-11.45,5.4C-11.45,2.4-8.9,0-5.7,0C-3.2,0-1,1.3,0,3.2C1,1.3,3.2,0,5.7,0C8.9,0,11.45,2.4,11.45,5.4C11.45,6.8,11,8.1,9.25,9.9Z"/>
<path d="M329.5,376.1L338.2,386.3L329.5,396.6L320.8,386.3Z"/>
<path d="M460.9,433.8L469.6,444.0L460.9,454.2L452.2,444.0Z"/>
<path d="M569.5,425.8L578.2,436.0L569.5,446.2L560.8,436.0Z"/>
<path d="M628.2,438.8L636.9,449.0L628.2,459.2L619.5,449.0Z"/>
<path d="M644.8,435.8L653.5,446.0L644.8,456.2L636.1,446.0Z"/>
<path d="M720.4,440.8L729.1,451.0L720.4,461.2L711.7,451.0Z"/>
<path d="M786.4,443.8L795.1,454.0L786.4,464.2L777.7,454.0Z"/>
<path d="M803.0,442.4L811.7,452.7L803.0,462.9L794.3,452.7Z"/>
<path d="M853.4,443.1L862.1,453.3L853.4,463.6L844.7,453.3Z"/>
<path d="M330.3,620.0L339.0,630.3L330.3,640.5L321.6,630.3Z"/>
</g>
</svg></body></html>
